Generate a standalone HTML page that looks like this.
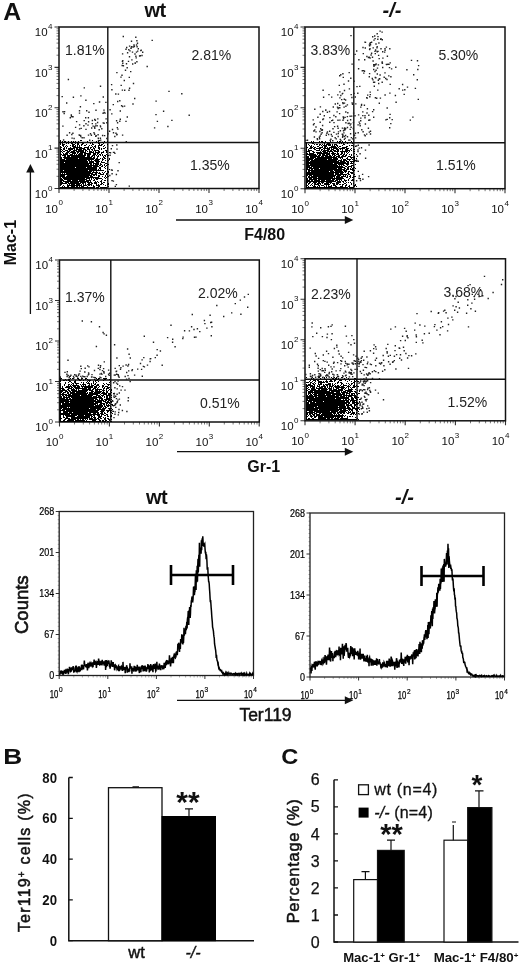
<!DOCTYPE html>
<html><head><meta charset="utf-8"><title>Figure</title>
<style>
html,body{margin:0;padding:0;background:#fff;}
body{width:520px;height:966px;overflow:hidden;font-family:"Liberation Sans", sans-serif;}
svg{display:block;font-family:"Liberation Sans", sans-serif;filter:grayscale(1);}
</style></head><body>
<svg width="520" height="966" viewBox="0 0 520 966">
<rect width="520" height="966" fill="#fff"/>
<path d="M59 188.5v4.5M59 188.5h-4.5M109 188.5v4.5M59 148.1h-4.5M159 188.5v4.5M59 107.8h-4.5M209 188.5v4.5M59 67.4h-4.5M259 188.5v4.5M59 27h-4.5" stroke="#333" stroke-width="1.1" fill="none"/>
<path d="M74.1 188.5v2.5M59 176.3h-2.5M82.9 188.5v2.5M59 169.2h-2.5M89.1 188.5v2.5M59 164.2h-2.5M93.9 188.5v2.5M59 160.3h-2.5M97.9 188.5v2.5M59 157.1h-2.5M101.3 188.5v2.5M59 154.4h-2.5M104.2 188.5v2.5M59 152h-2.5M106.7 188.5v2.5M59 150h-2.5M124.1 188.5v2.5M59 136h-2.5M132.9 188.5v2.5M59 128.9h-2.5M139.1 188.5v2.5M59 123.8h-2.5M143.9 188.5v2.5M59 119.9h-2.5M147.9 188.5v2.5M59 116.7h-2.5M151.3 188.5v2.5M59 114h-2.5M154.2 188.5v2.5M59 111.7h-2.5M156.7 188.5v2.5M59 109.6h-2.5M174.1 188.5v2.5M59 95.6h-2.5M182.9 188.5v2.5M59 88.5h-2.5M189.1 188.5v2.5M59 83.4h-2.5M193.9 188.5v2.5M59 79.5h-2.5M197.9 188.5v2.5M59 76.3h-2.5M201.3 188.5v2.5M59 73.6h-2.5M204.2 188.5v2.5M59 71.3h-2.5M206.7 188.5v2.5M59 69.2h-2.5M224.1 188.5v2.5M59 55.2h-2.5M232.9 188.5v2.5M59 48.1h-2.5M239.1 188.5v2.5M59 43.1h-2.5M243.9 188.5v2.5M59 39.2h-2.5M247.9 188.5v2.5M59 36h-2.5M251.3 188.5v2.5M59 33.3h-2.5M254.2 188.5v2.5M59 30.9h-2.5M256.7 188.5v2.5M59 28.8h-2.5" stroke="#666" stroke-width="0.9" fill="none"/>
<rect x="59" y="27" width="200" height="161.5" fill="none" stroke="#111" stroke-width="1.5"/>
<path d="M107.8 27V188.5M59 142.5H259" stroke="#111" stroke-width="1.4" fill="none"/>
<text x="45.2" y="212.7" font-size="11.5" fill="#111">10<tspan font-size="8" dy="-7.3" dx="0.4">0</tspan></text>
<text x="34.8" y="197.9" font-size="11.5" fill="#111">10<tspan font-size="8" dy="-7.3" dx="0.4">0</tspan></text>
<text x="95.2" y="212.7" font-size="11.5" fill="#111">10<tspan font-size="8" dy="-7.3" dx="0.4">1</tspan></text>
<text x="34.8" y="157.5" font-size="11.5" fill="#111">10<tspan font-size="8" dy="-7.3" dx="0.4">1</tspan></text>
<text x="145.2" y="212.7" font-size="11.5" fill="#111">10<tspan font-size="8" dy="-7.3" dx="0.4">2</tspan></text>
<text x="34.8" y="117.2" font-size="11.5" fill="#111">10<tspan font-size="8" dy="-7.3" dx="0.4">2</tspan></text>
<text x="195.2" y="212.7" font-size="11.5" fill="#111">10<tspan font-size="8" dy="-7.3" dx="0.4">3</tspan></text>
<text x="34.8" y="76.8" font-size="11.5" fill="#111">10<tspan font-size="8" dy="-7.3" dx="0.4">3</tspan></text>
<text x="245.2" y="212.7" font-size="11.5" fill="#111">10<tspan font-size="8" dy="-7.3" dx="0.4">4</tspan></text>
<text x="34.8" y="36.4" font-size="11.5" fill="#111">10<tspan font-size="8" dy="-7.3" dx="0.4">4</tspan></text>
<path d="M100 145.5h1M100 154.5h1M100 155.5h1M100 158.5h1M100 163.5h1M100 164.5h1M100 165.5h1M100 167.5h1M100 168.5h1M100 169.5h1M100 170.5h1M100 173.5h1M100 174.5h1M100 178.5h1M100 181.5h1M100 184.5h1M100 187.5h1M101 144.5h1M101 145.5h1M101 148.5h1M101 149.5h1M101 152.5h1M101 153.5h1M101 161.5h1M101 162.5h1M101 164.5h1M101 166.5h1M101 170.5h1M101 174.5h1M101 178.5h1M101 180.5h1M101 181.5h1M101 182.5h1M101 183.5h1M101 184.5h1M101 187.5h1M102 142.5h1M102 144.5h1M102 152.5h1M102 154.5h1M102 155.5h1M102 158.5h1M102 159.5h1M102 160.5h1M102 162.5h1M102 165.5h1M102 166.5h1M102 170.5h1M102 172.5h1M102 174.5h1M102 176.5h1M102 179.5h1M102 183.5h1M102 187.5h1M103 143.5h1M103 146.5h1M103 148.5h1M103 151.5h1M103 152.5h1M103 156.5h1M103 157.5h1M103 159.5h1M103 162.5h1M103 170.5h1M103 173.5h1M103 174.5h1M103 182.5h1M103 184.5h1M103 187.5h1M104 141.5h1M104 145.5h1M104 148.5h1M104 155.5h1M104 157.5h1M104 158.5h1M104 162.5h1M104 164.5h1M104 165.5h1M104 167.5h1M104 172.5h1M104 177.5h1M104 180.5h1M104 182.5h1M104 187.5h1M105 147.5h1M105 150.5h1M105 155.5h1M105 156.5h1M105 158.5h1M105 160.5h1M105 163.5h1M105 166.5h1M105 168.5h1M105 171.5h1M105 175.5h1M105 176.5h1M105 178.5h1M105 180.5h1M105 185.5h1M105 187.5h1M106 150.5h1M106 151.5h1M106 152.5h1M106 154.5h1M106 163.5h1M106 165.5h1M106 173.5h1M106 174.5h1M106 177.5h1M106 187.5h1M107 141.5h1M107 144.5h1M107 148.5h1M107 155.5h1M107 156.5h1M107 161.5h1M107 164.5h1M107 167.5h1M107 168.5h1M107 169.5h1M107 171.5h1M107 173.5h1M107 175.5h1M107 176.5h1M107 180.5h1M107 184.5h1M108 155.5h1M108 160.5h1M108 164.5h1M108 171.5h1M108 172.5h1M108 176.5h1M108 183.5h1M108 184.5h1M108 186.5h1M109 152.5h1M109 158.5h1M109 159.5h1M109 169.5h1M60 140.5h1M60 141.5h1M60 142.5h1M60 143.5h1M60 144.5h1M60 146.5h1M60 147.5h1M60 148.5h1M60 149.5h1M60 150.5h1M60 151.5h1M60 152.5h1M60 153.5h1M60 154.5h1M60 155.5h1M60 156.5h1M60 157.5h1M60 158.5h1M60 159.5h1M60 160.5h1M60 161.5h1M60 162.5h1M60 163.5h1M60 164.5h1M60 165.5h1M60 166.5h1M60 167.5h1M60 168.5h1M60 169.5h1M60 170.5h1M60 171.5h1M60 172.5h1M60 173.5h1M60 174.5h1M60 175.5h1M60 176.5h1M60 177.5h1M60 178.5h1M60 179.5h1M60 180.5h1M60 181.5h1M60 182.5h1M60 183.5h1M60 184.5h1M60 185.5h1M60 187.5h1M61 147.5h1M61 149.5h1M61 151.5h1M61 154.5h1M61 157.5h1M61 158.5h1M61 159.5h1M61 160.5h1M61 161.5h1M61 162.5h1M61 163.5h1M61 164.5h1M61 165.5h1M61 166.5h1M61 167.5h1M61 168.5h1M61 169.5h1M61 170.5h1M61 171.5h1M61 172.5h1M61 174.5h1M61 175.5h1M61 176.5h1M61 178.5h1M61 179.5h1M61 180.5h1M61 181.5h1M61 182.5h1M61 183.5h1M61 184.5h1M61 187.5h1M62 141.5h1M62 143.5h1M62 144.5h1M62 145.5h1M62 150.5h1M62 152.5h1M62 155.5h1M62 159.5h1M62 160.5h1M62 161.5h1M62 162.5h1M62 163.5h1M62 164.5h1M62 165.5h1M62 166.5h1M62 167.5h1M62 168.5h1M62 169.5h1M62 170.5h1M62 171.5h1M62 172.5h1M62 173.5h1M62 174.5h1M62 175.5h1M62 176.5h1M62 177.5h1M62 179.5h1M62 180.5h1M62 182.5h1M62 183.5h1M62 186.5h1M62 187.5h1M63 144.5h1M63 145.5h1M63 146.5h1M63 148.5h1M63 149.5h1M63 151.5h1M63 153.5h1M63 154.5h1M63 155.5h1M63 157.5h1M63 159.5h1M63 160.5h1M63 161.5h1M63 162.5h1M63 163.5h1M63 164.5h1M63 165.5h1M63 166.5h1M63 167.5h1M63 168.5h1M63 169.5h1M63 171.5h1M63 172.5h1M63 174.5h1M63 175.5h1M63 176.5h1M63 177.5h1M63 178.5h1M63 180.5h1M63 181.5h1M63 183.5h1M63 185.5h1M63 187.5h1M64 141.5h1M64 142.5h1M64 144.5h1M64 147.5h1M64 148.5h1M64 149.5h1M64 151.5h1M64 154.5h1M64 155.5h1M64 156.5h1M64 157.5h1M64 158.5h1M64 159.5h1M64 160.5h1M64 161.5h1M64 163.5h1M64 164.5h1M64 165.5h1M64 166.5h1M64 167.5h1M64 168.5h1M64 169.5h1M64 170.5h1M64 171.5h1M64 172.5h1M64 173.5h1M64 174.5h1M64 175.5h1M64 176.5h1M64 177.5h1M64 178.5h1M64 179.5h1M64 181.5h1M64 183.5h1M64 186.5h1M64 187.5h1M65 141.5h1M65 146.5h1M65 150.5h1M65 153.5h1M65 154.5h1M65 155.5h1M65 156.5h1M65 157.5h1M65 158.5h1M65 160.5h1M65 161.5h1M65 162.5h1M65 163.5h1M65 164.5h1M65 165.5h1M65 166.5h1M65 167.5h1M65 168.5h1M65 169.5h1M65 170.5h1M65 171.5h1M65 172.5h1M65 174.5h1M65 177.5h1M65 178.5h1M65 179.5h1M65 181.5h1M65 182.5h1M65 183.5h1M65 187.5h1M66 143.5h1M66 145.5h1M66 147.5h1M66 148.5h1M66 150.5h1M66 152.5h1M66 153.5h1M66 154.5h1M66 157.5h1M66 158.5h1M66 159.5h1M66 160.5h1M66 161.5h1M66 162.5h1M66 163.5h1M66 164.5h1M66 165.5h1M66 166.5h1M66 167.5h1M66 168.5h1M66 169.5h1M66 170.5h1M66 171.5h1M66 172.5h1M66 173.5h1M66 174.5h1M66 176.5h1M66 177.5h1M66 178.5h1M66 179.5h1M66 181.5h1M66 182.5h1M66 183.5h1M66 187.5h1M67 142.5h1M67 146.5h1M67 150.5h1M67 151.5h1M67 152.5h1M67 153.5h1M67 154.5h1M67 155.5h1M67 156.5h1M67 157.5h1M67 158.5h1M67 159.5h1M67 160.5h1M67 161.5h1M67 162.5h1M67 163.5h1M67 164.5h1M67 165.5h1M67 166.5h1M67 167.5h1M67 168.5h1M67 169.5h1M67 170.5h1M67 171.5h1M67 172.5h1M67 173.5h1M67 174.5h1M67 175.5h1M67 176.5h1M67 177.5h1M67 178.5h1M67 179.5h1M67 180.5h1M67 181.5h1M67 182.5h1M67 184.5h1M67 185.5h1M67 186.5h1M67 187.5h1M68 141.5h1M68 143.5h1M68 148.5h1M68 149.5h1M68 151.5h1M68 152.5h1M68 155.5h1M68 156.5h1M68 157.5h1M68 158.5h1M68 159.5h1M68 160.5h1M68 161.5h1M68 162.5h1M68 163.5h1M68 164.5h1M68 165.5h1M68 166.5h1M68 167.5h1M68 168.5h1M68 169.5h1M68 170.5h1M68 171.5h1M68 172.5h1M68 173.5h1M68 174.5h1M68 175.5h1M68 176.5h1M68 177.5h1M68 178.5h1M68 179.5h1M68 180.5h1M68 181.5h1M68 182.5h1M68 183.5h1M68 185.5h1M68 186.5h1M68 187.5h1M69 148.5h1M69 149.5h1M69 150.5h1M69 151.5h1M69 153.5h1M69 155.5h1M69 156.5h1M69 157.5h1M69 158.5h1M69 159.5h1M69 160.5h1M69 161.5h1M69 162.5h1M69 163.5h1M69 164.5h1M69 165.5h1M69 166.5h1M69 167.5h1M69 168.5h1M69 169.5h1M69 170.5h1M69 171.5h1M69 172.5h1M69 173.5h1M69 174.5h1M69 175.5h1M69 176.5h1M69 177.5h1M69 178.5h1M69 179.5h1M69 180.5h1M69 181.5h1M69 183.5h1M69 184.5h1M69 185.5h1M69 187.5h1M70 142.5h1M70 145.5h1M70 147.5h1M70 148.5h1M70 149.5h1M70 150.5h1M70 152.5h1M70 154.5h1M70 155.5h1M70 157.5h1M70 158.5h1M70 159.5h1M70 160.5h1M70 161.5h1M70 162.5h1M70 163.5h1M70 164.5h1M70 165.5h1M70 166.5h1M70 167.5h1M70 168.5h1M70 169.5h1M70 170.5h1M70 171.5h1M70 172.5h1M70 173.5h1M70 174.5h1M70 175.5h1M70 176.5h1M70 177.5h1M70 178.5h1M70 179.5h1M70 180.5h1M70 181.5h1M70 182.5h1M70 183.5h1M70 185.5h1M70 187.5h1M71 141.5h1M71 143.5h1M71 148.5h1M71 149.5h1M71 151.5h1M71 152.5h1M71 154.5h1M71 155.5h1M71 156.5h1M71 157.5h1M71 158.5h1M71 159.5h1M71 160.5h1M71 161.5h1M71 162.5h1M71 163.5h1M71 164.5h1M71 165.5h1M71 166.5h1M71 167.5h1M71 168.5h1M71 169.5h1M71 170.5h1M71 171.5h1M71 172.5h1M71 173.5h1M71 174.5h1M71 175.5h1M71 176.5h1M71 177.5h1M71 178.5h1M71 179.5h1M71 181.5h1M71 182.5h1M71 183.5h1M71 184.5h1M71 185.5h1M71 186.5h1M71 187.5h1M72 142.5h1M72 143.5h1M72 144.5h1M72 145.5h1M72 146.5h1M72 148.5h1M72 149.5h1M72 151.5h1M72 152.5h1M72 153.5h1M72 154.5h1M72 155.5h1M72 156.5h1M72 157.5h1M72 158.5h1M72 159.5h1M72 160.5h1M72 161.5h1M72 162.5h1M72 163.5h1M72 164.5h1M72 165.5h1M72 166.5h1M72 167.5h1M72 168.5h1M72 169.5h1M72 170.5h1M72 171.5h1M72 172.5h1M72 173.5h1M72 174.5h1M72 175.5h1M72 176.5h1M72 177.5h1M72 178.5h1M72 179.5h1M72 180.5h1M72 181.5h1M72 182.5h1M72 183.5h1M72 184.5h1M72 185.5h1M72 186.5h1M72 187.5h1M73 141.5h1M73 142.5h1M73 144.5h1M73 145.5h1M73 146.5h1M73 147.5h1M73 148.5h1M73 150.5h1M73 151.5h1M73 152.5h1M73 153.5h1M73 155.5h1M73 156.5h1M73 157.5h1M73 158.5h1M73 159.5h1M73 160.5h1M73 161.5h1M73 162.5h1M73 163.5h1M73 164.5h1M73 165.5h1M73 166.5h1M73 167.5h1M73 168.5h1M73 169.5h1M73 170.5h1M73 171.5h1M73 172.5h1M73 173.5h1M73 174.5h1M73 175.5h1M73 176.5h1M73 177.5h1M73 178.5h1M73 179.5h1M73 180.5h1M73 181.5h1M73 182.5h1M73 183.5h1M73 184.5h1M73 185.5h1M73 186.5h1M73 187.5h1M74 142.5h1M74 144.5h1M74 146.5h1M74 147.5h1M74 148.5h1M74 149.5h1M74 150.5h1M74 151.5h1M74 152.5h1M74 153.5h1M74 154.5h1M74 155.5h1M74 156.5h1M74 157.5h1M74 158.5h1M74 159.5h1M74 160.5h1M74 161.5h1M74 162.5h1M74 163.5h1M74 164.5h1M74 165.5h1M74 166.5h1M74 167.5h1M74 168.5h1M74 169.5h1M74 170.5h1M74 171.5h1M74 172.5h1M74 173.5h1M74 174.5h1M74 175.5h1M74 176.5h1M74 177.5h1M74 178.5h1M74 179.5h1M74 180.5h1M74 181.5h1M74 182.5h1M74 183.5h1M74 184.5h1M74 185.5h1M74 186.5h1M74 187.5h1M75 141.5h1M75 143.5h1M75 145.5h1M75 146.5h1M75 147.5h1M75 150.5h1M75 152.5h1M75 153.5h1M75 155.5h1M75 156.5h1M75 157.5h1M75 158.5h1M75 159.5h1M75 160.5h1M75 161.5h1M75 162.5h1M75 163.5h1M75 164.5h1M75 165.5h1M75 166.5h1M75 168.5h1M75 169.5h1M75 170.5h1M75 171.5h1M75 172.5h1M75 173.5h1M75 174.5h1M75 175.5h1M75 176.5h1M75 177.5h1M75 178.5h1M75 179.5h1M75 180.5h1M75 181.5h1M75 182.5h1M75 183.5h1M75 185.5h1M75 187.5h1M76 147.5h1M76 148.5h1M76 149.5h1M76 150.5h1M76 151.5h1M76 154.5h1M76 155.5h1M76 156.5h1M76 157.5h1M76 158.5h1M76 159.5h1M76 160.5h1M76 161.5h1M76 162.5h1M76 163.5h1M76 164.5h1M76 165.5h1M76 166.5h1M76 167.5h1M76 168.5h1M76 169.5h1M76 170.5h1M76 171.5h1M76 172.5h1M76 173.5h1M76 174.5h1M76 175.5h1M76 176.5h1M76 177.5h1M76 178.5h1M76 179.5h1M76 180.5h1M76 181.5h1M76 182.5h1M76 183.5h1M76 184.5h1M76 185.5h1M76 186.5h1M76 187.5h1M77 142.5h1M77 143.5h1M77 144.5h1M77 145.5h1M77 146.5h1M77 147.5h1M77 148.5h1M77 149.5h1M77 151.5h1M77 152.5h1M77 153.5h1M77 155.5h1M77 156.5h1M77 157.5h1M77 158.5h1M77 159.5h1M77 160.5h1M77 161.5h1M77 162.5h1M77 163.5h1M77 164.5h1M77 165.5h1M77 166.5h1M77 167.5h1M77 168.5h1M77 169.5h1M77 170.5h1M77 171.5h1M77 172.5h1M77 173.5h1M77 174.5h1M77 175.5h1M77 176.5h1M77 177.5h1M77 178.5h1M77 179.5h1M77 180.5h1M77 181.5h1M77 182.5h1M77 183.5h1M77 184.5h1M77 185.5h1M77 186.5h1M77 187.5h1M78 141.5h1M78 143.5h1M78 144.5h1M78 147.5h1M78 149.5h1M78 150.5h1M78 151.5h1M78 152.5h1M78 154.5h1M78 155.5h1M78 156.5h1M78 157.5h1M78 159.5h1M78 160.5h1M78 161.5h1M78 162.5h1M78 163.5h1M78 164.5h1M78 165.5h1M78 166.5h1M78 167.5h1M78 168.5h1M78 169.5h1M78 170.5h1M78 171.5h1M78 172.5h1M78 173.5h1M78 174.5h1M78 175.5h1M78 176.5h1M78 177.5h1M78 178.5h1M78 179.5h1M78 181.5h1M78 182.5h1M78 183.5h1M78 184.5h1M78 185.5h1M78 187.5h1M79 145.5h1M79 146.5h1M79 147.5h1M79 148.5h1M79 149.5h1M79 150.5h1M79 151.5h1M79 153.5h1M79 154.5h1M79 155.5h1M79 156.5h1M79 157.5h1M79 158.5h1M79 159.5h1M79 160.5h1M79 161.5h1M79 162.5h1M79 163.5h1M79 164.5h1M79 165.5h1M79 166.5h1M79 167.5h1M79 168.5h1M79 169.5h1M79 170.5h1M79 171.5h1M79 172.5h1M79 173.5h1M79 174.5h1M79 175.5h1M79 176.5h1M79 177.5h1M79 178.5h1M79 179.5h1M79 180.5h1M79 181.5h1M79 183.5h1M79 184.5h1M79 185.5h1M79 186.5h1M79 187.5h1M80 140.5h1M80 147.5h1M80 148.5h1M80 149.5h1M80 150.5h1M80 151.5h1M80 152.5h1M80 153.5h1M80 154.5h1M80 155.5h1M80 156.5h1M80 157.5h1M80 158.5h1M80 159.5h1M80 160.5h1M80 161.5h1M80 162.5h1M80 163.5h1M80 164.5h1M80 165.5h1M80 166.5h1M80 167.5h1M80 168.5h1M80 169.5h1M80 170.5h1M80 171.5h1M80 172.5h1M80 173.5h1M80 174.5h1M80 175.5h1M80 176.5h1M80 177.5h1M80 178.5h1M80 179.5h1M80 180.5h1M80 181.5h1M80 182.5h1M80 183.5h1M80 185.5h1M80 187.5h1M81 140.5h1M81 142.5h1M81 144.5h1M81 145.5h1M81 147.5h1M81 148.5h1M81 149.5h1M81 150.5h1M81 151.5h1M81 152.5h1M81 153.5h1M81 154.5h1M81 155.5h1M81 156.5h1M81 157.5h1M81 158.5h1M81 159.5h1M81 160.5h1M81 161.5h1M81 162.5h1M81 163.5h1M81 164.5h1M81 165.5h1M81 166.5h1M81 167.5h1M81 168.5h1M81 169.5h1M81 170.5h1M81 171.5h1M81 172.5h1M81 173.5h1M81 174.5h1M81 175.5h1M81 176.5h1M81 177.5h1M81 178.5h1M81 179.5h1M81 180.5h1M81 181.5h1M81 182.5h1M81 184.5h1M81 185.5h1M81 186.5h1M81 187.5h1M82 142.5h1M82 143.5h1M82 144.5h1M82 148.5h1M82 150.5h1M82 151.5h1M82 152.5h1M82 153.5h1M82 154.5h1M82 155.5h1M82 156.5h1M82 157.5h1M82 158.5h1M82 159.5h1M82 160.5h1M82 161.5h1M82 162.5h1M82 163.5h1M82 164.5h1M82 165.5h1M82 166.5h1M82 167.5h1M82 168.5h1M82 169.5h1M82 170.5h1M82 171.5h1M82 172.5h1M82 173.5h1M82 174.5h1M82 175.5h1M82 176.5h1M82 177.5h1M82 178.5h1M82 179.5h1M82 180.5h1M82 181.5h1M82 182.5h1M82 183.5h1M82 186.5h1M82 187.5h1M83 143.5h1M83 148.5h1M83 149.5h1M83 150.5h1M83 151.5h1M83 152.5h1M83 155.5h1M83 156.5h1M83 157.5h1M83 158.5h1M83 159.5h1M83 160.5h1M83 161.5h1M83 162.5h1M83 163.5h1M83 164.5h1M83 165.5h1M83 166.5h1M83 167.5h1M83 168.5h1M83 169.5h1M83 170.5h1M83 171.5h1M83 172.5h1M83 173.5h1M83 174.5h1M83 175.5h1M83 176.5h1M83 177.5h1M83 178.5h1M83 179.5h1M83 180.5h1M83 181.5h1M83 182.5h1M83 183.5h1M83 184.5h1M83 185.5h1M83 186.5h1M83 187.5h1M84 145.5h1M84 147.5h1M84 148.5h1M84 149.5h1M84 152.5h1M84 153.5h1M84 154.5h1M84 155.5h1M84 156.5h1M84 157.5h1M84 158.5h1M84 159.5h1M84 160.5h1M84 161.5h1M84 162.5h1M84 163.5h1M84 164.5h1M84 165.5h1M84 166.5h1M84 167.5h1M84 168.5h1M84 169.5h1M84 170.5h1M84 171.5h1M84 172.5h1M84 173.5h1M84 174.5h1M84 175.5h1M84 176.5h1M84 177.5h1M84 178.5h1M84 179.5h1M84 180.5h1M84 181.5h1M84 182.5h1M84 185.5h1M84 187.5h1M85 145.5h1M85 147.5h1M85 149.5h1M85 150.5h1M85 151.5h1M85 152.5h1M85 153.5h1M85 154.5h1M85 155.5h1M85 157.5h1M85 158.5h1M85 159.5h1M85 160.5h1M85 161.5h1M85 162.5h1M85 163.5h1M85 164.5h1M85 165.5h1M85 166.5h1M85 167.5h1M85 168.5h1M85 169.5h1M85 170.5h1M85 171.5h1M85 172.5h1M85 173.5h1M85 174.5h1M85 175.5h1M85 176.5h1M85 177.5h1M85 179.5h1M85 181.5h1M85 182.5h1M85 183.5h1M85 184.5h1M85 185.5h1M85 187.5h1M86 144.5h1M86 147.5h1M86 150.5h1M86 153.5h1M86 157.5h1M86 158.5h1M86 159.5h1M86 160.5h1M86 161.5h1M86 162.5h1M86 163.5h1M86 164.5h1M86 165.5h1M86 166.5h1M86 168.5h1M86 169.5h1M86 170.5h1M86 171.5h1M86 172.5h1M86 173.5h1M86 174.5h1M86 175.5h1M86 176.5h1M86 177.5h1M86 178.5h1M86 179.5h1M86 180.5h1M86 181.5h1M86 185.5h1M86 187.5h1M87 141.5h1M87 142.5h1M87 147.5h1M87 148.5h1M87 149.5h1M87 151.5h1M87 153.5h1M87 154.5h1M87 155.5h1M87 156.5h1M87 157.5h1M87 158.5h1M87 159.5h1M87 161.5h1M87 162.5h1M87 163.5h1M87 164.5h1M87 165.5h1M87 166.5h1M87 167.5h1M87 168.5h1M87 169.5h1M87 170.5h1M87 171.5h1M87 172.5h1M87 173.5h1M87 174.5h1M87 175.5h1M87 176.5h1M87 177.5h1M87 178.5h1M87 180.5h1M87 181.5h1M87 182.5h1M87 184.5h1M87 186.5h1M87 187.5h1M88 146.5h1M88 147.5h1M88 148.5h1M88 149.5h1M88 153.5h1M88 154.5h1M88 155.5h1M88 156.5h1M88 157.5h1M88 158.5h1M88 159.5h1M88 160.5h1M88 163.5h1M88 164.5h1M88 165.5h1M88 166.5h1M88 167.5h1M88 168.5h1M88 169.5h1M88 171.5h1M88 172.5h1M88 173.5h1M88 174.5h1M88 175.5h1M88 176.5h1M88 177.5h1M88 178.5h1M88 180.5h1M88 181.5h1M88 182.5h1M88 183.5h1M88 184.5h1M88 185.5h1M88 187.5h1M89 145.5h1M89 149.5h1M89 150.5h1M89 151.5h1M89 152.5h1M89 153.5h1M89 154.5h1M89 155.5h1M89 156.5h1M89 157.5h1M89 158.5h1M89 159.5h1M89 160.5h1M89 161.5h1M89 162.5h1M89 163.5h1M89 165.5h1M89 166.5h1M89 167.5h1M89 168.5h1M89 169.5h1M89 170.5h1M89 171.5h1M89 172.5h1M89 173.5h1M89 174.5h1M89 175.5h1M89 177.5h1M89 178.5h1M89 179.5h1M89 180.5h1M89 182.5h1M89 183.5h1M89 184.5h1M89 185.5h1M89 187.5h1M90 143.5h1M90 147.5h1M90 148.5h1M90 151.5h1M90 152.5h1M90 153.5h1M90 154.5h1M90 157.5h1M90 158.5h1M90 159.5h1M90 161.5h1M90 162.5h1M90 163.5h1M90 164.5h1M90 165.5h1M90 166.5h1M90 167.5h1M90 168.5h1M90 169.5h1M90 170.5h1M90 171.5h1M90 172.5h1M90 173.5h1M90 175.5h1M90 176.5h1M90 177.5h1M90 180.5h1M90 181.5h1M90 182.5h1M90 184.5h1M90 187.5h1M91 145.5h1M91 147.5h1M91 149.5h1M91 151.5h1M91 152.5h1M91 156.5h1M91 157.5h1M91 158.5h1M91 159.5h1M91 160.5h1M91 161.5h1M91 162.5h1M91 163.5h1M91 164.5h1M91 165.5h1M91 166.5h1M91 167.5h1M91 168.5h1M91 169.5h1M91 170.5h1M91 171.5h1M91 173.5h1M91 174.5h1M91 175.5h1M91 176.5h1M91 177.5h1M91 178.5h1M91 179.5h1M91 182.5h1M91 183.5h1M91 184.5h1M91 185.5h1M91 187.5h1M92 140.5h1M92 143.5h1M92 144.5h1M92 146.5h1M92 149.5h1M92 150.5h1M92 152.5h1M92 155.5h1M92 156.5h1M92 158.5h1M92 159.5h1M92 161.5h1M92 162.5h1M92 165.5h1M92 167.5h1M92 168.5h1M92 169.5h1M92 170.5h1M92 172.5h1M92 173.5h1M92 174.5h1M92 176.5h1M92 177.5h1M92 183.5h1M92 187.5h1M93 144.5h1M93 147.5h1M93 148.5h1M93 151.5h1M93 152.5h1M93 153.5h1M93 154.5h1M93 155.5h1M93 157.5h1M93 158.5h1M93 159.5h1M93 161.5h1M93 162.5h1M93 163.5h1M93 164.5h1M93 165.5h1M93 166.5h1M93 167.5h1M93 168.5h1M93 169.5h1M93 170.5h1M93 171.5h1M93 172.5h1M93 174.5h1M93 175.5h1M93 177.5h1M93 178.5h1M93 180.5h1M93 185.5h1M93 186.5h1M93 187.5h1M94 146.5h1M94 148.5h1M94 149.5h1M94 150.5h1M94 153.5h1M94 154.5h1M94 155.5h1M94 156.5h1M94 157.5h1M94 158.5h1M94 160.5h1M94 163.5h1M94 165.5h1M94 166.5h1M94 167.5h1M94 168.5h1M94 169.5h1M94 170.5h1M94 172.5h1M94 174.5h1M94 175.5h1M94 177.5h1M94 179.5h1M94 180.5h1M94 182.5h1M94 183.5h1M94 186.5h1M94 187.5h1M95 142.5h1M95 145.5h1M95 146.5h1M95 147.5h1M95 150.5h1M95 151.5h1M95 152.5h1M95 153.5h1M95 154.5h1M95 159.5h1M95 160.5h1M95 161.5h1M95 163.5h1M95 164.5h1M95 165.5h1M95 166.5h1M95 167.5h1M95 168.5h1M95 169.5h1M95 170.5h1M95 172.5h1M95 173.5h1M95 174.5h1M95 177.5h1M95 178.5h1M95 181.5h1M95 182.5h1M95 183.5h1M96 141.5h1M96 150.5h1M96 152.5h1M96 155.5h1M96 158.5h1M96 159.5h1M96 160.5h1M96 161.5h1M96 162.5h1M96 163.5h1M96 164.5h1M96 165.5h1M96 166.5h1M96 167.5h1M96 168.5h1M96 169.5h1M96 170.5h1M96 171.5h1M96 172.5h1M96 173.5h1M96 174.5h1M96 175.5h1M96 177.5h1M96 178.5h1M96 179.5h1M96 182.5h1M96 183.5h1M96 184.5h1M96 185.5h1M96 187.5h1M97 150.5h1M97 152.5h1M97 153.5h1M97 154.5h1M97 156.5h1M97 157.5h1M97 158.5h1M97 159.5h1M97 160.5h1M97 161.5h1M97 162.5h1M97 163.5h1M97 164.5h1M97 165.5h1M97 166.5h1M97 170.5h1M97 172.5h1M97 177.5h1M97 178.5h1M97 179.5h1M97 181.5h1M97 185.5h1M97 187.5h1M98 141.5h1M98 143.5h1M98 145.5h1M98 146.5h1M98 147.5h1M98 148.5h1M98 150.5h1M98 151.5h1M98 152.5h1M98 153.5h1M98 155.5h1M98 156.5h1M98 159.5h1M98 160.5h1M98 161.5h1M98 162.5h1M98 163.5h1M98 164.5h1M98 166.5h1M98 169.5h1M98 170.5h1M98 173.5h1M98 175.5h1M98 176.5h1M98 177.5h1M98 178.5h1M98 182.5h1M98 184.5h1M98 185.5h1M98 186.5h1M98 187.5h1M99 140.5h1M99 143.5h1M99 144.5h1M99 145.5h1M99 147.5h1M99 148.5h1M99 149.5h1M99 151.5h1M99 152.5h1M99 154.5h1M99 159.5h1M99 161.5h1M99 165.5h1M99 167.5h1M99 168.5h1M99 170.5h1M99 172.5h1M99 173.5h1M99 175.5h1M99 176.5h1M99 178.5h1M99 185.5h1M99 186.5h1" stroke="#000" stroke-width="1" fill="none" shape-rendering="crispEdges"/>
<path d="M97.8 140.4h1.4M93.9 134.3h1.4M111.8 129.5h1.4M93.9 127h1.4M100 140.1h1.4M68.9 132.7h1.4M83.2 125.7h1.4M105.2 102.4h1.4M85.2 100.3h1.4M72.2 133.2h1.4M95.3 110.3h1.4M102.5 122.9h1.4M74.9 127.4h1.4M87.3 125.1h1.4M95.5 135.7h1.4M85.3 123.8h1.4M96.4 125.8h1.4M97.4 134.8h1.4M82.4 50.1h1.4M80.2 95.9h1.4M103.4 123.3h1.4M66 103h1.4M96.9 122.5h1.4M88.3 112.3h1.4M66.4 135.3h1.4M63.5 113.5h1.4M94.8 125.9h1.4M67.7 79.5h1.4M91.6 123.6h1.4M94 119.5h1.4M73.4 138.5h1.4M61.5 96.6h1.4M95 136.3h1.4M62.2 126.1h1.4M90.7 135.3h1.4M99.7 125.9h1.4M85 117.8h1.4M98.9 101.9h1.4M79.9 135.4h1.4M62.3 111.8h1.4M83.6 87.9h1.4M94.1 128.2h1.4M87.9 121.8h1.4M95.1 123.9h1.4M78.8 113.1h1.4M104.4 113.1h1.4M98.8 102h1.4M106.1 122.7h1.4M97.1 118.9h1.4M69.6 117.8h1.4M92.4 126.1h1.4M93.3 132.7h1.4M105.4 118.9h1.4M63.9 111.6h1.4M103.9 135.6h1.4M83.3 137.7h1.4M87.8 135.1h1.4M72.7 97.3h1.4M79.7 106.8h1.4M70.6 115h1.4M103.5 112.5h1.4M78.9 128.9h1.4M72.3 116.7h1.4M75.9 121.6h1.4M99.9 126.9h1.4M94.7 120.3h1.4M87.7 117.7h1.4M99.7 138.2h1.4M97.6 138.2h1.4M89.8 133.8h1.4M80.5 128.4h1.4M70.7 116.2h1.4M93.1 103.6h1.4M106.1 138.6h1.4M71.4 138.1h1.4M83.5 120.6h1.4M85.3 129.4h1.4M91.7 120.5h1.4M89 140.3h1.4M80.1 136.5h1.4M78.8 135.4h1.4M101.9 135.5h1.4M78.8 110.7h1.4M106.1 138.5h1.4M86 110.7h1.4M71.4 116.7h1.4M101.1 128.8h1.4M62.9 140h1.4M81.5 137.8h1.4M98.5 129.7h1.4M78.9 124.9h1.4M78.5 134.9h1.4M91 128h1.4M71.1 134.5h1.4M108.9 131.3h1.4M110.9 84.6h1.4M128.3 90.2h1.4M131.8 52.1h1.4M114.1 136.5h1.4M135.9 45h1.4M99.8 86.2h1.4M134 98.5h1.4M103.3 110.1h1.4M132 64h1.4M126.6 117h1.4M119.1 121.3h1.4M117.2 129.1h1.4M125.6 141.6h1.4M109.4 109.7h1.4M111.2 89.7h1.4M136.2 61.8h1.4M120.5 85.4h1.4M111.1 113.9h1.4M107.3 133.9h1.4M116.9 122.8h1.4M128.9 88.2h1.4M115.3 133.2h1.4M127.8 61.4h1.4M123.6 80.5h1.4M134.5 62.9h1.4M122.1 60.7h1.4M125.3 121.4h1.4M102.4 113.3h1.4M119.6 119.3h1.4M137.6 48.8h1.4M122.1 63.2h1.4M116.6 127.6h1.4M122.6 36.5h1.4M135.5 57.9h1.4M128.6 77.4h1.4M121.3 75.2h1.4M117.7 94.1h1.4M126.5 67.8h1.4M115.9 120.8h1.4M120.9 105.8h1.4M132.3 104h1.4M116.2 72.6h1.4M126 47.5h1.4M115.1 94h1.4M112.6 104.6h1.4M124.8 70.2h1.4M117 101.5h1.4M138.9 56h1.4M141.3 55.5h1.4M116.1 134.7h1.4M124 90.2h1.4M121.7 90.1h1.4M151.5 40.4h1.4M121.9 135.1h1.4M116.4 134.4h1.4M121.7 61.4h1.4M102.6 97h1.4M123.9 106.1h1.4M132.8 83.5h1.4M112.8 132.8h1.4M128.8 56.8h1.4M120.3 77.1h1.4M130.9 46.8h1.4M119.6 111h1.4M122.7 65.8h1.4M119.1 100.7h1.4M122 106.5h1.4M142 52.3h1.4M130 71.6h1.4M134.3 54h1.4M131.2 59.9h1.4M146.5 66.5h1.4M135.2 56.3h1.4M136.2 40.7h1.4M135.1 37.2h1.4M133.7 46.5h1.4M125.8 63.7h1.4M136.4 46.8h1.4M139.6 55.8h1.4M126.9 52.7h1.4M121.5 65.5h1.4M130.4 48.4h1.4M132.5 47h1.4M136.8 43.3h1.4M129.3 50.9h1.4M135.8 52.1h1.4M128.1 49.8h1.4M121.9 53.9h1.4M140.1 50.6h1.4M133.3 45h1.4M130.2 48.1h1.4M128.9 46.1h1.4M137 51.1h1.4M125.3 49.3h1.4M134.5 63.2h1.4M140.5 50.3h1.4M130.8 41.2h1.4M188.5 115.3h1.4M168.3 91.4h1.4M156.7 121.4h1.4M171.2 120.4h1.4M181.1 93.8h1.4M167.2 126.5h1.4M153.9 127.9h1.4M155.3 114.6h1.4M162.9 111.2h1.4M155.4 101.1h1.4M109.4 155.3h1.4M128.6 186.1h1.4M111.8 145.6h1.4M113.5 152.4h1.4M118.5 162.6h1.4M117.3 170.7h1.4M110.7 169.9h1.4M111.3 180.6h1.4M109.1 175.5h1.4M115.7 174.5h1.4M110.6 148.7h1.4M116.3 149.1h1.4M109.8 152.8h1.4M116.1 145h1.4M112.8 152.4h1.4M112.7 181.1h1.4M114.6 186.4h1.4M111.4 173.8h1.4M115.7 184.6h1.4M111.5 170.2h1.4M114.2 153.4h1.4" stroke="#222" stroke-width="1.4" fill="none"/>
<text x="65" y="54.5" font-size="14" fill="#222">1.81%</text>
<text x="191.5" y="59.5" font-size="14" fill="#222">2.81%</text>
<text x="190" y="169.5" font-size="14" fill="#222">1.35%</text>
<path d="M305 188.7v4.5M305 188.7h-4.5M355 188.7v4.5M305 148.3h-4.5M405 188.7v4.5M305 107.8h-4.5M455 188.7v4.5M305 67.4h-4.5M505 188.7v4.5M305 27h-4.5" stroke="#333" stroke-width="1.1" fill="none"/>
<path d="M320.1 188.7v2.5M305 176.5h-2.5M328.9 188.7v2.5M305 169.4h-2.5M335.1 188.7v2.5M305 164.4h-2.5M339.9 188.7v2.5M305 160.4h-2.5M343.9 188.7v2.5M305 157.2h-2.5M347.3 188.7v2.5M305 154.5h-2.5M350.2 188.7v2.5M305 152.2h-2.5M352.7 188.7v2.5M305 150.1h-2.5M370.1 188.7v2.5M305 136.1h-2.5M378.9 188.7v2.5M305 129h-2.5M385.1 188.7v2.5M305 123.9h-2.5M389.9 188.7v2.5M305 120h-2.5M393.9 188.7v2.5M305 116.8h-2.5M397.3 188.7v2.5M305 114.1h-2.5M400.2 188.7v2.5M305 111.8h-2.5M402.7 188.7v2.5M305 109.7h-2.5M420.1 188.7v2.5M305 95.7h-2.5M428.9 188.7v2.5M305 88.6h-2.5M435.1 188.7v2.5M305 83.5h-2.5M439.9 188.7v2.5M305 79.6h-2.5M443.9 188.7v2.5M305 76.4h-2.5M447.3 188.7v2.5M305 73.7h-2.5M450.2 188.7v2.5M305 71.3h-2.5M452.7 188.7v2.5M305 69.3h-2.5M470.1 188.7v2.5M305 55.3h-2.5M478.9 188.7v2.5M305 48.1h-2.5M485.1 188.7v2.5M305 43.1h-2.5M489.9 188.7v2.5M305 39.2h-2.5M493.9 188.7v2.5M305 36h-2.5M497.3 188.7v2.5M305 33.3h-2.5M500.2 188.7v2.5M305 30.9h-2.5M502.7 188.7v2.5M305 28.8h-2.5" stroke="#666" stroke-width="0.9" fill="none"/>
<rect x="305" y="27" width="200" height="161.7" fill="none" stroke="#111" stroke-width="1.5"/>
<path d="M353.8 27V188.7M305 142.8H505" stroke="#111" stroke-width="1.4" fill="none"/>
<text x="291.2" y="212.9" font-size="11.5" fill="#111">10<tspan font-size="8" dy="-7.3" dx="0.4">0</tspan></text>
<text x="280.8" y="198.1" font-size="11.5" fill="#111">10<tspan font-size="8" dy="-7.3" dx="0.4">0</tspan></text>
<text x="341.2" y="212.9" font-size="11.5" fill="#111">10<tspan font-size="8" dy="-7.3" dx="0.4">1</tspan></text>
<text x="280.8" y="157.7" font-size="11.5" fill="#111">10<tspan font-size="8" dy="-7.3" dx="0.4">1</tspan></text>
<text x="391.2" y="212.9" font-size="11.5" fill="#111">10<tspan font-size="8" dy="-7.3" dx="0.4">2</tspan></text>
<text x="280.8" y="117.2" font-size="11.5" fill="#111">10<tspan font-size="8" dy="-7.3" dx="0.4">2</tspan></text>
<text x="441.2" y="212.9" font-size="11.5" fill="#111">10<tspan font-size="8" dy="-7.3" dx="0.4">3</tspan></text>
<text x="280.8" y="76.8" font-size="11.5" fill="#111">10<tspan font-size="8" dy="-7.3" dx="0.4">3</tspan></text>
<text x="491.2" y="212.9" font-size="11.5" fill="#111">10<tspan font-size="8" dy="-7.3" dx="0.4">4</tspan></text>
<text x="280.8" y="36.4" font-size="11.5" fill="#111">10<tspan font-size="8" dy="-7.3" dx="0.4">4</tspan></text>
<path d="M306 143.5h1M306 144.5h1M306 145.5h1M306 146.5h1M306 147.5h1M306 148.5h1M306 149.5h1M306 150.5h1M306 151.5h1M306 152.5h1M306 153.5h1M306 154.5h1M306 155.5h1M306 156.5h1M306 157.5h1M306 158.5h1M306 159.5h1M306 160.5h1M306 161.5h1M306 162.5h1M306 163.5h1M306 164.5h1M306 165.5h1M306 166.5h1M306 167.5h1M306 168.5h1M306 169.5h1M306 170.5h1M306 171.5h1M306 172.5h1M306 173.5h1M306 174.5h1M306 175.5h1M306 176.5h1M306 177.5h1M306 178.5h1M306 179.5h1M306 180.5h1M306 181.5h1M306 182.5h1M306 183.5h1M306 184.5h1M306 185.5h1M306 186.5h1M306 187.5h1M307 147.5h1M307 151.5h1M307 153.5h1M307 154.5h1M307 156.5h1M307 157.5h1M307 158.5h1M307 159.5h1M307 160.5h1M307 161.5h1M307 162.5h1M307 163.5h1M307 164.5h1M307 165.5h1M307 166.5h1M307 167.5h1M307 168.5h1M307 169.5h1M307 172.5h1M307 173.5h1M307 174.5h1M307 175.5h1M307 178.5h1M307 179.5h1M307 180.5h1M307 181.5h1M307 182.5h1M307 185.5h1M307 187.5h1M308 144.5h1M308 149.5h1M308 150.5h1M308 151.5h1M308 154.5h1M308 156.5h1M308 157.5h1M308 158.5h1M308 159.5h1M308 160.5h1M308 161.5h1M308 162.5h1M308 163.5h1M308 164.5h1M308 165.5h1M308 166.5h1M308 167.5h1M308 169.5h1M308 170.5h1M308 171.5h1M308 172.5h1M308 173.5h1M308 174.5h1M308 176.5h1M308 177.5h1M308 180.5h1M308 181.5h1M308 183.5h1M308 184.5h1M308 186.5h1M308 187.5h1M309 145.5h1M309 148.5h1M309 150.5h1M309 151.5h1M309 152.5h1M309 153.5h1M309 154.5h1M309 155.5h1M309 158.5h1M309 159.5h1M309 160.5h1M309 162.5h1M309 163.5h1M309 165.5h1M309 166.5h1M309 167.5h1M309 168.5h1M309 169.5h1M309 170.5h1M309 171.5h1M309 172.5h1M309 173.5h1M309 174.5h1M309 175.5h1M309 176.5h1M309 177.5h1M309 178.5h1M309 179.5h1M309 180.5h1M309 181.5h1M309 182.5h1M309 183.5h1M309 187.5h1M310 146.5h1M310 147.5h1M310 148.5h1M310 150.5h1M310 153.5h1M310 154.5h1M310 155.5h1M310 156.5h1M310 157.5h1M310 158.5h1M310 159.5h1M310 161.5h1M310 162.5h1M310 163.5h1M310 164.5h1M310 165.5h1M310 167.5h1M310 168.5h1M310 170.5h1M310 172.5h1M310 173.5h1M310 174.5h1M310 175.5h1M310 177.5h1M310 178.5h1M310 179.5h1M310 181.5h1M310 182.5h1M310 185.5h1M310 187.5h1M311 141.5h1M311 142.5h1M311 145.5h1M311 146.5h1M311 147.5h1M311 148.5h1M311 150.5h1M311 153.5h1M311 154.5h1M311 155.5h1M311 156.5h1M311 157.5h1M311 158.5h1M311 159.5h1M311 160.5h1M311 161.5h1M311 162.5h1M311 163.5h1M311 164.5h1M311 165.5h1M311 166.5h1M311 167.5h1M311 168.5h1M311 169.5h1M311 170.5h1M311 171.5h1M311 172.5h1M311 173.5h1M311 174.5h1M311 175.5h1M311 176.5h1M311 177.5h1M311 178.5h1M311 179.5h1M311 180.5h1M311 181.5h1M311 184.5h1M311 187.5h1M312 143.5h1M312 147.5h1M312 151.5h1M312 153.5h1M312 154.5h1M312 155.5h1M312 156.5h1M312 157.5h1M312 158.5h1M312 159.5h1M312 160.5h1M312 161.5h1M312 162.5h1M312 163.5h1M312 164.5h1M312 165.5h1M312 166.5h1M312 168.5h1M312 169.5h1M312 170.5h1M312 171.5h1M312 172.5h1M312 173.5h1M312 174.5h1M312 176.5h1M312 177.5h1M312 179.5h1M312 180.5h1M312 181.5h1M312 183.5h1M312 185.5h1M312 187.5h1M313 141.5h1M313 143.5h1M313 146.5h1M313 148.5h1M313 151.5h1M313 152.5h1M313 153.5h1M313 154.5h1M313 155.5h1M313 156.5h1M313 157.5h1M313 158.5h1M313 160.5h1M313 161.5h1M313 162.5h1M313 163.5h1M313 164.5h1M313 165.5h1M313 166.5h1M313 167.5h1M313 168.5h1M313 170.5h1M313 171.5h1M313 172.5h1M313 173.5h1M313 174.5h1M313 175.5h1M313 176.5h1M313 177.5h1M313 178.5h1M313 179.5h1M313 181.5h1M313 182.5h1M313 186.5h1M313 187.5h1M314 144.5h1M314 147.5h1M314 148.5h1M314 149.5h1M314 152.5h1M314 154.5h1M314 155.5h1M314 156.5h1M314 157.5h1M314 159.5h1M314 160.5h1M314 161.5h1M314 162.5h1M314 163.5h1M314 164.5h1M314 165.5h1M314 166.5h1M314 167.5h1M314 168.5h1M314 169.5h1M314 170.5h1M314 171.5h1M314 172.5h1M314 173.5h1M314 174.5h1M314 175.5h1M314 176.5h1M314 177.5h1M314 178.5h1M314 179.5h1M314 180.5h1M314 181.5h1M314 182.5h1M314 183.5h1M314 184.5h1M314 185.5h1M314 186.5h1M314 187.5h1M315 147.5h1M315 149.5h1M315 154.5h1M315 155.5h1M315 156.5h1M315 157.5h1M315 158.5h1M315 159.5h1M315 160.5h1M315 161.5h1M315 162.5h1M315 163.5h1M315 164.5h1M315 165.5h1M315 166.5h1M315 167.5h1M315 168.5h1M315 169.5h1M315 170.5h1M315 171.5h1M315 172.5h1M315 173.5h1M315 174.5h1M315 175.5h1M315 176.5h1M315 177.5h1M315 178.5h1M315 179.5h1M315 180.5h1M315 181.5h1M315 182.5h1M315 183.5h1M315 184.5h1M315 186.5h1M315 187.5h1M316 144.5h1M316 148.5h1M316 150.5h1M316 152.5h1M316 155.5h1M316 156.5h1M316 158.5h1M316 159.5h1M316 160.5h1M316 161.5h1M316 162.5h1M316 163.5h1M316 164.5h1M316 165.5h1M316 166.5h1M316 167.5h1M316 168.5h1M316 169.5h1M316 170.5h1M316 171.5h1M316 172.5h1M316 173.5h1M316 174.5h1M316 175.5h1M316 176.5h1M316 177.5h1M316 178.5h1M316 179.5h1M316 180.5h1M316 181.5h1M316 182.5h1M316 184.5h1M316 187.5h1M317 144.5h1M317 146.5h1M317 148.5h1M317 150.5h1M317 152.5h1M317 153.5h1M317 154.5h1M317 156.5h1M317 157.5h1M317 158.5h1M317 159.5h1M317 160.5h1M317 161.5h1M317 162.5h1M317 163.5h1M317 164.5h1M317 165.5h1M317 166.5h1M317 167.5h1M317 168.5h1M317 169.5h1M317 170.5h1M317 171.5h1M317 172.5h1M317 173.5h1M317 174.5h1M317 175.5h1M317 176.5h1M317 178.5h1M317 180.5h1M317 181.5h1M317 183.5h1M317 184.5h1M317 186.5h1M317 187.5h1M318 146.5h1M318 148.5h1M318 150.5h1M318 152.5h1M318 153.5h1M318 155.5h1M318 156.5h1M318 157.5h1M318 158.5h1M318 159.5h1M318 160.5h1M318 161.5h1M318 162.5h1M318 163.5h1M318 164.5h1M318 165.5h1M318 166.5h1M318 167.5h1M318 168.5h1M318 169.5h1M318 170.5h1M318 171.5h1M318 172.5h1M318 173.5h1M318 174.5h1M318 175.5h1M318 176.5h1M318 177.5h1M318 178.5h1M318 179.5h1M318 180.5h1M318 181.5h1M318 182.5h1M318 183.5h1M318 184.5h1M318 185.5h1M318 187.5h1M319 141.5h1M319 142.5h1M319 144.5h1M319 145.5h1M319 147.5h1M319 148.5h1M319 149.5h1M319 150.5h1M319 152.5h1M319 153.5h1M319 154.5h1M319 155.5h1M319 156.5h1M319 157.5h1M319 158.5h1M319 159.5h1M319 160.5h1M319 161.5h1M319 162.5h1M319 163.5h1M319 164.5h1M319 165.5h1M319 166.5h1M319 167.5h1M319 169.5h1M319 170.5h1M319 171.5h1M319 172.5h1M319 173.5h1M319 174.5h1M319 175.5h1M319 176.5h1M319 177.5h1M319 178.5h1M319 179.5h1M319 180.5h1M319 181.5h1M319 182.5h1M319 183.5h1M319 185.5h1M319 186.5h1M319 187.5h1M320 144.5h1M320 147.5h1M320 148.5h1M320 151.5h1M320 152.5h1M320 153.5h1M320 154.5h1M320 155.5h1M320 157.5h1M320 158.5h1M320 159.5h1M320 160.5h1M320 161.5h1M320 162.5h1M320 163.5h1M320 164.5h1M320 165.5h1M320 166.5h1M320 167.5h1M320 168.5h1M320 169.5h1M320 170.5h1M320 171.5h1M320 172.5h1M320 173.5h1M320 174.5h1M320 175.5h1M320 176.5h1M320 177.5h1M320 178.5h1M320 179.5h1M320 181.5h1M320 183.5h1M320 184.5h1M320 187.5h1M321 141.5h1M321 145.5h1M321 147.5h1M321 149.5h1M321 150.5h1M321 152.5h1M321 153.5h1M321 156.5h1M321 157.5h1M321 158.5h1M321 159.5h1M321 160.5h1M321 161.5h1M321 162.5h1M321 163.5h1M321 164.5h1M321 165.5h1M321 166.5h1M321 167.5h1M321 168.5h1M321 169.5h1M321 170.5h1M321 171.5h1M321 172.5h1M321 173.5h1M321 174.5h1M321 175.5h1M321 176.5h1M321 177.5h1M321 178.5h1M321 179.5h1M321 180.5h1M321 181.5h1M321 182.5h1M321 185.5h1M321 187.5h1M322 141.5h1M322 142.5h1M322 144.5h1M322 146.5h1M322 147.5h1M322 149.5h1M322 151.5h1M322 153.5h1M322 154.5h1M322 155.5h1M322 156.5h1M322 157.5h1M322 158.5h1M322 159.5h1M322 160.5h1M322 161.5h1M322 162.5h1M322 163.5h1M322 164.5h1M322 165.5h1M322 166.5h1M322 167.5h1M322 168.5h1M322 169.5h1M322 170.5h1M322 171.5h1M322 172.5h1M322 173.5h1M322 174.5h1M322 175.5h1M322 176.5h1M322 177.5h1M322 178.5h1M322 179.5h1M322 180.5h1M322 181.5h1M322 182.5h1M322 183.5h1M322 185.5h1M322 187.5h1M323 142.5h1M323 145.5h1M323 148.5h1M323 150.5h1M323 151.5h1M323 152.5h1M323 153.5h1M323 154.5h1M323 155.5h1M323 156.5h1M323 157.5h1M323 158.5h1M323 159.5h1M323 160.5h1M323 161.5h1M323 162.5h1M323 163.5h1M323 164.5h1M323 165.5h1M323 166.5h1M323 167.5h1M323 168.5h1M323 169.5h1M323 170.5h1M323 171.5h1M323 172.5h1M323 173.5h1M323 174.5h1M323 175.5h1M323 176.5h1M323 177.5h1M323 178.5h1M323 179.5h1M323 180.5h1M323 181.5h1M323 182.5h1M323 185.5h1M323 187.5h1M324 143.5h1M324 144.5h1M324 145.5h1M324 146.5h1M324 147.5h1M324 148.5h1M324 149.5h1M324 150.5h1M324 151.5h1M324 152.5h1M324 153.5h1M324 154.5h1M324 155.5h1M324 157.5h1M324 158.5h1M324 159.5h1M324 160.5h1M324 161.5h1M324 162.5h1M324 163.5h1M324 164.5h1M324 165.5h1M324 166.5h1M324 167.5h1M324 168.5h1M324 169.5h1M324 170.5h1M324 171.5h1M324 172.5h1M324 173.5h1M324 174.5h1M324 175.5h1M324 176.5h1M324 177.5h1M324 178.5h1M324 179.5h1M324 180.5h1M324 181.5h1M324 183.5h1M324 184.5h1M324 186.5h1M324 187.5h1M325 141.5h1M325 145.5h1M325 146.5h1M325 147.5h1M325 148.5h1M325 150.5h1M325 151.5h1M325 152.5h1M325 153.5h1M325 155.5h1M325 156.5h1M325 157.5h1M325 158.5h1M325 159.5h1M325 160.5h1M325 161.5h1M325 162.5h1M325 163.5h1M325 164.5h1M325 165.5h1M325 166.5h1M325 167.5h1M325 168.5h1M325 169.5h1M325 170.5h1M325 171.5h1M325 172.5h1M325 173.5h1M325 174.5h1M325 175.5h1M325 176.5h1M325 177.5h1M325 178.5h1M325 179.5h1M325 181.5h1M325 183.5h1M325 184.5h1M325 187.5h1M326 144.5h1M326 145.5h1M326 146.5h1M326 148.5h1M326 150.5h1M326 152.5h1M326 153.5h1M326 154.5h1M326 155.5h1M326 156.5h1M326 157.5h1M326 158.5h1M326 159.5h1M326 160.5h1M326 161.5h1M326 162.5h1M326 163.5h1M326 164.5h1M326 165.5h1M326 166.5h1M326 167.5h1M326 168.5h1M326 169.5h1M326 170.5h1M326 171.5h1M326 172.5h1M326 173.5h1M326 174.5h1M326 175.5h1M326 176.5h1M326 177.5h1M326 178.5h1M326 179.5h1M326 180.5h1M326 181.5h1M326 182.5h1M326 183.5h1M326 184.5h1M326 185.5h1M326 186.5h1M326 187.5h1M327 143.5h1M327 144.5h1M327 147.5h1M327 148.5h1M327 149.5h1M327 150.5h1M327 151.5h1M327 152.5h1M327 153.5h1M327 154.5h1M327 155.5h1M327 156.5h1M327 157.5h1M327 158.5h1M327 160.5h1M327 161.5h1M327 162.5h1M327 163.5h1M327 164.5h1M327 165.5h1M327 166.5h1M327 167.5h1M327 168.5h1M327 169.5h1M327 170.5h1M327 171.5h1M327 172.5h1M327 173.5h1M327 174.5h1M327 175.5h1M327 176.5h1M327 177.5h1M327 178.5h1M327 179.5h1M327 180.5h1M327 181.5h1M327 182.5h1M327 183.5h1M327 184.5h1M327 187.5h1M328 143.5h1M328 144.5h1M328 145.5h1M328 148.5h1M328 149.5h1M328 150.5h1M328 151.5h1M328 153.5h1M328 154.5h1M328 156.5h1M328 157.5h1M328 158.5h1M328 159.5h1M328 160.5h1M328 161.5h1M328 162.5h1M328 163.5h1M328 164.5h1M328 165.5h1M328 166.5h1M328 167.5h1M328 168.5h1M328 169.5h1M328 170.5h1M328 171.5h1M328 172.5h1M328 173.5h1M328 174.5h1M328 175.5h1M328 176.5h1M328 177.5h1M328 178.5h1M328 179.5h1M328 180.5h1M328 181.5h1M328 182.5h1M328 183.5h1M328 184.5h1M328 185.5h1M328 186.5h1M328 187.5h1M329 143.5h1M329 144.5h1M329 145.5h1M329 147.5h1M329 148.5h1M329 149.5h1M329 151.5h1M329 152.5h1M329 153.5h1M329 154.5h1M329 155.5h1M329 156.5h1M329 157.5h1M329 158.5h1M329 159.5h1M329 160.5h1M329 161.5h1M329 162.5h1M329 163.5h1M329 164.5h1M329 165.5h1M329 166.5h1M329 167.5h1M329 168.5h1M329 169.5h1M329 170.5h1M329 172.5h1M329 173.5h1M329 174.5h1M329 175.5h1M329 176.5h1M329 177.5h1M329 178.5h1M329 179.5h1M329 180.5h1M329 181.5h1M329 182.5h1M329 184.5h1M329 186.5h1M329 187.5h1M330 141.5h1M330 144.5h1M330 145.5h1M330 147.5h1M330 150.5h1M330 151.5h1M330 155.5h1M330 156.5h1M330 157.5h1M330 158.5h1M330 159.5h1M330 160.5h1M330 161.5h1M330 162.5h1M330 163.5h1M330 164.5h1M330 165.5h1M330 166.5h1M330 167.5h1M330 168.5h1M330 169.5h1M330 170.5h1M330 171.5h1M330 172.5h1M330 173.5h1M330 174.5h1M330 175.5h1M330 176.5h1M330 177.5h1M330 178.5h1M330 179.5h1M330 180.5h1M330 181.5h1M330 182.5h1M330 183.5h1M330 186.5h1M330 187.5h1M331 146.5h1M331 147.5h1M331 148.5h1M331 149.5h1M331 150.5h1M331 151.5h1M331 153.5h1M331 156.5h1M331 157.5h1M331 158.5h1M331 159.5h1M331 160.5h1M331 161.5h1M331 162.5h1M331 163.5h1M331 164.5h1M331 165.5h1M331 166.5h1M331 167.5h1M331 168.5h1M331 169.5h1M331 170.5h1M331 171.5h1M331 172.5h1M331 173.5h1M331 174.5h1M331 175.5h1M331 176.5h1M331 177.5h1M331 178.5h1M331 180.5h1M331 181.5h1M331 182.5h1M331 185.5h1M331 186.5h1M331 187.5h1M332 140.5h1M332 144.5h1M332 145.5h1M332 146.5h1M332 147.5h1M332 149.5h1M332 151.5h1M332 152.5h1M332 153.5h1M332 154.5h1M332 155.5h1M332 157.5h1M332 159.5h1M332 160.5h1M332 161.5h1M332 162.5h1M332 163.5h1M332 164.5h1M332 165.5h1M332 166.5h1M332 167.5h1M332 168.5h1M332 169.5h1M332 170.5h1M332 171.5h1M332 172.5h1M332 173.5h1M332 174.5h1M332 175.5h1M332 176.5h1M332 177.5h1M332 178.5h1M332 179.5h1M332 180.5h1M332 181.5h1M332 183.5h1M332 187.5h1M333 146.5h1M333 147.5h1M333 148.5h1M333 149.5h1M333 150.5h1M333 152.5h1M333 153.5h1M333 154.5h1M333 156.5h1M333 157.5h1M333 158.5h1M333 159.5h1M333 160.5h1M333 161.5h1M333 162.5h1M333 164.5h1M333 165.5h1M333 166.5h1M333 167.5h1M333 168.5h1M333 169.5h1M333 171.5h1M333 172.5h1M333 173.5h1M333 174.5h1M333 175.5h1M333 176.5h1M333 178.5h1M333 179.5h1M333 180.5h1M333 181.5h1M333 183.5h1M333 184.5h1M333 185.5h1M333 187.5h1M334 144.5h1M334 145.5h1M334 146.5h1M334 147.5h1M334 148.5h1M334 150.5h1M334 151.5h1M334 153.5h1M334 154.5h1M334 155.5h1M334 156.5h1M334 157.5h1M334 158.5h1M334 159.5h1M334 160.5h1M334 161.5h1M334 162.5h1M334 163.5h1M334 164.5h1M334 165.5h1M334 166.5h1M334 167.5h1M334 168.5h1M334 169.5h1M334 170.5h1M334 172.5h1M334 175.5h1M334 176.5h1M334 177.5h1M334 178.5h1M334 179.5h1M334 181.5h1M334 183.5h1M334 184.5h1M334 185.5h1M334 187.5h1M335 144.5h1M335 146.5h1M335 147.5h1M335 148.5h1M335 150.5h1M335 151.5h1M335 153.5h1M335 155.5h1M335 157.5h1M335 158.5h1M335 159.5h1M335 160.5h1M335 161.5h1M335 162.5h1M335 163.5h1M335 164.5h1M335 165.5h1M335 166.5h1M335 167.5h1M335 168.5h1M335 169.5h1M335 170.5h1M335 171.5h1M335 172.5h1M335 173.5h1M335 174.5h1M335 175.5h1M335 178.5h1M335 180.5h1M335 181.5h1M335 185.5h1M335 186.5h1M335 187.5h1M336 142.5h1M336 144.5h1M336 145.5h1M336 147.5h1M336 148.5h1M336 149.5h1M336 151.5h1M336 154.5h1M336 156.5h1M336 157.5h1M336 158.5h1M336 159.5h1M336 160.5h1M336 161.5h1M336 162.5h1M336 163.5h1M336 164.5h1M336 165.5h1M336 166.5h1M336 167.5h1M336 168.5h1M336 169.5h1M336 170.5h1M336 171.5h1M336 172.5h1M336 173.5h1M336 174.5h1M336 176.5h1M336 177.5h1M336 178.5h1M336 179.5h1M336 180.5h1M336 182.5h1M336 183.5h1M336 184.5h1M336 186.5h1M336 187.5h1M337 141.5h1M337 145.5h1M337 146.5h1M337 148.5h1M337 149.5h1M337 150.5h1M337 151.5h1M337 152.5h1M337 153.5h1M337 154.5h1M337 156.5h1M337 158.5h1M337 159.5h1M337 161.5h1M337 162.5h1M337 163.5h1M337 165.5h1M337 166.5h1M337 167.5h1M337 169.5h1M337 170.5h1M337 171.5h1M337 172.5h1M337 173.5h1M337 174.5h1M337 175.5h1M337 176.5h1M337 177.5h1M337 178.5h1M337 179.5h1M337 180.5h1M337 181.5h1M337 182.5h1M337 183.5h1M337 184.5h1M337 187.5h1M338 142.5h1M338 147.5h1M338 149.5h1M338 150.5h1M338 151.5h1M338 153.5h1M338 154.5h1M338 155.5h1M338 156.5h1M338 157.5h1M338 160.5h1M338 161.5h1M338 162.5h1M338 163.5h1M338 164.5h1M338 166.5h1M338 167.5h1M338 168.5h1M338 169.5h1M338 170.5h1M338 171.5h1M338 172.5h1M338 173.5h1M338 174.5h1M338 175.5h1M338 176.5h1M338 177.5h1M338 178.5h1M338 179.5h1M338 181.5h1M338 182.5h1M338 183.5h1M338 187.5h1M339 141.5h1M339 143.5h1M339 146.5h1M339 148.5h1M339 155.5h1M339 156.5h1M339 157.5h1M339 160.5h1M339 162.5h1M339 163.5h1M339 164.5h1M339 165.5h1M339 166.5h1M339 167.5h1M339 168.5h1M339 169.5h1M339 170.5h1M339 171.5h1M339 172.5h1M339 174.5h1M339 175.5h1M339 176.5h1M339 177.5h1M339 178.5h1M339 179.5h1M339 180.5h1M339 181.5h1M339 182.5h1M339 184.5h1M339 187.5h1M340 141.5h1M340 146.5h1M340 148.5h1M340 149.5h1M340 151.5h1M340 154.5h1M340 157.5h1M340 158.5h1M340 160.5h1M340 161.5h1M340 162.5h1M340 163.5h1M340 164.5h1M340 166.5h1M340 167.5h1M340 168.5h1M340 169.5h1M340 170.5h1M340 171.5h1M340 172.5h1M340 173.5h1M340 174.5h1M340 175.5h1M340 177.5h1M340 178.5h1M340 179.5h1M340 181.5h1M340 182.5h1M340 184.5h1M340 186.5h1M340 187.5h1M341 143.5h1M341 148.5h1M341 151.5h1M341 152.5h1M341 153.5h1M341 154.5h1M341 156.5h1M341 157.5h1M341 159.5h1M341 160.5h1M341 161.5h1M341 162.5h1M341 163.5h1M341 164.5h1M341 165.5h1M341 166.5h1M341 167.5h1M341 168.5h1M341 169.5h1M341 170.5h1M341 171.5h1M341 172.5h1M341 173.5h1M341 174.5h1M341 176.5h1M341 177.5h1M341 178.5h1M341 179.5h1M341 180.5h1M341 186.5h1M341 187.5h1M342 141.5h1M342 142.5h1M342 145.5h1M342 147.5h1M342 148.5h1M342 149.5h1M342 150.5h1M342 151.5h1M342 152.5h1M342 153.5h1M342 155.5h1M342 156.5h1M342 157.5h1M342 158.5h1M342 161.5h1M342 162.5h1M342 163.5h1M342 164.5h1M342 166.5h1M342 167.5h1M342 169.5h1M342 171.5h1M342 172.5h1M342 173.5h1M342 174.5h1M342 176.5h1M342 177.5h1M342 178.5h1M342 181.5h1M342 184.5h1M342 185.5h1M342 186.5h1M342 187.5h1M343 143.5h1M343 144.5h1M343 147.5h1M343 148.5h1M343 151.5h1M343 154.5h1M343 155.5h1M343 156.5h1M343 159.5h1M343 160.5h1M343 161.5h1M343 162.5h1M343 163.5h1M343 164.5h1M343 165.5h1M343 167.5h1M343 169.5h1M343 170.5h1M343 172.5h1M343 174.5h1M343 175.5h1M343 176.5h1M343 178.5h1M343 181.5h1M343 182.5h1M343 184.5h1M343 187.5h1M344 142.5h1M344 144.5h1M344 147.5h1M344 148.5h1M344 151.5h1M344 152.5h1M344 153.5h1M344 154.5h1M344 156.5h1M344 159.5h1M344 160.5h1M344 161.5h1M344 162.5h1M344 163.5h1M344 165.5h1M344 167.5h1M344 168.5h1M344 169.5h1M344 170.5h1M344 171.5h1M344 174.5h1M344 176.5h1M344 179.5h1M344 180.5h1M344 183.5h1M344 187.5h1M345 141.5h1M345 147.5h1M345 149.5h1M345 150.5h1M345 151.5h1M345 155.5h1M345 156.5h1M345 159.5h1M345 160.5h1M345 162.5h1M345 163.5h1M345 166.5h1M345 168.5h1M345 170.5h1M345 171.5h1M345 172.5h1M345 174.5h1M345 175.5h1M345 176.5h1M345 180.5h1M345 181.5h1M345 183.5h1M345 185.5h1M345 186.5h1M345 187.5h1M346 146.5h1M346 147.5h1M346 148.5h1M346 149.5h1M346 150.5h1M346 151.5h1M346 152.5h1M346 154.5h1M346 155.5h1M346 158.5h1M346 160.5h1M346 161.5h1M346 163.5h1M346 164.5h1M346 166.5h1M346 169.5h1M346 170.5h1M346 171.5h1M346 174.5h1M346 177.5h1M346 180.5h1M346 182.5h1M346 184.5h1M346 185.5h1M346 187.5h1M347 143.5h1M347 146.5h1M347 148.5h1M347 149.5h1M347 150.5h1M347 151.5h1M347 153.5h1M347 157.5h1M347 158.5h1M347 159.5h1M347 161.5h1M347 162.5h1M347 163.5h1M347 164.5h1M347 165.5h1M347 167.5h1M347 168.5h1M347 169.5h1M347 173.5h1M347 175.5h1M347 176.5h1M347 177.5h1M347 187.5h1M348 148.5h1M348 150.5h1M348 152.5h1M348 156.5h1M348 159.5h1M348 161.5h1M348 162.5h1M348 163.5h1M348 164.5h1M348 166.5h1M348 167.5h1M348 168.5h1M348 169.5h1M348 171.5h1M348 172.5h1M348 173.5h1M348 174.5h1M348 179.5h1M348 180.5h1M348 182.5h1M348 186.5h1M349 145.5h1M349 150.5h1M349 151.5h1M349 154.5h1M349 156.5h1M349 159.5h1M349 160.5h1M349 166.5h1M349 171.5h1M349 174.5h1M349 176.5h1M349 178.5h1M349 185.5h1M349 186.5h1M349 187.5h1M350 142.5h1M350 149.5h1M350 156.5h1M350 157.5h1M350 159.5h1M350 161.5h1M350 163.5h1M350 166.5h1M350 168.5h1M350 169.5h1M350 172.5h1M350 175.5h1M350 176.5h1M350 177.5h1M350 182.5h1M350 187.5h1M351 141.5h1M351 145.5h1M351 148.5h1M351 150.5h1M351 154.5h1M351 155.5h1M351 157.5h1M351 158.5h1M351 161.5h1M351 162.5h1M351 163.5h1M351 165.5h1M351 166.5h1M351 167.5h1M351 169.5h1M351 172.5h1M351 173.5h1M351 180.5h1M351 183.5h1M351 184.5h1M351 187.5h1M352 143.5h1M352 145.5h1M352 157.5h1M352 159.5h1M352 161.5h1M352 163.5h1M352 165.5h1M352 168.5h1M352 169.5h1M352 170.5h1M352 172.5h1M352 173.5h1M352 177.5h1M352 179.5h1M352 180.5h1M352 187.5h1M353 146.5h1M353 149.5h1M353 151.5h1M353 157.5h1M353 161.5h1M353 162.5h1M353 165.5h1M353 167.5h1M353 168.5h1M353 169.5h1M353 170.5h1M353 171.5h1M353 176.5h1M353 177.5h1M353 179.5h1M353 180.5h1M353 183.5h1M353 187.5h1M354 149.5h1M354 151.5h1M354 153.5h1M354 156.5h1M354 157.5h1M354 158.5h1M354 159.5h1M354 160.5h1M354 161.5h1M354 167.5h1M354 170.5h1M354 174.5h1M354 176.5h1M354 185.5h1M354 186.5h1M355 146.5h1M355 160.5h1M355 164.5h1M355 168.5h1M355 176.5h1M355 184.5h1M355 185.5h1M356 154.5h1M356 158.5h1M356 186.5h1" stroke="#000" stroke-width="1" fill="none" shape-rendering="crispEdges"/>
<path d="M334.5 137.7h1.4M332.1 140.8h1.4M305.1 140.4h1.4M349.2 140.1h1.4M364.9 158.3h1.4M367.9 176.6h1.4M353.9 135.2h1.4M337.5 136.5h1.4M361.9 174.4h1.4M306.8 140.2h1.4M340.3 140.5h1.4M355.4 145.9h1.4M352.7 122.6h1.4M320 128.7h1.4M329.1 122.3h1.4M322.9 97.2h1.4M333.2 132.4h1.4M337.4 128.3h1.4M349.4 116.3h1.4M345 128.5h1.4M313.5 130.7h1.4M335.6 138.9h1.4M346.9 120.5h1.4M344.4 138.3h1.4M319.5 136h1.4M323.6 115.7h1.4M337.6 133.6h1.4M316.6 138.8h1.4M328.3 94.6h1.4M333.3 122.6h1.4M325.6 135.2h1.4M321.7 129.8h1.4M344.9 135.5h1.4M351.2 97.5h1.4M320.4 134.2h1.4M331 97.1h1.4M322.1 111.5h1.4M327.9 134.5h1.4M321.4 130.4h1.4M322.1 119.5h1.4M329.2 117.6h1.4M314.1 109.2h1.4M326.2 133.3h1.4M319.5 122.2h1.4M314.1 129.9h1.4M346.8 127.5h1.4M321.4 132.8h1.4M319.5 114.3h1.4M336.8 107.1h1.4M319.2 131.5h1.4M329.5 140.4h1.4M330.2 139.2h1.4M346.7 104.9h1.4M334.6 104h1.4M331.5 136.2h1.4M322.8 118.9h1.4M317.2 117.3h1.4M343.3 84.3h1.4M326.8 131.9h1.4M339.6 139.4h1.4M343.2 132.9h1.4M342.3 120.3h1.4M319.7 106.9h1.4M335.8 134.1h1.4M348.5 123.2h1.4M351 116.1h1.4M322.4 90.2h1.4M347.5 123.5h1.4M313.7 137h1.4M312.8 124.7h1.4M331 120.6h1.4M321.9 125.5h1.4M326.7 112.3h1.4M336.9 126.3h1.4M346.8 136.8h1.4M350.7 137.6h1.4M315.3 127h1.4M330.6 134.5h1.4M325.1 109.9h1.4M318.7 137.3h1.4M336.4 111.9h1.4M313.1 131.1h1.4M333.9 126.6h1.4M325.1 110.2h1.4M332 120.2h1.4M329 131.2h1.4M349.9 133.8h1.4M316.8 139.5h1.4M341.6 134.3h1.4M320.8 130.1h1.4M341 99.6h1.4M318.9 138.8h1.4M315.3 131.9h1.4M339.2 97.9h1.4M350.5 94.6h1.4M350.4 127.2h1.4M313.5 123.6h1.4M328.8 111.5h1.4M350.2 123.9h1.4M312.5 119.9h1.4M343.7 139.4h1.4M332.6 107h1.4M346.7 116.6h1.4M332.3 128.7h1.4M345.1 112h1.4M347.1 112.7h1.4M341.9 137.2h1.4M343.8 103.1h1.4M337.4 108.5h1.4M342.8 130.8h1.4M342.8 117.3h1.4M345.2 106.3h1.4M348.7 88.9h1.4M344.4 117.4h1.4M341.7 128.1h1.4M335.1 116.8h1.4M342.6 77.4h1.4M344.9 100h1.4M333.2 115.5h1.4M342.2 73.7h1.4M342 93.4h1.4M342.9 118.6h1.4M339.2 120.1h1.4M343.9 128h1.4M343.7 136.4h1.4M344.1 130.1h1.4M350.1 78.2h1.4M348 140.1h1.4M343.8 90.5h1.4M343.7 129.1h1.4M339 105.4h1.4M337.3 120.3h1.4M337.1 94.9h1.4M342 136.2h1.4M339.1 107.8h1.4M338 107.9h1.4M338.6 85.4h1.4M343.4 107.1h1.4M349.4 125.1h1.4M339 75.7h1.4M342.4 103.5h1.4M337 103.5h1.4M337.8 131.9h1.4M339.2 91.9h1.4M340.1 95.5h1.4M339.7 130.7h1.4M342.1 102.8h1.4M338.9 113.6h1.4M341.6 93.9h1.4M342.5 116.9h1.4M340.1 74.7h1.4M374.9 50h1.4M357.5 132.8h1.4M373 117.3h1.4M382.2 58.1h1.4M362.4 131.8h1.4M350.3 35.6h1.4M343.6 99.2h1.4M376.6 51.7h1.4M377.6 80.3h1.4M375.4 70.3h1.4M385 78.5h1.4M357.4 124.9h1.4M357.9 114.9h1.4M388.8 67.6h1.4M378.5 79h1.4M369.5 92.1h1.4M364.3 115.8h1.4M368.5 57.2h1.4M389.1 48.7h1.4M375.1 77.8h1.4M356.3 86.6h1.4M347.8 81h1.4M363.8 134.9h1.4M376.6 74h1.4M354.9 137.9h1.4M363 70.6h1.4M364.5 135.8h1.4M381.5 82.2h1.4M351.4 64.1h1.4M349.9 119.8h1.4M349.5 129.4h1.4M376.8 68.1h1.4M360 120.8h1.4M369.8 131.2h1.4M373 64.8h1.4M360.8 147.7h1.4M342.3 135h1.4M377.7 64.9h1.4M364.3 117.8h1.4M366.3 113h1.4M369.8 134h1.4M354.6 97h1.4M360.8 105.2h1.4M344.4 129.4h1.4M389.5 84.4h1.4M374.3 71.5h1.4M363.8 71.3h1.4M369.1 120h1.4M345.2 122.8h1.4M361.1 129.7h1.4M360.1 118.1h1.4M366.7 108.8h1.4M373.9 82.3h1.4M368.1 120.3h1.4M373 69.5h1.4M355.9 146h1.4M368.6 132.1h1.4M383.5 77.3h1.4M368.6 76.8h1.4M385.7 64.4h1.4M368.4 145h1.4M352.6 128.5h1.4M357.9 68.7h1.4M366.6 98.1h1.4M368.9 73.6h1.4M376.5 33.8h1.4M362.1 115.6h1.4M372.3 79.9h1.4M381.4 62.8h1.4M371.9 111.6h1.4M376 98.2h1.4M377.1 90.1h1.4M368.1 115.3h1.4M353.4 93.4h1.4M369.6 94.6h1.4M381.4 32.1h1.4M364.7 124h1.4M357.1 93.2h1.4M388.3 64.4h1.4M380.3 38.6h1.4M374.7 97.8h1.4M354.8 133.3h1.4M379 78.7h1.4M373 109.7h1.4M355.1 103.9h1.4M372.4 61h1.4M354.3 115.8h1.4M363.7 105.2h1.4M374.6 77.5h1.4M351.8 104.2h1.4M343.6 128.7h1.4M378.6 103.2h1.4M368.9 49.5h1.4M362.1 111.9h1.4M360.9 104.5h1.4M359.1 123.8h1.4M373.3 40.1h1.4M366 97.8h1.4M361.6 70.8h1.4M359.5 125.7h1.4M367 95.1h1.4M352.9 113.1h1.4M375.2 64.6h1.4M373.6 86.3h1.4M386.7 56.2h1.4M379.7 98.1h1.4M360.1 107.1h1.4M353.3 81.2h1.4M351.4 102.9h1.4M369.1 96.8h1.4M378 83.5h1.4M359.1 86.4h1.4M381.6 39.8h1.4M385.7 47.1h1.4M379.4 75h1.4M372.9 82.3h1.4M389.5 62.9h1.4M371.6 78.5h1.4M358.5 122.1h1.4M366 134.1h1.4M367.7 128.2h1.4M351.9 138.9h1.4M366.2 56.5h1.4M372.5 47.9h1.4M376.4 51.5h1.4M370.9 42.2h1.4M368.9 45.7h1.4M362.6 53.6h1.4M384 52.1h1.4M369.4 58h1.4M377.3 36.6h1.4M364.8 42.4h1.4M369.3 48.7h1.4M381.7 63.2h1.4M369.2 43.4h1.4M369.8 42.8h1.4M377.1 39.2h1.4M377.3 51.4h1.4M379.4 31.1h1.4M364.6 48h1.4M381.5 61.9h1.4M376.5 46.6h1.4M372 36.8h1.4M370.9 53.3h1.4M378.2 43h1.4M380 39.4h1.4M364 59.8h1.4M370.4 55h1.4M380.3 48.8h1.4M354.4 54.4h1.4M362.3 47.5h1.4M377.9 55.4h1.4M374.2 65h1.4M363.1 73.1h1.4M382 51.7h1.4M378.5 58.6h1.4M371.8 57.3h1.4M348.5 72.6h1.4M364.3 42.1h1.4M374.4 38.6h1.4M373.3 66.2h1.4M374.6 53.6h1.4M375.4 63.9h1.4M384.4 50.4h1.4M382 67.5h1.4M358.2 59.7h1.4M367.8 57.5h1.4M369.8 44.8h1.4M375.3 44h1.4M384.3 72.9h1.4M384.3 48.7h1.4M368.7 44.9h1.4M373.9 64.8h1.4M376.3 47.8h1.4M374 36h1.4M374.3 51.4h1.4M356 51h1.4M385.9 64.6h1.4M390.9 68.9h1.4M389.2 93.1h1.4M404.1 89.7h1.4M406.8 87.1h1.4M406.2 69.7h1.4M386.5 108h1.4M417.6 99.4h1.4M384.4 95h1.4M417.1 69.5h1.4M387.3 64.2h1.4M403.5 94.4h1.4M410.8 60.4h1.4M386.5 119.4h1.4M409.6 120.1h1.4M389 127.7h1.4M385.2 119.9h1.4M390.2 76.7h1.4M416.8 60.8h1.4M386.3 79.5h1.4M395.1 67.3h1.4M412.2 117.1h1.4M398.5 88.8h1.4M389.4 114.4h1.4M417.9 65.6h1.4M414.7 88.4h1.4M391.5 119.6h1.4M413 74.7h1.4M389 117.8h1.4M390.1 123.6h1.4M394.7 95.5h1.4M402 90.1h1.4M395.4 102.3h1.4M401.9 84.5h1.4M388.1 75.9h1.4M416.6 79.7h1.4M357.6 145.3h1.4M358.5 148.1h1.4M357.3 151.5h1.4M359.8 180.6h1.4M358.6 176h1.4M359.4 153.8h1.4M356.3 161.1h1.4M364.8 150.1h1.4M356.7 156.3h1.4M358.3 178.3h1.4M357.6 161.2h1.4M359.6 178.8h1.4M362.2 179.3h1.4M355.6 161.2h1.4M357.3 149.9h1.4M357.6 171.4h1.4M355.9 180.8h1.4M355.9 160.1h1.4" stroke="#222" stroke-width="1.4" fill="none"/>
<text x="310.5" y="54.5" font-size="14" fill="#222">3.83%</text>
<text x="438.5" y="59.5" font-size="14" fill="#222">5.30%</text>
<text x="436" y="170" font-size="14" fill="#222">1.51%</text>
<path d="M59.5 422v4.5M59.5 422h-4.5M109.4 422v4.5M59.5 381.5h-4.5M159.4 422v4.5M59.5 341h-4.5M209.3 422v4.5M59.5 300.5h-4.5M259.2 422v4.5M59.5 260h-4.5" stroke="#333" stroke-width="1.1" fill="none"/>
<path d="M74.5 422v2.5M59.5 409.8h-2.5M83.3 422v2.5M59.5 402.7h-2.5M89.6 422v2.5M59.5 397.6h-2.5M94.4 422v2.5M59.5 393.7h-2.5M98.4 422v2.5M59.5 390.5h-2.5M101.7 422v2.5M59.5 387.8h-2.5M104.6 422v2.5M59.5 385.4h-2.5M107.2 422v2.5M59.5 383.4h-2.5M124.5 422v2.5M59.5 369.3h-2.5M133.3 422v2.5M59.5 362.2h-2.5M139.5 422v2.5M59.5 357.1h-2.5M144.3 422v2.5M59.5 353.2h-2.5M148.3 422v2.5M59.5 350h-2.5M151.6 422v2.5M59.5 347.3h-2.5M154.5 422v2.5M59.5 344.9h-2.5M157.1 422v2.5M59.5 342.9h-2.5M174.4 422v2.5M59.5 328.8h-2.5M183.2 422v2.5M59.5 321.7h-2.5M189.4 422v2.5M59.5 316.6h-2.5M194.3 422v2.5M59.5 312.7h-2.5M198.2 422v2.5M59.5 309.5h-2.5M201.6 422v2.5M59.5 306.8h-2.5M204.5 422v2.5M59.5 304.4h-2.5M207 422v2.5M59.5 302.4h-2.5M224.3 422v2.5M59.5 288.3h-2.5M233.1 422v2.5M59.5 281.2h-2.5M239.4 422v2.5M59.5 276.1h-2.5M244.2 422v2.5M59.5 272.2h-2.5M248.2 422v2.5M59.5 269h-2.5M251.5 422v2.5M59.5 266.3h-2.5M254.4 422v2.5M59.5 263.9h-2.5M257 422v2.5M59.5 261.9h-2.5" stroke="#666" stroke-width="0.9" fill="none"/>
<rect x="59.5" y="260" width="199.8" height="162" fill="none" stroke="#111" stroke-width="1.5"/>
<path d="M110.8 260V422M59.5 380H259.2" stroke="#111" stroke-width="1.4" fill="none"/>
<text x="45.7" y="446.2" font-size="11.5" fill="#111">10<tspan font-size="8" dy="-7.3" dx="0.4">0</tspan></text>
<text x="35.3" y="431.4" font-size="11.5" fill="#111">10<tspan font-size="8" dy="-7.3" dx="0.4">0</tspan></text>
<text x="95.6" y="446.2" font-size="11.5" fill="#111">10<tspan font-size="8" dy="-7.3" dx="0.4">1</tspan></text>
<text x="35.3" y="390.9" font-size="11.5" fill="#111">10<tspan font-size="8" dy="-7.3" dx="0.4">1</tspan></text>
<text x="145.6" y="446.2" font-size="11.5" fill="#111">10<tspan font-size="8" dy="-7.3" dx="0.4">2</tspan></text>
<text x="35.3" y="350.4" font-size="11.5" fill="#111">10<tspan font-size="8" dy="-7.3" dx="0.4">2</tspan></text>
<text x="195.5" y="446.2" font-size="11.5" fill="#111">10<tspan font-size="8" dy="-7.3" dx="0.4">3</tspan></text>
<text x="35.3" y="309.9" font-size="11.5" fill="#111">10<tspan font-size="8" dy="-7.3" dx="0.4">3</tspan></text>
<text x="245.4" y="446.2" font-size="11.5" fill="#111">10<tspan font-size="8" dy="-7.3" dx="0.4">4</tspan></text>
<text x="35.3" y="269.4" font-size="11.5" fill="#111">10<tspan font-size="8" dy="-7.3" dx="0.4">4</tspan></text>
<path d="M100 389.5h1M100 391.5h1M100 392.5h1M100 394.5h1M100 396.5h1M100 397.5h1M100 398.5h1M100 400.5h1M100 401.5h1M100 402.5h1M100 403.5h1M100 404.5h1M100 405.5h1M100 406.5h1M100 407.5h1M100 408.5h1M100 409.5h1M100 411.5h1M100 413.5h1M100 416.5h1M100 417.5h1M100 418.5h1M100 420.5h1M100 421.5h1M101 389.5h1M101 391.5h1M101 393.5h1M101 395.5h1M101 397.5h1M101 398.5h1M101 399.5h1M101 400.5h1M101 401.5h1M101 402.5h1M101 403.5h1M101 404.5h1M101 405.5h1M101 406.5h1M101 407.5h1M101 409.5h1M101 410.5h1M101 411.5h1M101 412.5h1M101 413.5h1M101 414.5h1M101 415.5h1M101 416.5h1M101 418.5h1M102 385.5h1M102 386.5h1M102 387.5h1M102 390.5h1M102 392.5h1M102 393.5h1M102 395.5h1M102 396.5h1M102 398.5h1M102 399.5h1M102 400.5h1M102 403.5h1M102 405.5h1M102 406.5h1M102 408.5h1M102 409.5h1M102 410.5h1M102 411.5h1M102 412.5h1M102 413.5h1M102 414.5h1M102 420.5h1M102 421.5h1M103 378.5h1M103 380.5h1M103 383.5h1M103 385.5h1M103 386.5h1M103 388.5h1M103 389.5h1M103 390.5h1M103 391.5h1M103 392.5h1M103 393.5h1M103 394.5h1M103 395.5h1M103 400.5h1M103 401.5h1M103 403.5h1M103 404.5h1M103 407.5h1M103 408.5h1M103 409.5h1M103 410.5h1M103 411.5h1M103 414.5h1M103 417.5h1M103 420.5h1M103 421.5h1M104 378.5h1M104 379.5h1M104 384.5h1M104 387.5h1M104 388.5h1M104 390.5h1M104 392.5h1M104 393.5h1M104 394.5h1M104 396.5h1M104 397.5h1M104 399.5h1M104 401.5h1M104 403.5h1M104 404.5h1M104 405.5h1M104 406.5h1M104 408.5h1M104 409.5h1M104 410.5h1M104 412.5h1M104 413.5h1M104 415.5h1M104 418.5h1M104 419.5h1M104 421.5h1M105 378.5h1M105 379.5h1M105 386.5h1M105 393.5h1M105 394.5h1M105 399.5h1M105 400.5h1M105 401.5h1M105 402.5h1M105 406.5h1M105 407.5h1M105 408.5h1M105 413.5h1M105 415.5h1M105 417.5h1M105 418.5h1M105 419.5h1M105 420.5h1M105 421.5h1M106 378.5h1M106 383.5h1M106 386.5h1M106 388.5h1M106 389.5h1M106 390.5h1M106 391.5h1M106 392.5h1M106 393.5h1M106 394.5h1M106 395.5h1M106 396.5h1M106 397.5h1M106 398.5h1M106 399.5h1M106 400.5h1M106 402.5h1M106 403.5h1M106 404.5h1M106 405.5h1M106 407.5h1M106 410.5h1M106 414.5h1M106 420.5h1M107 384.5h1M107 386.5h1M107 387.5h1M107 388.5h1M107 391.5h1M107 392.5h1M107 395.5h1M107 396.5h1M107 397.5h1M107 398.5h1M107 399.5h1M107 401.5h1M107 402.5h1M107 403.5h1M107 405.5h1M107 406.5h1M107 410.5h1M107 411.5h1M107 412.5h1M107 414.5h1M107 415.5h1M107 416.5h1M107 418.5h1M107 421.5h1M108 384.5h1M108 385.5h1M108 387.5h1M108 388.5h1M108 390.5h1M108 393.5h1M108 394.5h1M108 395.5h1M108 398.5h1M108 399.5h1M108 400.5h1M108 401.5h1M108 402.5h1M108 404.5h1M108 405.5h1M108 406.5h1M108 408.5h1M108 410.5h1M108 411.5h1M108 416.5h1M108 418.5h1M108 419.5h1M108 421.5h1M109 379.5h1M109 382.5h1M109 384.5h1M109 387.5h1M109 389.5h1M109 393.5h1M109 394.5h1M109 395.5h1M109 396.5h1M109 397.5h1M109 398.5h1M109 399.5h1M109 400.5h1M109 402.5h1M109 403.5h1M109 405.5h1M109 408.5h1M109 409.5h1M109 410.5h1M109 419.5h1M109 420.5h1M110 381.5h1M110 385.5h1M110 391.5h1M110 393.5h1M110 394.5h1M110 401.5h1M110 406.5h1M110 408.5h1M110 410.5h1M110 411.5h1M110 412.5h1M110 416.5h1M110 421.5h1M111 389.5h1M111 390.5h1M111 392.5h1M111 395.5h1M111 397.5h1M111 399.5h1M111 401.5h1M111 402.5h1M111 404.5h1M111 408.5h1M111 410.5h1M111 412.5h1M111 415.5h1M111 416.5h1M111 419.5h1M111 421.5h1M112 400.5h1M112 404.5h1M112 405.5h1M112 409.5h1M112 413.5h1M113 393.5h1M113 411.5h1M60 378.5h1M60 379.5h1M60 380.5h1M60 381.5h1M60 383.5h1M60 384.5h1M60 385.5h1M60 386.5h1M60 387.5h1M60 388.5h1M60 389.5h1M60 390.5h1M60 391.5h1M60 392.5h1M60 393.5h1M60 394.5h1M60 395.5h1M60 396.5h1M60 397.5h1M60 398.5h1M60 399.5h1M60 400.5h1M60 401.5h1M60 402.5h1M60 403.5h1M60 404.5h1M60 405.5h1M60 406.5h1M60 407.5h1M60 408.5h1M60 409.5h1M60 410.5h1M60 411.5h1M60 412.5h1M60 413.5h1M60 414.5h1M60 415.5h1M60 416.5h1M60 417.5h1M60 418.5h1M60 419.5h1M60 420.5h1M60 421.5h1M61 378.5h1M61 388.5h1M61 390.5h1M61 391.5h1M61 392.5h1M61 394.5h1M61 396.5h1M61 397.5h1M61 398.5h1M61 399.5h1M61 400.5h1M61 401.5h1M61 402.5h1M61 405.5h1M61 406.5h1M61 407.5h1M61 408.5h1M61 410.5h1M61 413.5h1M61 414.5h1M61 418.5h1M61 421.5h1M62 386.5h1M62 387.5h1M62 388.5h1M62 389.5h1M62 390.5h1M62 391.5h1M62 393.5h1M62 394.5h1M62 395.5h1M62 398.5h1M62 399.5h1M62 400.5h1M62 401.5h1M62 402.5h1M62 403.5h1M62 404.5h1M62 405.5h1M62 406.5h1M62 407.5h1M62 409.5h1M62 410.5h1M62 413.5h1M62 414.5h1M62 421.5h1M63 380.5h1M63 388.5h1M63 389.5h1M63 390.5h1M63 392.5h1M63 393.5h1M63 394.5h1M63 395.5h1M63 396.5h1M63 397.5h1M63 398.5h1M63 399.5h1M63 400.5h1M63 401.5h1M63 402.5h1M63 403.5h1M63 404.5h1M63 405.5h1M63 406.5h1M63 407.5h1M63 408.5h1M63 409.5h1M63 410.5h1M63 411.5h1M63 412.5h1M63 413.5h1M63 414.5h1M63 415.5h1M63 416.5h1M63 417.5h1M63 420.5h1M63 421.5h1M64 380.5h1M64 384.5h1M64 385.5h1M64 389.5h1M64 390.5h1M64 392.5h1M64 394.5h1M64 396.5h1M64 397.5h1M64 398.5h1M64 399.5h1M64 400.5h1M64 401.5h1M64 403.5h1M64 404.5h1M64 405.5h1M64 406.5h1M64 407.5h1M64 408.5h1M64 409.5h1M64 410.5h1M64 411.5h1M64 412.5h1M64 413.5h1M64 414.5h1M64 417.5h1M64 419.5h1M64 420.5h1M64 421.5h1M65 379.5h1M65 382.5h1M65 383.5h1M65 387.5h1M65 390.5h1M65 391.5h1M65 392.5h1M65 394.5h1M65 395.5h1M65 397.5h1M65 399.5h1M65 400.5h1M65 401.5h1M65 402.5h1M65 403.5h1M65 404.5h1M65 405.5h1M65 406.5h1M65 407.5h1M65 408.5h1M65 409.5h1M65 411.5h1M65 412.5h1M65 413.5h1M65 414.5h1M65 415.5h1M65 418.5h1M65 419.5h1M65 421.5h1M66 380.5h1M66 386.5h1M66 387.5h1M66 390.5h1M66 391.5h1M66 394.5h1M66 395.5h1M66 396.5h1M66 397.5h1M66 398.5h1M66 399.5h1M66 400.5h1M66 401.5h1M66 402.5h1M66 403.5h1M66 404.5h1M66 405.5h1M66 406.5h1M66 407.5h1M66 408.5h1M66 409.5h1M66 410.5h1M66 411.5h1M66 412.5h1M66 413.5h1M66 414.5h1M66 415.5h1M66 416.5h1M66 417.5h1M66 418.5h1M66 421.5h1M67 386.5h1M67 387.5h1M67 389.5h1M67 391.5h1M67 392.5h1M67 393.5h1M67 395.5h1M67 397.5h1M67 398.5h1M67 399.5h1M67 400.5h1M67 401.5h1M67 402.5h1M67 403.5h1M67 404.5h1M67 405.5h1M67 406.5h1M67 408.5h1M67 409.5h1M67 410.5h1M67 411.5h1M67 412.5h1M67 413.5h1M67 414.5h1M67 415.5h1M67 416.5h1M67 417.5h1M67 418.5h1M67 420.5h1M67 421.5h1M68 379.5h1M68 380.5h1M68 382.5h1M68 384.5h1M68 385.5h1M68 386.5h1M68 387.5h1M68 388.5h1M68 389.5h1M68 390.5h1M68 392.5h1M68 393.5h1M68 394.5h1M68 395.5h1M68 396.5h1M68 397.5h1M68 399.5h1M68 400.5h1M68 401.5h1M68 402.5h1M68 403.5h1M68 404.5h1M68 405.5h1M68 406.5h1M68 407.5h1M68 408.5h1M68 409.5h1M68 410.5h1M68 411.5h1M68 413.5h1M68 414.5h1M68 415.5h1M68 416.5h1M68 418.5h1M68 419.5h1M68 420.5h1M68 421.5h1M69 379.5h1M69 380.5h1M69 381.5h1M69 384.5h1M69 386.5h1M69 387.5h1M69 388.5h1M69 390.5h1M69 391.5h1M69 394.5h1M69 395.5h1M69 396.5h1M69 397.5h1M69 398.5h1M69 399.5h1M69 401.5h1M69 403.5h1M69 404.5h1M69 405.5h1M69 406.5h1M69 408.5h1M69 409.5h1M69 410.5h1M69 411.5h1M69 412.5h1M69 413.5h1M69 414.5h1M69 415.5h1M69 416.5h1M69 418.5h1M69 419.5h1M69 420.5h1M69 421.5h1M70 378.5h1M70 381.5h1M70 385.5h1M70 386.5h1M70 388.5h1M70 391.5h1M70 392.5h1M70 393.5h1M70 394.5h1M70 395.5h1M70 396.5h1M70 398.5h1M70 399.5h1M70 400.5h1M70 401.5h1M70 402.5h1M70 403.5h1M70 404.5h1M70 405.5h1M70 406.5h1M70 407.5h1M70 408.5h1M70 409.5h1M70 410.5h1M70 411.5h1M70 412.5h1M70 413.5h1M70 415.5h1M70 416.5h1M70 419.5h1M70 420.5h1M70 421.5h1M71 382.5h1M71 384.5h1M71 386.5h1M71 387.5h1M71 388.5h1M71 389.5h1M71 390.5h1M71 392.5h1M71 393.5h1M71 395.5h1M71 396.5h1M71 397.5h1M71 399.5h1M71 400.5h1M71 401.5h1M71 402.5h1M71 403.5h1M71 404.5h1M71 405.5h1M71 406.5h1M71 407.5h1M71 408.5h1M71 409.5h1M71 410.5h1M71 411.5h1M71 412.5h1M71 413.5h1M71 414.5h1M71 415.5h1M71 416.5h1M71 417.5h1M71 418.5h1M71 419.5h1M71 420.5h1M71 421.5h1M72 378.5h1M72 383.5h1M72 385.5h1M72 387.5h1M72 389.5h1M72 390.5h1M72 391.5h1M72 392.5h1M72 393.5h1M72 394.5h1M72 395.5h1M72 396.5h1M72 397.5h1M72 398.5h1M72 399.5h1M72 400.5h1M72 401.5h1M72 402.5h1M72 403.5h1M72 404.5h1M72 405.5h1M72 406.5h1M72 407.5h1M72 408.5h1M72 409.5h1M72 410.5h1M72 411.5h1M72 413.5h1M72 414.5h1M72 415.5h1M72 416.5h1M72 417.5h1M72 418.5h1M72 419.5h1M72 420.5h1M72 421.5h1M73 378.5h1M73 383.5h1M73 384.5h1M73 385.5h1M73 386.5h1M73 388.5h1M73 389.5h1M73 390.5h1M73 391.5h1M73 392.5h1M73 393.5h1M73 394.5h1M73 395.5h1M73 396.5h1M73 397.5h1M73 398.5h1M73 399.5h1M73 400.5h1M73 401.5h1M73 402.5h1M73 403.5h1M73 404.5h1M73 405.5h1M73 406.5h1M73 407.5h1M73 408.5h1M73 409.5h1M73 410.5h1M73 411.5h1M73 412.5h1M73 413.5h1M73 414.5h1M73 415.5h1M73 416.5h1M73 417.5h1M73 418.5h1M73 419.5h1M73 420.5h1M73 421.5h1M74 381.5h1M74 382.5h1M74 385.5h1M74 386.5h1M74 387.5h1M74 389.5h1M74 390.5h1M74 391.5h1M74 392.5h1M74 393.5h1M74 394.5h1M74 395.5h1M74 396.5h1M74 397.5h1M74 398.5h1M74 399.5h1M74 400.5h1M74 401.5h1M74 402.5h1M74 403.5h1M74 404.5h1M74 405.5h1M74 406.5h1M74 407.5h1M74 408.5h1M74 409.5h1M74 410.5h1M74 411.5h1M74 412.5h1M74 413.5h1M74 414.5h1M74 415.5h1M74 416.5h1M74 417.5h1M74 418.5h1M74 419.5h1M74 421.5h1M75 380.5h1M75 381.5h1M75 382.5h1M75 383.5h1M75 385.5h1M75 386.5h1M75 387.5h1M75 388.5h1M75 390.5h1M75 391.5h1M75 393.5h1M75 394.5h1M75 395.5h1M75 396.5h1M75 397.5h1M75 398.5h1M75 399.5h1M75 400.5h1M75 401.5h1M75 402.5h1M75 403.5h1M75 404.5h1M75 405.5h1M75 406.5h1M75 407.5h1M75 408.5h1M75 409.5h1M75 410.5h1M75 411.5h1M75 412.5h1M75 413.5h1M75 414.5h1M75 415.5h1M75 417.5h1M75 418.5h1M75 419.5h1M75 420.5h1M75 421.5h1M76 383.5h1M76 384.5h1M76 385.5h1M76 387.5h1M76 388.5h1M76 389.5h1M76 390.5h1M76 391.5h1M76 392.5h1M76 393.5h1M76 394.5h1M76 395.5h1M76 396.5h1M76 397.5h1M76 398.5h1M76 399.5h1M76 400.5h1M76 401.5h1M76 402.5h1M76 403.5h1M76 404.5h1M76 405.5h1M76 406.5h1M76 407.5h1M76 408.5h1M76 409.5h1M76 410.5h1M76 411.5h1M76 412.5h1M76 413.5h1M76 414.5h1M76 415.5h1M76 417.5h1M76 418.5h1M76 420.5h1M76 421.5h1M77 378.5h1M77 383.5h1M77 385.5h1M77 386.5h1M77 387.5h1M77 388.5h1M77 391.5h1M77 392.5h1M77 393.5h1M77 394.5h1M77 395.5h1M77 396.5h1M77 397.5h1M77 398.5h1M77 399.5h1M77 400.5h1M77 401.5h1M77 402.5h1M77 403.5h1M77 404.5h1M77 405.5h1M77 406.5h1M77 407.5h1M77 408.5h1M77 409.5h1M77 410.5h1M77 411.5h1M77 412.5h1M77 413.5h1M77 414.5h1M77 416.5h1M77 417.5h1M77 418.5h1M77 419.5h1M77 420.5h1M77 421.5h1M78 378.5h1M78 379.5h1M78 383.5h1M78 385.5h1M78 386.5h1M78 387.5h1M78 388.5h1M78 389.5h1M78 390.5h1M78 391.5h1M78 392.5h1M78 393.5h1M78 394.5h1M78 395.5h1M78 396.5h1M78 397.5h1M78 398.5h1M78 399.5h1M78 400.5h1M78 401.5h1M78 402.5h1M78 403.5h1M78 404.5h1M78 405.5h1M78 406.5h1M78 407.5h1M78 408.5h1M78 409.5h1M78 410.5h1M78 411.5h1M78 412.5h1M78 413.5h1M78 414.5h1M78 415.5h1M78 416.5h1M78 417.5h1M78 418.5h1M78 419.5h1M78 420.5h1M78 421.5h1M79 379.5h1M79 380.5h1M79 386.5h1M79 387.5h1M79 388.5h1M79 390.5h1M79 391.5h1M79 392.5h1M79 393.5h1M79 394.5h1M79 395.5h1M79 396.5h1M79 397.5h1M79 398.5h1M79 399.5h1M79 400.5h1M79 401.5h1M79 402.5h1M79 403.5h1M79 404.5h1M79 405.5h1M79 406.5h1M79 407.5h1M79 408.5h1M79 409.5h1M79 410.5h1M79 411.5h1M79 412.5h1M79 413.5h1M79 414.5h1M79 415.5h1M79 416.5h1M79 417.5h1M79 418.5h1M79 420.5h1M79 421.5h1M80 380.5h1M80 384.5h1M80 388.5h1M80 390.5h1M80 391.5h1M80 392.5h1M80 393.5h1M80 394.5h1M80 396.5h1M80 397.5h1M80 398.5h1M80 399.5h1M80 400.5h1M80 401.5h1M80 402.5h1M80 403.5h1M80 404.5h1M80 405.5h1M80 406.5h1M80 407.5h1M80 408.5h1M80 409.5h1M80 410.5h1M80 411.5h1M80 412.5h1M80 413.5h1M80 414.5h1M80 415.5h1M80 416.5h1M80 417.5h1M80 418.5h1M80 419.5h1M80 420.5h1M80 421.5h1M81 378.5h1M81 379.5h1M81 382.5h1M81 385.5h1M81 386.5h1M81 388.5h1M81 390.5h1M81 391.5h1M81 392.5h1M81 393.5h1M81 394.5h1M81 395.5h1M81 396.5h1M81 397.5h1M81 398.5h1M81 399.5h1M81 400.5h1M81 401.5h1M81 402.5h1M81 403.5h1M81 404.5h1M81 405.5h1M81 406.5h1M81 407.5h1M81 408.5h1M81 409.5h1M81 410.5h1M81 411.5h1M81 412.5h1M81 413.5h1M81 414.5h1M81 415.5h1M81 416.5h1M81 417.5h1M81 418.5h1M81 420.5h1M81 421.5h1M82 378.5h1M82 384.5h1M82 386.5h1M82 387.5h1M82 388.5h1M82 389.5h1M82 390.5h1M82 391.5h1M82 392.5h1M82 393.5h1M82 394.5h1M82 395.5h1M82 396.5h1M82 397.5h1M82 398.5h1M82 399.5h1M82 400.5h1M82 401.5h1M82 402.5h1M82 403.5h1M82 404.5h1M82 405.5h1M82 406.5h1M82 407.5h1M82 408.5h1M82 409.5h1M82 410.5h1M82 411.5h1M82 412.5h1M82 413.5h1M82 414.5h1M82 415.5h1M82 416.5h1M82 417.5h1M82 418.5h1M82 419.5h1M82 420.5h1M82 421.5h1M83 380.5h1M83 382.5h1M83 383.5h1M83 384.5h1M83 385.5h1M83 386.5h1M83 388.5h1M83 389.5h1M83 390.5h1M83 391.5h1M83 392.5h1M83 393.5h1M83 394.5h1M83 395.5h1M83 396.5h1M83 397.5h1M83 398.5h1M83 399.5h1M83 400.5h1M83 401.5h1M83 402.5h1M83 403.5h1M83 404.5h1M83 405.5h1M83 406.5h1M83 407.5h1M83 408.5h1M83 409.5h1M83 410.5h1M83 411.5h1M83 412.5h1M83 413.5h1M83 414.5h1M83 415.5h1M83 416.5h1M83 417.5h1M83 418.5h1M83 419.5h1M83 420.5h1M83 421.5h1M84 384.5h1M84 386.5h1M84 387.5h1M84 388.5h1M84 389.5h1M84 390.5h1M84 391.5h1M84 392.5h1M84 393.5h1M84 394.5h1M84 395.5h1M84 396.5h1M84 397.5h1M84 398.5h1M84 399.5h1M84 400.5h1M84 401.5h1M84 402.5h1M84 403.5h1M84 404.5h1M84 405.5h1M84 406.5h1M84 407.5h1M84 408.5h1M84 409.5h1M84 410.5h1M84 411.5h1M84 412.5h1M84 413.5h1M84 414.5h1M84 416.5h1M84 417.5h1M84 418.5h1M84 420.5h1M84 421.5h1M85 378.5h1M85 379.5h1M85 384.5h1M85 385.5h1M85 386.5h1M85 387.5h1M85 388.5h1M85 389.5h1M85 390.5h1M85 391.5h1M85 392.5h1M85 393.5h1M85 394.5h1M85 395.5h1M85 396.5h1M85 397.5h1M85 398.5h1M85 399.5h1M85 400.5h1M85 401.5h1M85 402.5h1M85 403.5h1M85 404.5h1M85 405.5h1M85 406.5h1M85 407.5h1M85 408.5h1M85 409.5h1M85 410.5h1M85 411.5h1M85 412.5h1M85 413.5h1M85 414.5h1M85 415.5h1M85 416.5h1M85 417.5h1M85 418.5h1M85 419.5h1M85 421.5h1M86 378.5h1M86 382.5h1M86 386.5h1M86 387.5h1M86 388.5h1M86 389.5h1M86 390.5h1M86 391.5h1M86 393.5h1M86 394.5h1M86 395.5h1M86 396.5h1M86 397.5h1M86 398.5h1M86 399.5h1M86 400.5h1M86 401.5h1M86 402.5h1M86 403.5h1M86 404.5h1M86 405.5h1M86 406.5h1M86 407.5h1M86 408.5h1M86 409.5h1M86 410.5h1M86 411.5h1M86 412.5h1M86 413.5h1M86 414.5h1M86 415.5h1M86 416.5h1M86 417.5h1M86 418.5h1M86 420.5h1M86 421.5h1M87 379.5h1M87 381.5h1M87 383.5h1M87 386.5h1M87 387.5h1M87 389.5h1M87 390.5h1M87 392.5h1M87 393.5h1M87 395.5h1M87 396.5h1M87 397.5h1M87 398.5h1M87 399.5h1M87 400.5h1M87 401.5h1M87 402.5h1M87 403.5h1M87 404.5h1M87 405.5h1M87 406.5h1M87 407.5h1M87 408.5h1M87 409.5h1M87 410.5h1M87 411.5h1M87 412.5h1M87 413.5h1M87 414.5h1M87 415.5h1M87 416.5h1M87 417.5h1M87 418.5h1M87 419.5h1M87 421.5h1M88 380.5h1M88 382.5h1M88 383.5h1M88 385.5h1M88 386.5h1M88 387.5h1M88 388.5h1M88 389.5h1M88 394.5h1M88 395.5h1M88 396.5h1M88 397.5h1M88 398.5h1M88 399.5h1M88 400.5h1M88 401.5h1M88 402.5h1M88 403.5h1M88 404.5h1M88 405.5h1M88 406.5h1M88 407.5h1M88 408.5h1M88 409.5h1M88 410.5h1M88 411.5h1M88 413.5h1M88 414.5h1M88 415.5h1M88 416.5h1M88 417.5h1M88 421.5h1M89 380.5h1M89 381.5h1M89 383.5h1M89 384.5h1M89 385.5h1M89 386.5h1M89 387.5h1M89 388.5h1M89 389.5h1M89 390.5h1M89 392.5h1M89 393.5h1M89 394.5h1M89 395.5h1M89 396.5h1M89 397.5h1M89 398.5h1M89 399.5h1M89 400.5h1M89 401.5h1M89 402.5h1M89 403.5h1M89 404.5h1M89 405.5h1M89 406.5h1M89 407.5h1M89 409.5h1M89 410.5h1M89 411.5h1M89 412.5h1M89 413.5h1M89 414.5h1M89 415.5h1M89 416.5h1M89 417.5h1M89 418.5h1M89 419.5h1M89 421.5h1M90 380.5h1M90 386.5h1M90 387.5h1M90 388.5h1M90 389.5h1M90 390.5h1M90 392.5h1M90 393.5h1M90 394.5h1M90 395.5h1M90 396.5h1M90 397.5h1M90 398.5h1M90 399.5h1M90 400.5h1M90 401.5h1M90 402.5h1M90 403.5h1M90 404.5h1M90 405.5h1M90 406.5h1M90 407.5h1M90 408.5h1M90 409.5h1M90 410.5h1M90 411.5h1M90 412.5h1M90 413.5h1M90 414.5h1M90 415.5h1M90 418.5h1M90 419.5h1M90 421.5h1M91 383.5h1M91 384.5h1M91 385.5h1M91 386.5h1M91 387.5h1M91 390.5h1M91 391.5h1M91 392.5h1M91 393.5h1M91 394.5h1M91 395.5h1M91 396.5h1M91 397.5h1M91 398.5h1M91 399.5h1M91 400.5h1M91 401.5h1M91 402.5h1M91 403.5h1M91 404.5h1M91 405.5h1M91 406.5h1M91 407.5h1M91 408.5h1M91 409.5h1M91 410.5h1M91 411.5h1M91 412.5h1M91 414.5h1M91 415.5h1M91 416.5h1M91 417.5h1M91 418.5h1M91 419.5h1M91 421.5h1M92 385.5h1M92 386.5h1M92 387.5h1M92 389.5h1M92 390.5h1M92 391.5h1M92 392.5h1M92 393.5h1M92 394.5h1M92 395.5h1M92 397.5h1M92 398.5h1M92 399.5h1M92 400.5h1M92 401.5h1M92 402.5h1M92 403.5h1M92 404.5h1M92 405.5h1M92 406.5h1M92 407.5h1M92 408.5h1M92 409.5h1M92 410.5h1M92 411.5h1M92 412.5h1M92 414.5h1M92 416.5h1M92 418.5h1M92 419.5h1M92 420.5h1M92 421.5h1M93 381.5h1M93 382.5h1M93 383.5h1M93 385.5h1M93 388.5h1M93 389.5h1M93 391.5h1M93 393.5h1M93 394.5h1M93 396.5h1M93 397.5h1M93 398.5h1M93 399.5h1M93 400.5h1M93 401.5h1M93 402.5h1M93 403.5h1M93 404.5h1M93 405.5h1M93 406.5h1M93 407.5h1M93 408.5h1M93 409.5h1M93 410.5h1M93 411.5h1M93 412.5h1M93 413.5h1M93 414.5h1M93 415.5h1M93 417.5h1M93 419.5h1M93 420.5h1M93 421.5h1M94 379.5h1M94 384.5h1M94 386.5h1M94 387.5h1M94 388.5h1M94 392.5h1M94 393.5h1M94 394.5h1M94 396.5h1M94 397.5h1M94 398.5h1M94 400.5h1M94 401.5h1M94 403.5h1M94 404.5h1M94 406.5h1M94 407.5h1M94 408.5h1M94 409.5h1M94 410.5h1M94 411.5h1M94 412.5h1M94 413.5h1M94 414.5h1M94 415.5h1M94 416.5h1M94 417.5h1M94 418.5h1M94 419.5h1M94 420.5h1M94 421.5h1M95 380.5h1M95 381.5h1M95 383.5h1M95 384.5h1M95 386.5h1M95 387.5h1M95 388.5h1M95 389.5h1M95 390.5h1M95 391.5h1M95 392.5h1M95 393.5h1M95 394.5h1M95 396.5h1M95 397.5h1M95 398.5h1M95 399.5h1M95 400.5h1M95 401.5h1M95 402.5h1M95 403.5h1M95 404.5h1M95 405.5h1M95 406.5h1M95 407.5h1M95 408.5h1M95 409.5h1M95 410.5h1M95 411.5h1M95 412.5h1M95 413.5h1M95 414.5h1M95 417.5h1M95 418.5h1M95 419.5h1M95 420.5h1M95 421.5h1M96 378.5h1M96 380.5h1M96 382.5h1M96 385.5h1M96 386.5h1M96 387.5h1M96 389.5h1M96 390.5h1M96 391.5h1M96 392.5h1M96 393.5h1M96 394.5h1M96 395.5h1M96 396.5h1M96 397.5h1M96 398.5h1M96 399.5h1M96 401.5h1M96 402.5h1M96 403.5h1M96 405.5h1M96 406.5h1M96 407.5h1M96 408.5h1M96 410.5h1M96 411.5h1M96 412.5h1M96 414.5h1M96 419.5h1M96 421.5h1M97 379.5h1M97 380.5h1M97 384.5h1M97 385.5h1M97 388.5h1M97 389.5h1M97 390.5h1M97 391.5h1M97 392.5h1M97 393.5h1M97 394.5h1M97 395.5h1M97 397.5h1M97 399.5h1M97 400.5h1M97 401.5h1M97 402.5h1M97 403.5h1M97 404.5h1M97 405.5h1M97 406.5h1M97 407.5h1M97 408.5h1M97 409.5h1M97 410.5h1M97 411.5h1M97 412.5h1M97 413.5h1M97 414.5h1M97 415.5h1M97 418.5h1M97 421.5h1M98 378.5h1M98 379.5h1M98 381.5h1M98 384.5h1M98 385.5h1M98 387.5h1M98 389.5h1M98 391.5h1M98 392.5h1M98 393.5h1M98 395.5h1M98 396.5h1M98 397.5h1M98 400.5h1M98 401.5h1M98 402.5h1M98 405.5h1M98 406.5h1M98 407.5h1M98 408.5h1M98 409.5h1M98 410.5h1M98 412.5h1M98 413.5h1M98 414.5h1M98 415.5h1M98 416.5h1M98 417.5h1M98 418.5h1M98 419.5h1M98 421.5h1M99 378.5h1M99 386.5h1M99 389.5h1M99 390.5h1M99 391.5h1M99 392.5h1M99 393.5h1M99 395.5h1M99 396.5h1M99 397.5h1M99 398.5h1M99 399.5h1M99 400.5h1M99 401.5h1M99 402.5h1M99 404.5h1M99 405.5h1M99 406.5h1M99 407.5h1M99 408.5h1M99 409.5h1M99 414.5h1M99 415.5h1M99 416.5h1M99 417.5h1M99 419.5h1M99 420.5h1M99 421.5h1" stroke="#000" stroke-width="1" fill="none" shape-rendering="crispEdges"/>
<path d="M76.9 377h1.4M93.2 377.4h1.4M112.1 401.2h1.4M127.5 400.8h1.4M116.4 394.3h1.4M113.9 397.2h1.4M80.1 376.4h1.4M86.5 376.5h1.4M90.9 377h1.4M114.2 387.7h1.4M94.2 377.7h1.4M127.7 397.8h1.4M114.5 411.9h1.4M100.2 377.8h1.4M113.3 417.6h1.4M59.6 377h1.4M59.6 377.9h1.4M115 396.2h1.4M68.7 376.5h1.4M70.2 375.2h1.4M84.2 372.1h1.4M66.5 376.6h1.4M78.4 373.9h1.4M79.4 371.1h1.4M101.2 374.4h1.4M82.9 376.6h1.4M107.9 370.1h1.4M91.3 374.6h1.4M74 374.8h1.4M77.8 375.2h1.4M107.9 374.3h1.4M88.2 374.1h1.4M69.6 376.4h1.4M103.4 373.1h1.4M67.5 375.4h1.4M99.2 377.1h1.4M84.2 376.7h1.4M99.2 369.5h1.4M88.3 366.9h1.4M66.2 374.2h1.4M87.9 372.9h1.4M84 371.9h1.4M99.3 374.1h1.4M91.3 376.9h1.4M72.8 376.4h1.4M75.5 375.3h1.4M94.7 377.7h1.4M103.6 361.9h1.4M66.4 376.2h1.4M82 376.1h1.4M73.2 377.7h1.4M101.8 370.6h1.4M103.3 372h1.4M93.8 370.5h1.4M75.5 376.4h1.4M102.9 368.6h1.4M66.6 371.8h1.4M87 365.9h1.4M103 371.7h1.4M99.6 367.4h1.4M87.6 374.9h1.4M68.5 377.8h1.4M81 377.9h1.4M67.3 360.3h1.4M78.8 373.9h1.4M84.5 368.3h1.4M64.3 372.4h1.4M80.6 368.6h1.4M80.1 366.2h1.4M97.6 368.4h1.4M90.7 321.8h1.4M98.8 326.7h1.4M81.6 321h1.4M97.8 365.2h1.4M95.7 346.5h1.4M102.4 332.5h1.4M105.7 335.3h1.4M103.4 333.9h1.4M115.5 371.5h1.4M171.9 342.2h1.4M141.6 376.3h1.4M188.7 330.9h1.4M129.5 381.5h1.4M99.9 365.7h1.4M117.4 381.1h1.4M129.6 358h1.4M210.6 335.7h1.4M131.3 370.5h1.4M156.5 349.6h1.4M193.8 337.3h1.4M199.1 331.6h1.4M210 322.5h1.4M115.9 371.1h1.4M127.9 364.5h1.4M183.9 330.8h1.4M195.3 337.1h1.4M196.7 328.7h1.4M133.9 375.1h1.4M149.4 361.5h1.4M211.2 326.7h1.4M146.8 365.1h1.4M209.4 315.3h1.4M116 374.3h1.4M166.9 337.6h1.4M119 385.9h1.4M122.4 366.1h1.4M125.9 379.1h1.4M105 376.5h1.4M203.7 320.5h1.4M149.5 358.9h1.4M117.5 374.7h1.4M118.4 377.2h1.4M117.8 376h1.4M127.3 375.6h1.4M172 339.2h1.4M126.9 349h1.4M182.4 337.1h1.4M128 370.9h1.4M108.5 375.4h1.4M113.6 375.1h1.4M152.8 342.2h1.4M204.2 323.6h1.4M114.5 368.4h1.4M191.6 314.5h1.4M140.9 369.4h1.4M210.9 322.3h1.4M231 312.9h1.4M141.4 359.9h1.4M143.1 357.6h1.4M156.4 355.2h1.4M128.3 378.4h1.4M118.6 365.6h1.4M161.5 365.2h1.4M143.7 366.9h1.4M126 372.5h1.4M223 316.5h1.4M247 307.3h1.4M190.9 326.7h1.4M143.6 336.2h1.4M128.4 354.2h1.4M113.9 344.8h1.4M127.2 366h1.4M125.4 365h1.4M139.8 363.5h1.4M142.7 366.4h1.4M170.3 325.2h1.4M206.2 328.1h1.4M159.7 351h1.4M239.6 300.1h1.4M120.4 390.1h1.4M119.8 369.2h1.4M154.6 357.6h1.4M109 373.3h1.4M137 369.1h1.4M182.1 338.6h1.4M216.1 305.5h1.4M117.4 374.8h1.4M243.8 297h1.4M150 358.6h1.4M120.2 367.6h1.4M114.5 375h1.4M240.2 314.3h1.4M116.2 358h1.4M234.6 303.6h1.4M193.3 329.5h1.4M124.5 376.5h1.4M174.4 346.7h1.4M100.7 373.4h1.4M247.6 294.4h1.4M131.7 369.6h1.4M118.6 393h1.4M114.1 405.2h1.4M115.9 383.1h1.4M115.1 407.4h1.4M116.7 401.7h1.4M117.2 400.1h1.4M112.9 382.8h1.4M121.8 386.6h1.4M114.7 404.4h1.4M114.3 381.6h1.4M116.5 388.9h1.4M124.3 390.1h1.4M112.2 411.3h1.4M117.6 414.9h1.4M118 412.5h1.4M113.7 393.4h1.4M116.9 384.2h1.4M118.7 399.1h1.4M114.7 403.9h1.4M121.7 410.5h1.4M112.8 405.7h1.4M113.1 396.9h1.4M118.3 409.5h1.4M126.2 411.5h1.4M115.8 398.6h1.4M119.6 405h1.4M114.3 414.3h1.4M115.2 403.6h1.4M116.3 402.5h1.4M113.4 395h1.4" stroke="#222" stroke-width="1.4" fill="none"/>
<text x="65" y="301.5" font-size="14" fill="#222">1.37%</text>
<text x="198" y="298" font-size="14" fill="#222">2.02%</text>
<text x="200" y="407.5" font-size="14" fill="#222">0.51%</text>
<path d="M305 420.8v4.5M305 420.8h-4.5M355.1 420.8v4.5M305 380.2h-4.5M405.2 420.8v4.5M305 339.8h-4.5M455.4 420.8v4.5M305 299.2h-4.5M505.5 420.8v4.5M305 258.8h-4.5" stroke="#333" stroke-width="1.1" fill="none"/>
<path d="M320.1 420.8v2.5M305 408.6h-2.5M328.9 420.8v2.5M305 401.4h-2.5M335.2 420.8v2.5M305 396.4h-2.5M340 420.8v2.5M305 392.4h-2.5M344 420.8v2.5M305 389.2h-2.5M347.4 420.8v2.5M305 386.5h-2.5M350.3 420.8v2.5M305 384.2h-2.5M352.8 420.8v2.5M305 382.1h-2.5M370.2 420.8v2.5M305 368.1h-2.5M379 420.8v2.5M305 360.9h-2.5M385.3 420.8v2.5M305 355.9h-2.5M390.2 420.8v2.5M305 351.9h-2.5M394.1 420.8v2.5M305 348.7h-2.5M397.5 420.8v2.5M305 346h-2.5M400.4 420.8v2.5M305 343.7h-2.5M403 420.8v2.5M305 341.6h-2.5M420.3 420.8v2.5M305 327.6h-2.5M429.2 420.8v2.5M305 320.4h-2.5M435.4 420.8v2.5M305 315.4h-2.5M440.3 420.8v2.5M305 311.4h-2.5M444.3 420.8v2.5M305 308.2h-2.5M447.6 420.8v2.5M305 305.5h-2.5M450.5 420.8v2.5M305 303.2h-2.5M453.1 420.8v2.5M305 301.1h-2.5M470.5 420.8v2.5M305 287.1h-2.5M479.3 420.8v2.5M305 279.9h-2.5M485.6 420.8v2.5M305 274.9h-2.5M490.4 420.8v2.5M305 270.9h-2.5M494.4 420.8v2.5M305 267.7h-2.5M497.7 420.8v2.5M305 265h-2.5M500.6 420.8v2.5M305 262.7h-2.5M503.2 420.8v2.5M305 260.6h-2.5" stroke="#666" stroke-width="0.9" fill="none"/>
<rect x="305" y="258.8" width="200.5" height="162" fill="none" stroke="#111" stroke-width="1.5"/>
<path d="M357 258.8V420.8M305 379.2H505.5" stroke="#111" stroke-width="1.4" fill="none"/>
<text x="291.2" y="444.9" font-size="11.5" fill="#111">10<tspan font-size="8" dy="-7.3" dx="0.4">0</tspan></text>
<text x="280.8" y="430.1" font-size="11.5" fill="#111">10<tspan font-size="8" dy="-7.3" dx="0.4">0</tspan></text>
<text x="341.3" y="444.9" font-size="11.5" fill="#111">10<tspan font-size="8" dy="-7.3" dx="0.4">1</tspan></text>
<text x="280.8" y="389.6" font-size="11.5" fill="#111">10<tspan font-size="8" dy="-7.3" dx="0.4">1</tspan></text>
<text x="391.4" y="444.9" font-size="11.5" fill="#111">10<tspan font-size="8" dy="-7.3" dx="0.4">2</tspan></text>
<text x="280.8" y="349.1" font-size="11.5" fill="#111">10<tspan font-size="8" dy="-7.3" dx="0.4">2</tspan></text>
<text x="441.6" y="444.9" font-size="11.5" fill="#111">10<tspan font-size="8" dy="-7.3" dx="0.4">3</tspan></text>
<text x="280.8" y="308.6" font-size="11.5" fill="#111">10<tspan font-size="8" dy="-7.3" dx="0.4">3</tspan></text>
<text x="491.7" y="444.9" font-size="11.5" fill="#111">10<tspan font-size="8" dy="-7.3" dx="0.4">4</tspan></text>
<text x="280.8" y="268.1" font-size="11.5" fill="#111">10<tspan font-size="8" dy="-7.3" dx="0.4">4</tspan></text>
<path d="M306 377.5h1M306 379.5h1M306 382.5h1M306 384.5h1M306 385.5h1M306 386.5h1M306 387.5h1M306 388.5h1M306 389.5h1M306 390.5h1M306 391.5h1M306 392.5h1M306 393.5h1M306 394.5h1M306 395.5h1M306 396.5h1M306 397.5h1M306 398.5h1M306 399.5h1M306 400.5h1M306 401.5h1M306 402.5h1M306 403.5h1M306 404.5h1M306 405.5h1M306 406.5h1M306 407.5h1M306 408.5h1M306 409.5h1M306 410.5h1M306 411.5h1M306 412.5h1M306 413.5h1M306 414.5h1M306 415.5h1M306 416.5h1M306 417.5h1M306 418.5h1M306 419.5h1M307 382.5h1M307 385.5h1M307 386.5h1M307 388.5h1M307 390.5h1M307 395.5h1M307 396.5h1M307 397.5h1M307 398.5h1M307 399.5h1M307 400.5h1M307 402.5h1M307 403.5h1M307 404.5h1M307 405.5h1M307 406.5h1M307 407.5h1M307 408.5h1M307 409.5h1M307 410.5h1M307 412.5h1M307 413.5h1M307 414.5h1M307 416.5h1M307 419.5h1M308 382.5h1M308 384.5h1M308 385.5h1M308 387.5h1M308 389.5h1M308 391.5h1M308 392.5h1M308 393.5h1M308 394.5h1M308 396.5h1M308 397.5h1M308 398.5h1M308 400.5h1M308 401.5h1M308 402.5h1M308 403.5h1M308 404.5h1M308 405.5h1M308 406.5h1M308 407.5h1M308 408.5h1M308 409.5h1M308 410.5h1M308 412.5h1M308 415.5h1M308 418.5h1M308 419.5h1M309 381.5h1M309 384.5h1M309 385.5h1M309 389.5h1M309 391.5h1M309 392.5h1M309 393.5h1M309 395.5h1M309 396.5h1M309 397.5h1M309 398.5h1M309 399.5h1M309 400.5h1M309 401.5h1M309 404.5h1M309 405.5h1M309 406.5h1M309 407.5h1M309 408.5h1M309 409.5h1M309 410.5h1M309 411.5h1M309 412.5h1M309 413.5h1M309 414.5h1M309 418.5h1M309 419.5h1M310 380.5h1M310 382.5h1M310 383.5h1M310 384.5h1M310 385.5h1M310 386.5h1M310 387.5h1M310 390.5h1M310 391.5h1M310 392.5h1M310 393.5h1M310 394.5h1M310 395.5h1M310 396.5h1M310 397.5h1M310 398.5h1M310 399.5h1M310 400.5h1M310 401.5h1M310 402.5h1M310 403.5h1M310 404.5h1M310 405.5h1M310 406.5h1M310 407.5h1M310 408.5h1M310 409.5h1M310 410.5h1M310 411.5h1M310 412.5h1M310 413.5h1M310 414.5h1M310 415.5h1M310 416.5h1M310 419.5h1M311 378.5h1M311 382.5h1M311 385.5h1M311 386.5h1M311 388.5h1M311 389.5h1M311 390.5h1M311 391.5h1M311 392.5h1M311 394.5h1M311 395.5h1M311 396.5h1M311 397.5h1M311 398.5h1M311 399.5h1M311 400.5h1M311 401.5h1M311 402.5h1M311 403.5h1M311 404.5h1M311 405.5h1M311 406.5h1M311 407.5h1M311 408.5h1M311 409.5h1M311 410.5h1M311 411.5h1M311 412.5h1M311 413.5h1M311 415.5h1M311 416.5h1M311 417.5h1M311 419.5h1M312 377.5h1M312 381.5h1M312 383.5h1M312 385.5h1M312 386.5h1M312 387.5h1M312 388.5h1M312 389.5h1M312 390.5h1M312 391.5h1M312 392.5h1M312 393.5h1M312 395.5h1M312 396.5h1M312 397.5h1M312 398.5h1M312 399.5h1M312 400.5h1M312 402.5h1M312 403.5h1M312 404.5h1M312 405.5h1M312 406.5h1M312 407.5h1M312 408.5h1M312 409.5h1M312 410.5h1M312 411.5h1M312 412.5h1M312 413.5h1M312 414.5h1M312 416.5h1M312 418.5h1M312 419.5h1M313 378.5h1M313 380.5h1M313 383.5h1M313 384.5h1M313 386.5h1M313 387.5h1M313 388.5h1M313 389.5h1M313 390.5h1M313 392.5h1M313 394.5h1M313 396.5h1M313 397.5h1M313 398.5h1M313 399.5h1M313 400.5h1M313 401.5h1M313 402.5h1M313 403.5h1M313 404.5h1M313 405.5h1M313 406.5h1M313 407.5h1M313 408.5h1M313 409.5h1M313 410.5h1M313 412.5h1M313 414.5h1M313 415.5h1M313 418.5h1M313 419.5h1M314 380.5h1M314 382.5h1M314 384.5h1M314 385.5h1M314 386.5h1M314 387.5h1M314 388.5h1M314 389.5h1M314 390.5h1M314 391.5h1M314 392.5h1M314 393.5h1M314 394.5h1M314 395.5h1M314 396.5h1M314 398.5h1M314 399.5h1M314 400.5h1M314 401.5h1M314 402.5h1M314 403.5h1M314 404.5h1M314 405.5h1M314 406.5h1M314 408.5h1M314 409.5h1M314 410.5h1M314 411.5h1M314 412.5h1M314 413.5h1M314 414.5h1M314 415.5h1M314 416.5h1M314 417.5h1M314 419.5h1M315 380.5h1M315 381.5h1M315 383.5h1M315 389.5h1M315 390.5h1M315 391.5h1M315 392.5h1M315 393.5h1M315 394.5h1M315 395.5h1M315 396.5h1M315 397.5h1M315 398.5h1M315 399.5h1M315 400.5h1M315 401.5h1M315 403.5h1M315 404.5h1M315 405.5h1M315 406.5h1M315 407.5h1M315 408.5h1M315 409.5h1M315 410.5h1M315 411.5h1M315 413.5h1M315 416.5h1M315 417.5h1M315 419.5h1M316 379.5h1M316 387.5h1M316 388.5h1M316 390.5h1M316 391.5h1M316 392.5h1M316 393.5h1M316 394.5h1M316 395.5h1M316 396.5h1M316 397.5h1M316 398.5h1M316 399.5h1M316 400.5h1M316 401.5h1M316 402.5h1M316 403.5h1M316 404.5h1M316 405.5h1M316 406.5h1M316 407.5h1M316 408.5h1M316 409.5h1M316 410.5h1M316 411.5h1M316 412.5h1M316 413.5h1M316 414.5h1M316 415.5h1M316 416.5h1M316 419.5h1M317 380.5h1M317 385.5h1M317 386.5h1M317 388.5h1M317 390.5h1M317 391.5h1M317 392.5h1M317 393.5h1M317 395.5h1M317 397.5h1M317 398.5h1M317 399.5h1M317 400.5h1M317 401.5h1M317 402.5h1M317 403.5h1M317 404.5h1M317 405.5h1M317 407.5h1M317 408.5h1M317 409.5h1M317 410.5h1M317 411.5h1M317 412.5h1M317 414.5h1M317 415.5h1M317 419.5h1M318 377.5h1M318 380.5h1M318 381.5h1M318 382.5h1M318 383.5h1M318 384.5h1M318 386.5h1M318 388.5h1M318 389.5h1M318 390.5h1M318 391.5h1M318 392.5h1M318 393.5h1M318 394.5h1M318 395.5h1M318 396.5h1M318 397.5h1M318 398.5h1M318 399.5h1M318 400.5h1M318 401.5h1M318 402.5h1M318 403.5h1M318 404.5h1M318 405.5h1M318 406.5h1M318 407.5h1M318 408.5h1M318 410.5h1M318 411.5h1M318 412.5h1M318 414.5h1M318 415.5h1M318 416.5h1M318 417.5h1M318 418.5h1M318 419.5h1M319 377.5h1M319 381.5h1M319 382.5h1M319 384.5h1M319 385.5h1M319 386.5h1M319 387.5h1M319 388.5h1M319 389.5h1M319 390.5h1M319 391.5h1M319 392.5h1M319 393.5h1M319 394.5h1M319 395.5h1M319 396.5h1M319 397.5h1M319 398.5h1M319 399.5h1M319 400.5h1M319 401.5h1M319 402.5h1M319 403.5h1M319 404.5h1M319 405.5h1M319 406.5h1M319 407.5h1M319 408.5h1M319 409.5h1M319 410.5h1M319 411.5h1M319 412.5h1M319 413.5h1M319 414.5h1M319 415.5h1M319 416.5h1M319 417.5h1M319 418.5h1M319 419.5h1M320 378.5h1M320 381.5h1M320 382.5h1M320 383.5h1M320 384.5h1M320 387.5h1M320 388.5h1M320 390.5h1M320 391.5h1M320 392.5h1M320 393.5h1M320 394.5h1M320 395.5h1M320 396.5h1M320 397.5h1M320 398.5h1M320 399.5h1M320 400.5h1M320 401.5h1M320 402.5h1M320 403.5h1M320 404.5h1M320 405.5h1M320 406.5h1M320 407.5h1M320 408.5h1M320 409.5h1M320 410.5h1M320 411.5h1M320 412.5h1M320 413.5h1M320 415.5h1M320 416.5h1M320 417.5h1M320 418.5h1M320 419.5h1M321 381.5h1M321 382.5h1M321 383.5h1M321 384.5h1M321 386.5h1M321 387.5h1M321 388.5h1M321 389.5h1M321 390.5h1M321 391.5h1M321 392.5h1M321 393.5h1M321 394.5h1M321 395.5h1M321 396.5h1M321 397.5h1M321 398.5h1M321 399.5h1M321 400.5h1M321 401.5h1M321 402.5h1M321 403.5h1M321 404.5h1M321 405.5h1M321 406.5h1M321 407.5h1M321 408.5h1M321 409.5h1M321 410.5h1M321 411.5h1M321 412.5h1M321 414.5h1M321 415.5h1M321 416.5h1M321 417.5h1M321 418.5h1M321 419.5h1M322 377.5h1M322 382.5h1M322 386.5h1M322 387.5h1M322 388.5h1M322 389.5h1M322 390.5h1M322 391.5h1M322 392.5h1M322 393.5h1M322 394.5h1M322 395.5h1M322 396.5h1M322 397.5h1M322 398.5h1M322 399.5h1M322 400.5h1M322 401.5h1M322 402.5h1M322 403.5h1M322 404.5h1M322 405.5h1M322 406.5h1M322 407.5h1M322 408.5h1M322 409.5h1M322 410.5h1M322 411.5h1M322 412.5h1M322 413.5h1M322 414.5h1M322 415.5h1M322 416.5h1M322 417.5h1M322 418.5h1M322 419.5h1M323 381.5h1M323 382.5h1M323 384.5h1M323 385.5h1M323 386.5h1M323 388.5h1M323 389.5h1M323 390.5h1M323 391.5h1M323 392.5h1M323 393.5h1M323 394.5h1M323 395.5h1M323 396.5h1M323 397.5h1M323 398.5h1M323 399.5h1M323 400.5h1M323 402.5h1M323 403.5h1M323 404.5h1M323 405.5h1M323 406.5h1M323 407.5h1M323 408.5h1M323 409.5h1M323 410.5h1M323 411.5h1M323 412.5h1M323 413.5h1M323 414.5h1M323 415.5h1M323 417.5h1M323 418.5h1M323 419.5h1M324 377.5h1M324 378.5h1M324 382.5h1M324 385.5h1M324 386.5h1M324 387.5h1M324 388.5h1M324 389.5h1M324 390.5h1M324 391.5h1M324 392.5h1M324 393.5h1M324 394.5h1M324 395.5h1M324 396.5h1M324 397.5h1M324 398.5h1M324 399.5h1M324 400.5h1M324 401.5h1M324 402.5h1M324 403.5h1M324 404.5h1M324 405.5h1M324 406.5h1M324 407.5h1M324 408.5h1M324 409.5h1M324 410.5h1M324 411.5h1M324 412.5h1M324 413.5h1M324 414.5h1M324 415.5h1M324 416.5h1M324 417.5h1M324 418.5h1M324 419.5h1M325 379.5h1M325 381.5h1M325 384.5h1M325 386.5h1M325 387.5h1M325 388.5h1M325 389.5h1M325 390.5h1M325 391.5h1M325 392.5h1M325 393.5h1M325 395.5h1M325 396.5h1M325 397.5h1M325 398.5h1M325 399.5h1M325 400.5h1M325 401.5h1M325 402.5h1M325 403.5h1M325 404.5h1M325 405.5h1M325 406.5h1M325 407.5h1M325 408.5h1M325 409.5h1M325 410.5h1M325 411.5h1M325 412.5h1M325 413.5h1M325 414.5h1M325 415.5h1M325 416.5h1M325 417.5h1M325 418.5h1M325 419.5h1M326 377.5h1M326 379.5h1M326 380.5h1M326 381.5h1M326 382.5h1M326 384.5h1M326 385.5h1M326 388.5h1M326 389.5h1M326 390.5h1M326 391.5h1M326 392.5h1M326 393.5h1M326 394.5h1M326 395.5h1M326 397.5h1M326 398.5h1M326 399.5h1M326 400.5h1M326 401.5h1M326 402.5h1M326 403.5h1M326 404.5h1M326 405.5h1M326 406.5h1M326 407.5h1M326 408.5h1M326 409.5h1M326 410.5h1M326 411.5h1M326 412.5h1M326 413.5h1M326 414.5h1M326 415.5h1M326 416.5h1M326 417.5h1M326 419.5h1M327 381.5h1M327 382.5h1M327 384.5h1M327 385.5h1M327 386.5h1M327 387.5h1M327 389.5h1M327 391.5h1M327 392.5h1M327 393.5h1M327 394.5h1M327 395.5h1M327 396.5h1M327 397.5h1M327 398.5h1M327 399.5h1M327 400.5h1M327 401.5h1M327 402.5h1M327 403.5h1M327 404.5h1M327 405.5h1M327 406.5h1M327 407.5h1M327 408.5h1M327 409.5h1M327 410.5h1M327 411.5h1M327 412.5h1M327 413.5h1M327 414.5h1M327 415.5h1M327 416.5h1M327 417.5h1M327 418.5h1M327 419.5h1M328 383.5h1M328 384.5h1M328 388.5h1M328 391.5h1M328 392.5h1M328 393.5h1M328 394.5h1M328 395.5h1M328 396.5h1M328 397.5h1M328 398.5h1M328 399.5h1M328 400.5h1M328 401.5h1M328 402.5h1M328 403.5h1M328 404.5h1M328 405.5h1M328 406.5h1M328 407.5h1M328 408.5h1M328 409.5h1M328 410.5h1M328 411.5h1M328 412.5h1M328 413.5h1M328 414.5h1M328 415.5h1M328 416.5h1M328 417.5h1M328 418.5h1M328 419.5h1M329 379.5h1M329 381.5h1M329 383.5h1M329 384.5h1M329 385.5h1M329 386.5h1M329 387.5h1M329 388.5h1M329 389.5h1M329 390.5h1M329 391.5h1M329 392.5h1M329 393.5h1M329 394.5h1M329 395.5h1M329 396.5h1M329 397.5h1M329 398.5h1M329 399.5h1M329 400.5h1M329 401.5h1M329 402.5h1M329 403.5h1M329 404.5h1M329 405.5h1M329 406.5h1M329 407.5h1M329 408.5h1M329 409.5h1M329 410.5h1M329 411.5h1M329 412.5h1M329 413.5h1M329 414.5h1M329 415.5h1M329 416.5h1M329 417.5h1M329 418.5h1M329 419.5h1M330 379.5h1M330 380.5h1M330 381.5h1M330 383.5h1M330 384.5h1M330 385.5h1M330 386.5h1M330 388.5h1M330 389.5h1M330 390.5h1M330 392.5h1M330 393.5h1M330 394.5h1M330 395.5h1M330 396.5h1M330 397.5h1M330 398.5h1M330 399.5h1M330 400.5h1M330 401.5h1M330 402.5h1M330 403.5h1M330 404.5h1M330 405.5h1M330 406.5h1M330 407.5h1M330 408.5h1M330 409.5h1M330 410.5h1M330 412.5h1M330 413.5h1M330 414.5h1M330 415.5h1M330 416.5h1M330 417.5h1M330 419.5h1M331 377.5h1M331 380.5h1M331 381.5h1M331 386.5h1M331 387.5h1M331 388.5h1M331 389.5h1M331 390.5h1M331 391.5h1M331 392.5h1M331 393.5h1M331 395.5h1M331 396.5h1M331 397.5h1M331 398.5h1M331 399.5h1M331 400.5h1M331 401.5h1M331 402.5h1M331 403.5h1M331 404.5h1M331 405.5h1M331 406.5h1M331 407.5h1M331 408.5h1M331 409.5h1M331 410.5h1M331 411.5h1M331 412.5h1M331 413.5h1M331 414.5h1M331 415.5h1M331 416.5h1M331 417.5h1M331 418.5h1M331 419.5h1M332 378.5h1M332 381.5h1M332 383.5h1M332 384.5h1M332 385.5h1M332 386.5h1M332 390.5h1M332 391.5h1M332 392.5h1M332 393.5h1M332 394.5h1M332 395.5h1M332 396.5h1M332 397.5h1M332 398.5h1M332 399.5h1M332 400.5h1M332 401.5h1M332 402.5h1M332 403.5h1M332 404.5h1M332 405.5h1M332 406.5h1M332 407.5h1M332 408.5h1M332 409.5h1M332 410.5h1M332 411.5h1M332 412.5h1M332 414.5h1M332 415.5h1M332 416.5h1M332 417.5h1M332 418.5h1M332 419.5h1M333 378.5h1M333 379.5h1M333 385.5h1M333 387.5h1M333 388.5h1M333 389.5h1M333 390.5h1M333 391.5h1M333 392.5h1M333 393.5h1M333 394.5h1M333 395.5h1M333 396.5h1M333 397.5h1M333 398.5h1M333 399.5h1M333 400.5h1M333 401.5h1M333 402.5h1M333 403.5h1M333 404.5h1M333 405.5h1M333 406.5h1M333 407.5h1M333 408.5h1M333 409.5h1M333 410.5h1M333 411.5h1M333 412.5h1M333 413.5h1M333 415.5h1M333 416.5h1M333 417.5h1M333 419.5h1M334 377.5h1M334 379.5h1M334 380.5h1M334 381.5h1M334 384.5h1M334 386.5h1M334 389.5h1M334 390.5h1M334 391.5h1M334 393.5h1M334 394.5h1M334 395.5h1M334 396.5h1M334 397.5h1M334 398.5h1M334 399.5h1M334 400.5h1M334 401.5h1M334 402.5h1M334 403.5h1M334 404.5h1M334 405.5h1M334 406.5h1M334 407.5h1M334 408.5h1M334 409.5h1M334 410.5h1M334 411.5h1M334 412.5h1M334 413.5h1M334 414.5h1M334 415.5h1M334 416.5h1M334 418.5h1M334 419.5h1M335 378.5h1M335 379.5h1M335 380.5h1M335 383.5h1M335 385.5h1M335 386.5h1M335 387.5h1M335 389.5h1M335 390.5h1M335 391.5h1M335 393.5h1M335 394.5h1M335 396.5h1M335 397.5h1M335 399.5h1M335 400.5h1M335 401.5h1M335 402.5h1M335 403.5h1M335 404.5h1M335 405.5h1M335 406.5h1M335 407.5h1M335 408.5h1M335 409.5h1M335 410.5h1M335 411.5h1M335 412.5h1M335 413.5h1M335 415.5h1M335 416.5h1M335 417.5h1M335 418.5h1M335 419.5h1M336 377.5h1M336 378.5h1M336 379.5h1M336 386.5h1M336 387.5h1M336 388.5h1M336 389.5h1M336 390.5h1M336 391.5h1M336 392.5h1M336 393.5h1M336 394.5h1M336 395.5h1M336 396.5h1M336 397.5h1M336 398.5h1M336 399.5h1M336 400.5h1M336 401.5h1M336 402.5h1M336 403.5h1M336 404.5h1M336 405.5h1M336 406.5h1M336 407.5h1M336 408.5h1M336 409.5h1M336 410.5h1M336 411.5h1M336 414.5h1M336 415.5h1M336 416.5h1M336 418.5h1M336 419.5h1M337 382.5h1M337 383.5h1M337 385.5h1M337 386.5h1M337 387.5h1M337 388.5h1M337 390.5h1M337 391.5h1M337 392.5h1M337 393.5h1M337 394.5h1M337 395.5h1M337 396.5h1M337 397.5h1M337 398.5h1M337 399.5h1M337 400.5h1M337 401.5h1M337 402.5h1M337 403.5h1M337 404.5h1M337 405.5h1M337 406.5h1M337 407.5h1M337 408.5h1M337 409.5h1M337 410.5h1M337 411.5h1M337 412.5h1M337 413.5h1M337 415.5h1M337 416.5h1M337 417.5h1M337 418.5h1M337 419.5h1M338 378.5h1M338 381.5h1M338 382.5h1M338 385.5h1M338 386.5h1M338 387.5h1M338 388.5h1M338 389.5h1M338 390.5h1M338 391.5h1M338 392.5h1M338 393.5h1M338 394.5h1M338 395.5h1M338 396.5h1M338 397.5h1M338 398.5h1M338 399.5h1M338 400.5h1M338 401.5h1M338 402.5h1M338 403.5h1M338 404.5h1M338 405.5h1M338 407.5h1M338 409.5h1M338 410.5h1M338 412.5h1M338 413.5h1M338 414.5h1M338 415.5h1M338 416.5h1M338 417.5h1M338 418.5h1M338 419.5h1M339 380.5h1M339 386.5h1M339 387.5h1M339 389.5h1M339 390.5h1M339 391.5h1M339 392.5h1M339 393.5h1M339 394.5h1M339 395.5h1M339 397.5h1M339 398.5h1M339 399.5h1M339 400.5h1M339 401.5h1M339 402.5h1M339 403.5h1M339 404.5h1M339 405.5h1M339 406.5h1M339 407.5h1M339 408.5h1M339 409.5h1M339 411.5h1M339 412.5h1M339 414.5h1M339 415.5h1M339 416.5h1M339 417.5h1M339 419.5h1M340 379.5h1M340 380.5h1M340 382.5h1M340 385.5h1M340 387.5h1M340 389.5h1M340 390.5h1M340 393.5h1M340 394.5h1M340 395.5h1M340 396.5h1M340 397.5h1M340 398.5h1M340 399.5h1M340 400.5h1M340 401.5h1M340 402.5h1M340 403.5h1M340 404.5h1M340 405.5h1M340 406.5h1M340 407.5h1M340 408.5h1M340 409.5h1M340 410.5h1M340 411.5h1M340 412.5h1M340 413.5h1M340 415.5h1M340 416.5h1M340 418.5h1M340 419.5h1M341 377.5h1M341 380.5h1M341 382.5h1M341 383.5h1M341 384.5h1M341 386.5h1M341 387.5h1M341 388.5h1M341 389.5h1M341 390.5h1M341 391.5h1M341 392.5h1M341 394.5h1M341 395.5h1M341 396.5h1M341 397.5h1M341 398.5h1M341 400.5h1M341 401.5h1M341 402.5h1M341 403.5h1M341 404.5h1M341 405.5h1M341 406.5h1M341 407.5h1M341 408.5h1M341 409.5h1M341 410.5h1M341 411.5h1M341 412.5h1M341 413.5h1M341 415.5h1M341 416.5h1M341 417.5h1M341 418.5h1M341 419.5h1M342 377.5h1M342 383.5h1M342 386.5h1M342 387.5h1M342 388.5h1M342 389.5h1M342 390.5h1M342 392.5h1M342 393.5h1M342 394.5h1M342 396.5h1M342 397.5h1M342 398.5h1M342 400.5h1M342 401.5h1M342 402.5h1M342 403.5h1M342 404.5h1M342 405.5h1M342 406.5h1M342 407.5h1M342 408.5h1M342 410.5h1M342 411.5h1M342 412.5h1M342 414.5h1M342 415.5h1M342 416.5h1M342 417.5h1M342 418.5h1M342 419.5h1M343 384.5h1M343 385.5h1M343 386.5h1M343 387.5h1M343 388.5h1M343 391.5h1M343 392.5h1M343 393.5h1M343 394.5h1M343 395.5h1M343 396.5h1M343 397.5h1M343 398.5h1M343 399.5h1M343 400.5h1M343 401.5h1M343 402.5h1M343 403.5h1M343 404.5h1M343 405.5h1M343 406.5h1M343 407.5h1M343 408.5h1M343 409.5h1M343 410.5h1M343 411.5h1M343 412.5h1M343 413.5h1M343 415.5h1M343 418.5h1M343 419.5h1M344 378.5h1M344 385.5h1M344 387.5h1M344 389.5h1M344 391.5h1M344 392.5h1M344 393.5h1M344 394.5h1M344 395.5h1M344 396.5h1M344 397.5h1M344 398.5h1M344 400.5h1M344 401.5h1M344 402.5h1M344 403.5h1M344 404.5h1M344 405.5h1M344 406.5h1M344 407.5h1M344 408.5h1M344 409.5h1M344 410.5h1M344 411.5h1M344 412.5h1M344 413.5h1M344 416.5h1M344 418.5h1M344 419.5h1M345 380.5h1M345 385.5h1M345 388.5h1M345 390.5h1M345 391.5h1M345 392.5h1M345 395.5h1M345 397.5h1M345 398.5h1M345 399.5h1M345 400.5h1M345 402.5h1M345 403.5h1M345 406.5h1M345 407.5h1M345 408.5h1M345 409.5h1M345 410.5h1M345 411.5h1M345 415.5h1M345 418.5h1M345 419.5h1M346 377.5h1M346 379.5h1M346 383.5h1M346 385.5h1M346 387.5h1M346 390.5h1M346 392.5h1M346 393.5h1M346 394.5h1M346 395.5h1M346 396.5h1M346 397.5h1M346 398.5h1M346 399.5h1M346 400.5h1M346 401.5h1M346 402.5h1M346 403.5h1M346 404.5h1M346 405.5h1M346 408.5h1M346 410.5h1M346 412.5h1M346 418.5h1M346 419.5h1M347 381.5h1M347 386.5h1M347 390.5h1M347 391.5h1M347 392.5h1M347 393.5h1M347 395.5h1M347 397.5h1M347 398.5h1M347 400.5h1M347 401.5h1M347 402.5h1M347 404.5h1M347 405.5h1M347 406.5h1M347 407.5h1M347 408.5h1M347 410.5h1M347 413.5h1M347 416.5h1M347 417.5h1M347 418.5h1M347 419.5h1M348 378.5h1M348 383.5h1M348 385.5h1M348 386.5h1M348 387.5h1M348 388.5h1M348 389.5h1M348 390.5h1M348 391.5h1M348 393.5h1M348 395.5h1M348 396.5h1M348 397.5h1M348 398.5h1M348 399.5h1M348 400.5h1M348 401.5h1M348 402.5h1M348 403.5h1M348 404.5h1M348 405.5h1M348 406.5h1M348 407.5h1M348 408.5h1M348 409.5h1M348 411.5h1M348 412.5h1M348 413.5h1M348 419.5h1M349 380.5h1M349 384.5h1M349 386.5h1M349 389.5h1M349 390.5h1M349 391.5h1M349 392.5h1M349 393.5h1M349 394.5h1M349 395.5h1M349 396.5h1M349 399.5h1M349 402.5h1M349 403.5h1M349 405.5h1M349 407.5h1M349 408.5h1M349 409.5h1M349 410.5h1M349 412.5h1M349 416.5h1M349 419.5h1M350 379.5h1M350 385.5h1M350 387.5h1M350 389.5h1M350 390.5h1M350 391.5h1M350 392.5h1M350 395.5h1M350 396.5h1M350 400.5h1M350 401.5h1M350 404.5h1M350 405.5h1M350 408.5h1M350 409.5h1M350 411.5h1M350 412.5h1M350 414.5h1M350 416.5h1M350 419.5h1M351 381.5h1M351 383.5h1M351 384.5h1M351 388.5h1M351 389.5h1M351 390.5h1M351 391.5h1M351 393.5h1M351 394.5h1M351 395.5h1M351 396.5h1M351 397.5h1M351 398.5h1M351 399.5h1M351 400.5h1M351 404.5h1M351 405.5h1M351 406.5h1M351 409.5h1M351 410.5h1M351 413.5h1M351 414.5h1M351 419.5h1M352 383.5h1M352 387.5h1M352 389.5h1M352 391.5h1M352 393.5h1M352 394.5h1M352 395.5h1M352 397.5h1M352 398.5h1M352 399.5h1M352 400.5h1M352 401.5h1M352 402.5h1M352 403.5h1M352 406.5h1M352 407.5h1M352 408.5h1M352 409.5h1M352 410.5h1M352 411.5h1M352 412.5h1M352 413.5h1M352 416.5h1M352 419.5h1M353 382.5h1M353 385.5h1M353 386.5h1M353 387.5h1M353 393.5h1M353 395.5h1M353 398.5h1M353 399.5h1M353 400.5h1M353 401.5h1M353 402.5h1M353 403.5h1M353 407.5h1M353 408.5h1M353 412.5h1M353 413.5h1M353 414.5h1M353 419.5h1M354 378.5h1M354 380.5h1M354 381.5h1M354 382.5h1M354 383.5h1M354 384.5h1M354 385.5h1M354 386.5h1M354 387.5h1M354 391.5h1M354 393.5h1M354 394.5h1M354 395.5h1M354 396.5h1M354 397.5h1M354 400.5h1M354 401.5h1M354 402.5h1M354 403.5h1M354 404.5h1M354 405.5h1M354 406.5h1M354 407.5h1M354 408.5h1M354 412.5h1M354 413.5h1M354 419.5h1M355 378.5h1M355 381.5h1M355 386.5h1M355 389.5h1M355 391.5h1M355 392.5h1M355 395.5h1M355 396.5h1M355 397.5h1M355 398.5h1M355 400.5h1M355 402.5h1M355 404.5h1M355 405.5h1M355 408.5h1M355 409.5h1M355 414.5h1M355 417.5h1M355 419.5h1M356 379.5h1M356 380.5h1M356 385.5h1M356 392.5h1M356 393.5h1M356 396.5h1M356 397.5h1M356 398.5h1M356 399.5h1M356 400.5h1M356 401.5h1M356 402.5h1M356 403.5h1M356 404.5h1M356 406.5h1M356 408.5h1M356 409.5h1M356 410.5h1M356 412.5h1M356 413.5h1M356 419.5h1M357 381.5h1M357 386.5h1M357 390.5h1M357 394.5h1M357 397.5h1M357 399.5h1M357 402.5h1M357 403.5h1M357 404.5h1M357 407.5h1M357 408.5h1M357 409.5h1M357 410.5h1M357 418.5h1M358 381.5h1M358 386.5h1M358 393.5h1M358 397.5h1M358 403.5h1M358 407.5h1M358 408.5h1M358 411.5h1M358 413.5h1M358 419.5h1M359 391.5h1M359 393.5h1M359 399.5h1M359 401.5h1M359 402.5h1M359 409.5h1" stroke="#000" stroke-width="1" fill="none" shape-rendering="crispEdges"/>
<path d="M332.9 377h1.4M319.3 376.4h1.4M325.3 375.8h1.4M309.8 376.3h1.4M327.2 375.7h1.4M309.7 373.7h1.4M361.3 402.3h1.4M308.6 365.3h1.4M348.7 376.9h1.4M317.5 376.6h1.4M377.6 393.1h1.4M382.8 399.8h1.4M319.8 374.2h1.4M360.2 389.7h1.4M363 412.1h1.4M314.9 377.2h1.4M345.4 375.2h1.4M361 414.1h1.4M333.3 375h1.4M322.4 377.1h1.4M365.6 378h1.4M311.3 377.1h1.4M328.4 377h1.4M369.7 391.7h1.4M305.1 374.5h1.4M320.1 375.4h1.4M325.2 376h1.4M336.9 362.6h1.4M308.6 367.2h1.4M352.5 364.3h1.4M328.7 372.4h1.4M342.4 376.6h1.4M336.9 376.8h1.4M352 376.6h1.4M311.9 375.5h1.4M350.2 369.5h1.4M318.3 373.6h1.4M343.3 373.1h1.4M332.1 374.3h1.4M344.7 371.3h1.4M333.3 366.9h1.4M350.6 372.6h1.4M336.6 374.6h1.4M341 361.2h1.4M350.3 374h1.4M310.1 376.5h1.4M339.4 370.6h1.4M321.5 368.5h1.4M324.2 361.4h1.4M344.8 375.8h1.4M331.5 369h1.4M348.8 373h1.4M342 357.9h1.4M319.6 369.6h1.4M324.3 368.7h1.4M317.9 376.7h1.4M322.7 370.7h1.4M314.1 374.8h1.4M340.1 368.6h1.4M318.4 373.7h1.4M345.2 372.1h1.4M349.9 372.7h1.4M341.9 375.6h1.4M355.4 356.2h1.4M330.3 366.9h1.4M317.6 365.7h1.4M328.3 373.9h1.4M319.9 375.7h1.4M317.6 371.1h1.4M324 372.4h1.4M336.8 374.8h1.4M326.6 375.4h1.4M348.7 372.2h1.4M333.4 362.3h1.4M351.4 363h1.4M337.6 376.5h1.4M354.8 361.2h1.4M335.4 370.9h1.4M317.4 368.3h1.4M324.6 370.4h1.4M328.6 372.9h1.4M318.2 375.9h1.4M351.3 374.3h1.4M337.8 376.6h1.4M326.2 374.8h1.4M321.4 370.7h1.4M331 371.8h1.4M322.6 360.6h1.4M316.8 364.2h1.4M328.7 377.1h1.4M326.5 362.1h1.4M336.1 345.3h1.4M314.6 353.5h1.4M330.3 326.4h1.4M337.8 351h1.4M344.6 361.5h1.4M314 361.5h1.4M347.8 342.9h1.4M340.4 356.2h1.4M330.7 339.6h1.4M346.7 364h1.4M344.7 326.2h1.4M345.7 336.1h1.4M325.9 351.2h1.4M311.2 326.9h1.4M317.9 358.4h1.4M320 327.7h1.4M315.4 356h1.4M332.2 357.2h1.4M347.5 367.1h1.4M331.5 324.9h1.4M331.4 333.7h1.4M311.5 323h1.4M348.2 364.2h1.4M326.3 337.5h1.4M333.7 348.5h1.4M322.6 355h1.4M321.7 336.6h1.4M351.2 335.6h1.4M328 365.2h1.4M338.5 354h1.4M326.7 334.1h1.4M327.8 353.6h1.4M353.1 339.6h1.4M309.5 348.1h1.4M312.1 336.6h1.4M316 333.3h1.4M345.1 363.4h1.4M353.5 360.8h1.4M352.9 354.9h1.4M327.7 326.7h1.4M336.2 347.1h1.4M332.9 363.2h1.4M347.9 352.4h1.4M340 360.6h1.4M383.2 365.8h1.4M350.1 373.3h1.4M381.9 371.2h1.4M421.5 340.2h1.4M394.6 345.7h1.4M360.2 362.3h1.4M362.3 364.6h1.4M471.6 294.4h1.4M358.7 363.3h1.4M366.2 357h1.4M364.4 367.4h1.4M452.3 295.5h1.4M406.4 336.5h1.4M387.7 356.3h1.4M439.9 327.8h1.4M365.8 367.6h1.4M447.2 318.1h1.4M369.1 390.5h1.4M458.7 308h1.4M434.2 324.6h1.4M422.2 342.9h1.4M352.3 363.3h1.4M374.8 390.1h1.4M394.3 350.6h1.4M438 312.7h1.4M395.2 369h1.4M380.5 363.1h1.4M365.9 374h1.4M360.7 360.6h1.4M378.8 378.6h1.4M362.7 370.3h1.4M467.8 326.9h1.4M500.8 284.5h1.4M423.7 333.8h1.4M351 370.5h1.4M357.5 361.4h1.4M401.9 336.2h1.4M402.8 347.2h1.4M477.3 294.4h1.4M406.5 335.8h1.4M447.8 324.5h1.4M440.7 321.7h1.4M348.3 372.6h1.4M467 305.2h1.4M419.2 325h1.4M356.9 363.2h1.4M378.8 363.2h1.4M340.3 363.9h1.4M470.2 308.8h1.4M360.2 379.4h1.4M373.4 344.9h1.4M399 358.3h1.4M366.7 363.8h1.4M354.4 369.4h1.4M407.8 368.4h1.4M492.4 292.5h1.4M386.5 353h1.4M363.5 374.9h1.4M361.5 356.8h1.4M369.5 373.7h1.4M374.7 360.3h1.4M368.7 387.7h1.4M403.5 350.7h1.4M403.9 328.4h1.4M366.9 380.8h1.4M385.5 348.5h1.4M366.8 375h1.4M430.5 311.5h1.4M478.4 296.5h1.4M371.8 378.5h1.4M473.7 296.6h1.4M452.1 319.9h1.4M359.6 371.5h1.4M407.2 337.7h1.4M456.9 312.3h1.4M483.8 276.4h1.4M424.1 326.1h1.4M384.1 369.8h1.4M410.9 355.8h1.4M406.9 358h1.4M399.8 354.7h1.4M451.2 317.1h1.4M371.7 371.8h1.4M382.5 355.5h1.4M363.1 379h1.4M353.8 343.2h1.4M373 348.6h1.4M348.6 372.9h1.4M416.3 313.6h1.4M442 326.6h1.4M368.4 372.7h1.4M350.3 344.7h1.4M370.7 364.6h1.4M358.3 366.4h1.4M467.4 285.6h1.4M465.9 313.2h1.4M375.1 365.7h1.4M404.6 340.5h1.4M393.7 356.2h1.4M373.7 370.8h1.4M479.8 289.8h1.4M363 360.2h1.4M439.3 334.8h1.4M361.6 384.2h1.4M446.9 330.9h1.4M369.7 364.1h1.4M362.3 384.8h1.4M414 330.1h1.4M386.4 351.6h1.4M405.2 353.5h1.4M374.9 346.7h1.4M344 365.7h1.4M364.3 379.9h1.4M356.6 369.3h1.4M400.8 360h1.4M393.6 360.6h1.4M390.1 329.1h1.4M405.5 331.3h1.4M389.6 355.4h1.4M442.9 311.1h1.4M394.7 326.9h1.4M428.5 333.2h1.4M399.9 340.6h1.4M367.1 362.1h1.4M415.6 342.4h1.4M375.8 358.3h1.4M502 279.8h1.4M387.1 344.4h1.4M358.4 364h1.4M389.4 364.2h1.4M358 359.5h1.4M382.9 360.3h1.4M469.4 284.6h1.4M357.1 358.3h1.4M408.2 355.6h1.4M372.9 353.2h1.4M454 310.3h1.4M444.1 310.3h1.4M364.2 397.4h1.4M452.4 305.9h1.4M367.9 373.9h1.4M381 362.7h1.4M455.3 296.5h1.4M392.4 361.7h1.4M346.5 364.9h1.4M457.5 302.3h1.4M437.6 313.2h1.4M436.2 330.1h1.4M363.5 351.3h1.4M471.2 303.1h1.4M414.5 323.1h1.4M482 295.8h1.4M367.2 375.3h1.4M387.9 361.8h1.4M353.2 372.9h1.4M445.4 312.7h1.4M415.7 336.8h1.4M454.2 298.7h1.4M377.7 372.7h1.4M365 381.9h1.4M360.5 358.2h1.4M395.9 354.6h1.4M375.5 349.1h1.4M473.9 299.3h1.4M360.8 373.4h1.4M487.5 298.5h1.4M365.7 381.6h1.4M391.9 362.3h1.4M415.1 353.9h1.4M415.5 335h1.4M433.7 326.6h1.4M379.9 364.1h1.4M467.1 299.7h1.4M474.7 311.2h1.4M399 348.4h1.4M455.4 306.8h1.4M375.1 371.6h1.4M354.6 363.8h1.4M369.7 350.8h1.4M359.4 361.7h1.4M398.5 348h1.4M358.6 414.1h1.4M361.7 390.7h1.4M361.5 385.1h1.4M365.1 393.2h1.4M364.5 383.4h1.4M362.3 404.3h1.4M366.9 389.6h1.4M368.3 408.2h1.4M364 381.2h1.4M361.4 406.1h1.4M360.7 408.7h1.4M359.5 404.7h1.4M369.9 392.2h1.4M361.1 414.1h1.4M369.9 382.6h1.4M359.9 399.3h1.4M368.7 410.7h1.4M365.5 400.9h1.4M358.5 407.6h1.4M360.7 398.1h1.4M362.7 381.3h1.4M361.9 407.4h1.4M361.3 414h1.4M363.4 385.6h1.4M367.2 388.2h1.4M365.3 392.3h1.4M358.3 383.2h1.4M366.3 393.8h1.4M360 381h1.4M367.9 394.7h1.4M358.9 390.3h1.4M364.1 389.8h1.4M359.6 403.1h1.4M366.1 408.7h1.4M363 404h1.4M363 382.9h1.4M367.5 394.6h1.4M358.7 402.6h1.4M366.2 399.4h1.4M364 393.1h1.4M367 405.9h1.4M362.1 408.2h1.4M361.6 413.6h1.4M362.8 389.6h1.4M363.7 396.4h1.4M366.4 380.4h1.4M359.3 405.5h1.4M359.2 382.4h1.4M364.8 399.7h1.4M366.6 412.3h1.4" stroke="#222" stroke-width="1.4" fill="none"/>
<text x="311" y="298.5" font-size="14" fill="#222">2.23%</text>
<text x="443.5" y="296.7" font-size="14" fill="#222">3.68%</text>
<text x="447.5" y="406.5" font-size="14" fill="#222">1.52%</text>
<text x="49.7" y="697.8" font-size="10" fill="#000" stroke="#000" stroke-width="0.25" textLength="8.6" lengthAdjust="spacingAndGlyphs">10</text><text x="58.9" y="692" font-size="6.5" fill="#000" stroke="#000" stroke-width="0.2">0</text>
<text x="98.3" y="697.8" font-size="10" fill="#000" stroke="#000" stroke-width="0.25" textLength="8.6" lengthAdjust="spacingAndGlyphs">10</text><text x="107.5" y="692" font-size="6.5" fill="#000" stroke="#000" stroke-width="0.2">1</text>
<text x="146.9" y="697.8" font-size="10" fill="#000" stroke="#000" stroke-width="0.25" textLength="8.6" lengthAdjust="spacingAndGlyphs">10</text><text x="156.1" y="692" font-size="6.5" fill="#000" stroke="#000" stroke-width="0.2">2</text>
<text x="195.4" y="697.8" font-size="10" fill="#000" stroke="#000" stroke-width="0.25" textLength="8.6" lengthAdjust="spacingAndGlyphs">10</text><text x="204.6" y="692" font-size="6.5" fill="#000" stroke="#000" stroke-width="0.2">3</text>
<text x="244" y="697.8" font-size="10" fill="#000" stroke="#000" stroke-width="0.25" textLength="8.6" lengthAdjust="spacingAndGlyphs">10</text><text x="253.2" y="692" font-size="6.5" fill="#000" stroke="#000" stroke-width="0.2">4</text>
<text x="49.2" y="679.2" font-size="10" fill="#000" stroke="#000" stroke-width="0.2" textLength="5" lengthAdjust="spacingAndGlyphs">0</text>
<text x="44.2" y="638.2" font-size="10" fill="#000" stroke="#000" stroke-width="0.2" textLength="10" lengthAdjust="spacingAndGlyphs">67</text>
<text x="39.2" y="597.2" font-size="10" fill="#000" stroke="#000" stroke-width="0.2" textLength="15" lengthAdjust="spacingAndGlyphs">134</text>
<text x="39.2" y="556.2" font-size="10" fill="#000" stroke="#000" stroke-width="0.2" textLength="15" lengthAdjust="spacingAndGlyphs">201</text>
<text x="39.2" y="515.2" font-size="10" fill="#000" stroke="#000" stroke-width="0.2" textLength="15" lengthAdjust="spacingAndGlyphs">268</text>
<path d="M59.2 675.5v3.5M107.8 675.5v3.5M156.4 675.5v3.5M204.9 675.5v3.5M253.5 675.5v3.5M59.2 675.5h-3.5M59.2 634.5h-3.5M59.2 593.5h-3.5M59.2 552.5h-3.5M59.2 511.5h-3.5" stroke="#333" stroke-width="1" fill="none"/>
<path d="M73.8 675.5v2M82.4 675.5v2M88.4 675.5v2M93.2 675.5v2M97 675.5v2M100.3 675.5v2M103.1 675.5v2M105.6 675.5v2M122.4 675.5v2M131 675.5v2M137 675.5v2M141.7 675.5v2M145.6 675.5v2M148.8 675.5v2M151.6 675.5v2M154.1 675.5v2M171 675.5v2M179.5 675.5v2M185.6 675.5v2M190.3 675.5v2M194.1 675.5v2M197.4 675.5v2M200.2 675.5v2M202.7 675.5v2M219.5 675.5v2M228.1 675.5v2M234.2 675.5v2M238.9 675.5v2M242.7 675.5v2M246 675.5v2M248.8 675.5v2M251.3 675.5v2M59.2 671.4h-1.5M59.2 667.3h-1.5M59.2 663.2h-1.5M59.2 659.1h-1.5M59.2 655h-1.5M59.2 650.9h-1.5M59.2 646.8h-1.5M59.2 642.7h-1.5M59.2 638.6h-1.5M59.2 630.4h-1.5M59.2 626.3h-1.5M59.2 622.2h-1.5M59.2 618.1h-1.5M59.2 614h-1.5M59.2 609.9h-1.5M59.2 605.8h-1.5M59.2 601.7h-1.5M59.2 597.6h-1.5M59.2 589.4h-1.5M59.2 585.3h-1.5M59.2 581.2h-1.5M59.2 577.1h-1.5M59.2 573h-1.5M59.2 568.9h-1.5M59.2 564.8h-1.5M59.2 560.7h-1.5M59.2 556.6h-1.5M59.2 548.4h-1.5M59.2 544.3h-1.5M59.2 540.2h-1.5M59.2 536.1h-1.5M59.2 532h-1.5M59.2 527.9h-1.5M59.2 523.8h-1.5M59.2 519.7h-1.5M59.2 515.6h-1.5" stroke="#999" stroke-width="0.8" fill="none"/>
<rect x="59.2" y="511.5" width="194.3" height="164" fill="none" stroke="#222" stroke-width="1.3"/>
<path d="M59.70 674.7 59.98 673.8 60.26 673.3 60.54 670.7 60.82 672.7 61.10 672.5 61.38 672.8 61.66 672 61.94 672.7 62.22 672 62.50 670.8 62.78 673.8 63.06 673.7 63.34 674.7 63.62 672.4 63.90 671.7 64.18 671.4 64.46 669.9 64.74 673.5 65.02 670.4 65.30 670.2 65.58 671.5 65.86 674 66.14 672.1 66.42 670.1 66.70 670.5 66.98 672.5 67.26 671.2 67.54 670.2 67.82 670.9 68.10 672.4 68.38 674.3 68.66 669.1 68.94 670 69.22 669.6 69.50 666.9 69.78 669.3 70.06 669 70.34 672.5 70.62 670.4 70.90 667.8 71.18 671.6 71.46 669.8 71.74 667.3 72.02 669.2 72.30 669.2 72.58 668.6 72.86 670.1 73.14 666 73.42 669.4 73.70 671.6 73.98 671.3 74.26 671.7 74.54 671.6 74.82 672.2 75.10 667.4 75.38 670.9 75.66 665.9 75.94 668.1 76.22 665.6 76.50 671 76.78 671.5 77.06 668.5 77.34 672.2 77.62 667.4 77.90 668.9 78.18 668.8 78.46 666.4 78.74 669.2 79.02 672.1 79.30 666.2 79.58 669.9 79.86 667.7 80.14 671.5 80.42 668.8 80.70 669.1 80.98 669 81.26 668.1 81.54 664.7 81.82 670.3 82.10 664.6 82.38 667.8 82.66 668.5 82.94 665.4 83.22 667.3 83.50 669.4 83.78 666.8 84.06 664.9 84.34 660.5 84.62 664.5 84.90 665.3 85.18 665.3 85.46 664.3 85.74 667.1 86.02 664.9 86.30 665.9 86.58 667.5 86.86 664.1 87.14 665.2 87.42 670.5 87.70 667.6 87.98 662.7 88.26 665.3 88.54 666.7 88.82 668.1 89.10 665.6 89.38 664 89.66 663.4 89.94 666.5 90.22 665.6 90.50 663.7 90.78 664.3 91.06 663.7 91.34 666.3 91.62 662.9 91.90 665.6 92.18 666.3 92.46 665.4 92.74 662.2 93.02 667.3 93.30 662.4 93.58 664.9 93.86 662 94.14 659.6 94.42 664.2 94.70 664.3 94.98 663.3 95.26 664.1 95.54 661.8 95.82 661.5 96.10 662.9 96.38 667.9 96.66 665.2 96.94 661.8 97.22 664.4 97.50 661.8 97.78 661.8 98.06 665 98.34 661.5 98.62 658.6 98.90 660.5 99.18 662.9 99.46 662.9 99.74 665.6 100.02 660.7 100.30 664.4 100.58 663.7 100.86 662.3 101.14 664.8 101.42 664 101.70 660.7 101.98 665.5 102.26 659.9 102.54 663.1 102.82 663 103.10 664.1 103.38 661.4 103.66 663.1 103.94 662.9 104.22 665.7 104.50 661.4 104.78 663.6 105.06 662.8 105.34 660.4 105.62 670 105.90 663.4 106.18 660.1 106.46 667.1 106.74 661.2 107.02 664.7 107.30 665.9 107.58 662.4 107.86 663 108.14 662.8 108.42 663.8 108.70 660.4 108.98 661.4 109.26 664 109.54 666.9 109.82 666 110.10 668.6 110.38 666.3 110.66 663.6 110.94 664.6 111.22 660.3 111.50 662.9 111.78 662.8 112.06 665.8 112.34 666.8 112.62 664.1 112.90 664.2 113.18 662.1 113.46 665.4 113.74 666.3 114.02 666.8 114.30 664.2 114.58 670.3 114.86 668.7 115.14 665.9 115.42 665.1 115.70 665.6 115.98 666.7 116.26 666.4 116.54 667.6 116.82 668.3 117.10 669.6 117.38 669.2 117.66 666.7 117.94 667.8 118.22 666.2 118.50 665.8 118.78 671.1 119.06 666.1 119.34 671.3 119.62 666.4 119.90 667.7 120.18 669.4 120.46 667.3 120.74 668.1 121.02 666.8 121.30 666.3 121.58 667 121.86 666 122.14 670.7 122.42 667 122.70 670.9 122.98 661.9 123.26 667.5 123.54 668.6 123.82 666.9 124.10 669.8 124.38 668.9 124.66 667 124.94 668.5 125.22 673.3 125.50 668.2 125.78 668.3 126.06 666.8 126.34 668 126.62 665.2 126.90 667.4 127.18 672.7 127.46 670 127.74 669.1 128.02 670.1 128.30 671.7 128.58 669.1 128.86 672.1 129.14 670.1 129.42 668.3 129.70 671.4 129.98 663.4 130.26 667 130.54 668.6 130.82 666.3 131.10 667.8 131.38 666.9 131.66 666.9 131.94 673.6 132.22 669.5 132.50 668.2 132.78 670.9 133.06 667.9 133.34 670.1 133.62 669.1 133.90 671.6 134.18 665.7 134.46 669.9 134.74 668.7 135.02 666.3 135.30 670.6 135.58 666.8 135.86 671.6 136.14 669.5 136.42 669.8 136.70 668.7 136.98 670.2 137.26 664.9 137.54 668.6 137.82 667.3 138.10 669 138.38 668.4 138.66 669.7 138.94 666.9 139.22 672.1 139.50 673 139.78 668.1 140.06 668.5 140.34 669.1 140.62 670.9 140.90 672.2 141.18 666.2 141.46 667.3 141.74 666.4 142.02 666.3 142.30 665.3 142.58 669.2 142.86 666.3 143.14 671.4 143.42 670.3 143.70 666.5 143.98 666.5 144.26 667.3 144.54 671.2 144.82 666.9 145.10 665.6 145.38 668.4 145.66 669.2 145.94 667.2 146.22 671.6 146.50 669 146.78 669.4 147.06 666.8 147.34 668.4 147.62 668.2 147.90 664.1 148.18 669.1 148.46 665 148.74 668.4 149.02 665.6 149.30 672.4 149.58 669.1 149.86 670.2 150.14 670.3 150.42 665.9 150.70 664 150.98 667.8 151.26 670.1 151.54 668.5 151.82 669.9 152.10 670.1 152.38 665.3 152.66 668.8 152.94 672.1 153.22 667.1 153.50 664.1 153.78 667.7 154.06 667.2 154.34 668.9 154.62 666.3 154.90 668.2 155.18 663.6 155.46 669.7 155.74 671.1 156.02 670.5 156.30 664.8 156.58 668.5 156.86 661.8 157.14 668.4 157.42 667.6 157.70 665.7 157.98 668.4 158.26 668 158.54 669.5 158.82 667.9 159.10 668.1 159.38 663.6 159.66 665.2 159.94 666.5 160.22 668 160.50 667.3 160.78 670.3 161.06 665.2 161.34 666.4 161.62 667.4 161.90 666.2 162.18 667.6 162.46 665.3 162.74 669.4 163.02 665.5 163.30 668.6 163.58 665.9 163.86 669.2 164.14 662.7 164.42 666.8 164.70 664.6 164.98 665.9 165.26 668 165.54 662.6 165.82 662.1 166.10 662.6 166.38 665.3 166.66 660.1 166.94 664.4 167.22 660.9 167.50 661 167.78 662.6 168.06 664.2 168.34 661.5 168.62 661.6 168.90 662.5 169.18 661.7 169.46 655.4 169.74 660.8 170.02 661.9 170.30 664.2 170.58 666.5 170.86 662.7 171.14 660.9 171.42 657.9 171.70 660.5 171.98 662.1 172.26 663 172.54 656.7 172.82 659.3 173.10 660.5 173.38 663.1 173.66 658.1 173.94 655.3 174.22 654.4 174.50 654.9 174.78 653.6 175.06 657.6 175.34 657.9 175.62 656.4 175.90 657.5 176.18 651.9 176.46 654.1 176.74 651.2 177.02 652.1 177.30 655.3 177.58 650.5 177.86 643.7 178.14 648.4 178.42 646.2 178.70 642.7 178.98 644.5 179.26 650 179.54 651.9 179.82 643.5 180.10 648.2 180.38 648.2 180.66 638.9 180.94 642.4 181.22 641.7 181.50 641.9 181.78 634.4 182.06 638.5 182.34 643 182.62 643 182.90 644.4 183.18 634.8 183.46 642.9 183.74 637.1 184.02 627.8 184.30 635.7 184.58 630.1 184.86 632.9 185.14 629.4 185.42 634.2 185.70 629.1 185.98 625.8 186.26 630.3 186.54 626 186.82 621.8 187.10 628.5 187.38 619.6 187.66 617.4 187.94 616.7 188.22 611.1 188.50 614.3 188.78 625 189.06 610.3 189.34 613.7 189.62 607 189.90 608.3 190.18 618 190.46 613.8 190.74 604.9 191.02 606.9 191.30 601.2 191.58 599.9 191.86 597.8 192.14 596.5 192.42 601.7 192.70 601.8 192.98 599.8 193.26 594.8 193.54 586.7 193.82 592.5 194.10 586.2 194.38 595.2 194.66 591.9 194.94 591.7 195.22 583.8 195.50 573.8 195.78 588.8 196.06 588.9 196.34 570.2 196.62 577.9 196.90 582.2 197.18 565.8 197.46 581.5 197.74 565.8 198.02 558.9 198.30 572.6 198.58 563.3 198.86 554.8 199.14 563.2 199.42 542.7 199.70 566.8 199.98 547.5 200.26 553.7 200.54 547.6 200.82 551.9 201.10 553.7 201.38 540.3 201.66 550.2 201.94 541.2 202.22 538.2 202.50 541.7 202.78 536.3 203.06 541.6 203.34 546 203.62 543.4 203.90 546.8 204.18 546.1 204.46 544.3 204.74 543.8 205.02 548.5 205.30 552.4 205.58 553.5 205.86 553.2 206.14 559.2 206.42 554.4 206.70 557.3 206.98 562.2 207.26 569.8 207.54 568.7 207.82 568.5 208.10 575 208.38 578.2 208.66 581.7 208.94 581.8 209.22 584 209.50 588.9 209.78 592.5 210.06 597.9 210.34 602.1 210.62 600.1 210.90 603.8 211.18 608 211.46 611.1 211.74 615.7 212.02 619.1 212.30 622 212.58 627.1 212.86 628.1 213.14 629.6 213.42 631.2 213.70 634.4 213.98 636.7 214.26 638 214.54 643.7 214.82 645.4 215.10 647 215.38 648.8 215.66 650.4 215.94 653.5 216.22 657.9 216.50 654.9 216.78 658.5 217.06 660.3 217.34 660.9 217.62 661.7 217.90 663.9 218.18 663.5 218.46 666.1 218.74 667.9 219.02 667.3 219.30 667.9 219.58 668.9 219.86 669.8 220.14 670.4 220.42 670.4 220.70 669.9 220.98 670.1 221.26 671.2 221.54 671.7 221.82 671.3 222.10 672.3 222.38 672.8 222.66 673.5 222.94 673 223.22 673.7 223.50 673 223.78 673.3 224.06 673.5 224.34 674.2 224.62 674.7 224.90 673.7 225.18 673.8 225.46 674 225.74 673 226.02 673.9 226.30 673.1 226.58 674.3 226.86 674.2 227.14 673.8 227.42 673.3 227.70 674.3 227.98 673.8 228.26 673.7 228.54 673.9 228.82 673 229.10 673.9 229.38 674.1 229.66 673.9 229.94 673.8 230.22 673.4 230.50 674 230.78 673.8 231.06 673.8 231.34 673.5 231.62 674.1 231.90 674.3 232.18 674 232.46 674.2 232.74 674.4 233.02 674.5 233.30 673.9 233.58 673.8 233.86 673.7 234.14 673.9 234.42 674.1 234.70 674.3 234.98 673.7 235.26 674 235.54 673.5 235.82 674.4 236.10 673.8 236.38 674.1 236.66 673.7 236.94 673.8 237.22 673.7 237.50 674.6 237.78 674.1 238.06 673.9 238.34 673.6 238.62 673.8 238.90 674.2 239.18 674.7 239.46 673.5 239.74 673.7 240.02 674 240.30 673.8 240.58 673.5 240.86 674.1 241.14 674.4 241.42 673.5 241.70 674.2 241.98 674.5 242.26 674.5 242.54 674 242.82 674.7 243.10 674.4 243.38 673.9 243.66 674.6 243.94 673.8 244.22 674.5 244.50 673.7 244.78 674.5 245.06 674 245.34 674.7 245.62 674.5 245.90 674.4 246.18 674.3 246.46 674.7 246.74 673.6 247.02 674.5 247.30 674.5 247.58 674.5 247.86 674.6 248.14 674.7 248.42 674.4 248.70 674.6 248.98 674.4 249.26 674.7 249.54 673.7 249.82 674.7 250.10 674.2 250.38 673.6 250.66 674 250.94 674.4 251.22 674.5 251.50 674.4 251.78 674.7 252.06 674.5 252.34 674.5 252.62 673.7 252.90 674.7" stroke="#000" stroke-width="1.5" fill="none" stroke-linejoin="miter"/>
<path d="M171 575H233M171 565v20M233 565v20" stroke="#000" stroke-width="2.6" fill="none"/>
<text x="300.5" y="699.3" font-size="10" fill="#000" stroke="#000" stroke-width="0.25" textLength="8.6" lengthAdjust="spacingAndGlyphs">10</text><text x="309.7" y="693.5" font-size="6.5" fill="#000" stroke="#000" stroke-width="0.2">0</text>
<text x="349.1" y="699.3" font-size="10" fill="#000" stroke="#000" stroke-width="0.25" textLength="8.6" lengthAdjust="spacingAndGlyphs">10</text><text x="358.3" y="693.5" font-size="6.5" fill="#000" stroke="#000" stroke-width="0.2">1</text>
<text x="397.8" y="699.3" font-size="10" fill="#000" stroke="#000" stroke-width="0.25" textLength="8.6" lengthAdjust="spacingAndGlyphs">10</text><text x="406.9" y="693.5" font-size="6.5" fill="#000" stroke="#000" stroke-width="0.2">2</text>
<text x="446.4" y="699.3" font-size="10" fill="#000" stroke="#000" stroke-width="0.25" textLength="8.6" lengthAdjust="spacingAndGlyphs">10</text><text x="455.6" y="693.5" font-size="6.5" fill="#000" stroke="#000" stroke-width="0.2">3</text>
<text x="495" y="699.3" font-size="10" fill="#000" stroke="#000" stroke-width="0.25" textLength="8.6" lengthAdjust="spacingAndGlyphs">10</text><text x="504.2" y="693.5" font-size="6.5" fill="#000" stroke="#000" stroke-width="0.2">4</text>
<text x="300" y="680.7" font-size="10" fill="#000" stroke="#000" stroke-width="0.2" textLength="5" lengthAdjust="spacingAndGlyphs">0</text>
<text x="295" y="639.7" font-size="10" fill="#000" stroke="#000" stroke-width="0.2" textLength="10" lengthAdjust="spacingAndGlyphs">67</text>
<text x="290" y="598.7" font-size="10" fill="#000" stroke="#000" stroke-width="0.2" textLength="15" lengthAdjust="spacingAndGlyphs">134</text>
<text x="290" y="557.7" font-size="10" fill="#000" stroke="#000" stroke-width="0.2" textLength="15" lengthAdjust="spacingAndGlyphs">201</text>
<text x="290" y="516.7" font-size="10" fill="#000" stroke="#000" stroke-width="0.2" textLength="15" lengthAdjust="spacingAndGlyphs">268</text>
<path d="M310 677v3.5M358.6 677v3.5M407.2 677v3.5M455.9 677v3.5M504.5 677v3.5M310 677h-3.5M310 636h-3.5M310 595h-3.5M310 554h-3.5M310 513h-3.5" stroke="#333" stroke-width="1" fill="none"/>
<path d="M324.6 677v2M333.2 677v2M339.3 677v2M344 677v2M347.8 677v2M351.1 677v2M353.9 677v2M356.4 677v2M373.3 677v2M381.8 677v2M387.9 677v2M392.6 677v2M396.5 677v2M399.7 677v2M402.5 677v2M405 677v2M421.9 677v2M430.5 677v2M436.5 677v2M441.2 677v2M445.1 677v2M448.3 677v2M451.2 677v2M453.7 677v2M470.5 677v2M479.1 677v2M485.2 677v2M489.9 677v2M493.7 677v2M497 677v2M499.8 677v2M502.3 677v2M310 672.9h-1.5M310 668.8h-1.5M310 664.7h-1.5M310 660.6h-1.5M310 656.5h-1.5M310 652.4h-1.5M310 648.3h-1.5M310 644.2h-1.5M310 640.1h-1.5M310 631.9h-1.5M310 627.8h-1.5M310 623.7h-1.5M310 619.6h-1.5M310 615.5h-1.5M310 611.4h-1.5M310 607.3h-1.5M310 603.2h-1.5M310 599.1h-1.5M310 590.9h-1.5M310 586.8h-1.5M310 582.7h-1.5M310 578.6h-1.5M310 574.5h-1.5M310 570.4h-1.5M310 566.3h-1.5M310 562.2h-1.5M310 558.1h-1.5M310 549.9h-1.5M310 545.8h-1.5M310 541.7h-1.5M310 537.6h-1.5M310 533.5h-1.5M310 529.4h-1.5M310 525.3h-1.5M310 521.2h-1.5M310 517.1h-1.5" stroke="#999" stroke-width="0.8" fill="none"/>
<rect x="310" y="513" width="194.5" height="164" fill="none" stroke="#222" stroke-width="1.3"/>
<path d="M310.50 669.5 310.78 667.7 311.06 673.4 311.34 667.5 311.62 668 311.90 671 312.18 665.4 312.46 665.8 312.74 667.4 313.02 666 313.30 663.8 313.58 665.8 313.86 665.3 314.14 667.3 314.42 661.8 314.70 663.9 314.98 668.1 315.26 669.6 315.54 661.3 315.82 666.4 316.10 662.2 316.38 662.3 316.66 662.1 316.94 663 317.22 666.3 317.50 665.5 317.78 663.6 318.06 662.4 318.34 663.1 318.62 662.6 318.90 664.8 319.18 660.9 319.46 662.3 319.74 661.9 320.02 661.8 320.30 662.5 320.58 662.2 320.86 665 321.14 661.1 321.42 665.3 321.70 660.1 321.98 659.5 322.26 660.9 322.54 661.4 322.82 661 323.10 663.7 323.38 663.1 323.66 661.1 323.94 658.6 324.22 659.1 324.50 663.2 324.78 659.6 325.06 655.1 325.34 656.7 325.62 656.8 325.90 661.7 326.18 657.8 326.46 664.6 326.74 659.7 327.02 658 327.30 656.1 327.58 660.2 327.86 656.4 328.14 654.5 328.42 658.5 328.70 656.7 328.98 660.2 329.26 656.2 329.54 647.6 329.82 658.6 330.10 650.3 330.38 660.6 330.66 661.4 330.94 654.4 331.22 652 331.50 651.1 331.78 658 332.06 654.5 332.34 653.2 332.62 654.2 332.90 661.3 333.18 655.8 333.46 656.9 333.74 656.9 334.02 657.5 334.30 657.5 334.58 651.8 334.86 653.2 335.14 651.4 335.42 651.4 335.70 657.2 335.98 651.8 336.26 653 336.54 650.9 336.82 651.1 337.10 655.5 337.38 651.3 337.66 651.1 337.94 654.1 338.22 654.1 338.50 655 338.78 652.9 339.06 646.5 339.34 654.3 339.62 653.8 339.90 655.4 340.18 649.2 340.46 660.3 340.74 647.8 341.02 654.2 341.30 651.9 341.58 650.1 341.86 654.4 342.14 650.6 342.42 643.7 342.70 647.6 342.98 652.9 343.26 658.8 343.54 646.3 343.82 651.1 344.10 656 344.38 653.1 344.66 649.8 344.94 646.2 345.22 644.9 345.50 648.3 345.78 649.5 346.06 643.1 346.34 644.9 346.62 651.6 346.90 649.1 347.18 648 347.46 649.2 347.74 647.9 348.02 653.8 348.30 656.3 348.58 657.8 348.86 653.3 349.14 653.5 349.42 655.9 349.70 656.9 349.98 656 350.26 655.3 350.54 649.1 350.82 646 351.10 654.3 351.38 651.1 351.66 651.3 351.94 648.6 352.22 647.3 352.50 656.3 352.78 653.3 353.06 648.3 353.34 653.2 353.62 652.9 353.90 653.7 354.18 659.5 354.46 652.2 354.74 648.3 355.02 652.8 355.30 650.7 355.58 654.8 355.86 653.8 356.14 654.5 356.42 651.7 356.70 655 356.98 652.2 357.26 655.7 357.54 653.3 357.82 650.9 358.10 656.1 358.38 652.5 358.66 659.4 358.94 656.5 359.22 656.7 359.50 655.8 359.78 655.4 360.06 648.5 360.34 659.7 360.62 653.7 360.90 659.2 361.18 654.6 361.46 656.2 361.74 656.2 362.02 653.9 362.30 656.6 362.58 658.7 362.86 656.2 363.14 653.8 363.42 656 363.70 658.6 363.98 661.3 364.26 660.6 364.54 659.1 364.82 655.5 365.10 661.2 365.38 658.8 365.66 658.1 365.94 661.6 366.22 660.9 366.50 660.7 366.78 656.1 367.06 657.8 367.34 654.9 367.62 660.4 367.90 660 368.18 662.7 368.46 660.8 368.74 659.4 369.02 666.3 369.30 657.8 369.58 657.1 369.86 659.3 370.14 662.5 370.42 660.3 370.70 660.2 370.98 658.5 371.26 665.6 371.54 660.1 371.82 659 372.10 661.7 372.38 660 372.66 661.5 372.94 665.7 373.22 661.1 373.50 662.2 373.78 661.4 374.06 662 374.34 664.7 374.62 664 374.90 661.8 375.18 660.3 375.46 662.4 375.74 665 376.02 662.9 376.30 662.6 376.58 658.4 376.86 665.7 377.14 659.4 377.42 660 377.70 662.3 377.98 663.4 378.26 663.5 378.54 661.6 378.82 662.8 379.10 662.1 379.38 659.1 379.66 663.1 379.94 662.1 380.22 664.9 380.50 663.6 380.78 666.4 381.06 665.8 381.34 666.4 381.62 667.2 381.90 666 382.18 663.9 382.46 667.7 382.74 662.2 383.02 664.4 383.30 666.6 383.58 663.7 383.86 666.2 384.14 662.4 384.42 663 384.70 665.6 384.98 666 385.26 667.2 385.54 664 385.82 664.9 386.10 665.7 386.38 665.2 386.66 660.8 386.94 662.6 387.22 667.6 387.50 660.8 387.78 665.5 388.06 662.8 388.34 666.3 388.62 661.8 388.90 663.9 389.18 658.6 389.46 663.6 389.74 666.4 390.02 659.8 390.30 666.6 390.58 661.7 390.86 663.4 391.14 656.5 391.42 666.2 391.70 661.2 391.98 662 392.26 660.1 392.54 660.8 392.82 666.2 393.10 661.9 393.38 665.5 393.66 662.7 393.94 664 394.22 661.8 394.50 664.2 394.78 669.7 395.06 664.7 395.34 664.2 395.62 661.6 395.90 665.4 396.18 666.2 396.46 658.2 396.74 659 397.02 668 397.30 663.5 397.58 662.7 397.86 663.8 398.14 665.1 398.42 664.3 398.70 661.5 398.98 667.5 399.26 662 399.54 659.5 399.82 660.3 400.10 661.4 400.38 660.6 400.66 661.1 400.94 662.4 401.22 652.6 401.50 659.3 401.78 663.9 402.06 662.8 402.34 659.3 402.62 659.4 402.90 664.1 403.18 660.3 403.46 659.4 403.74 665.9 404.02 659.7 404.30 662.6 404.58 660.5 404.86 660.7 405.14 657.8 405.42 658 405.70 663.6 405.98 656.8 406.26 660.6 406.54 656.4 406.82 658.9 407.10 659.3 407.38 654.7 407.66 662.4 407.94 658.5 408.22 662.4 408.50 656.1 408.78 661.2 409.06 665.2 409.34 659 409.62 656.3 409.90 659.5 410.18 658.3 410.46 657.2 410.74 657.3 411.02 655.8 411.30 658.6 411.58 656.1 411.86 654.5 412.14 659.3 412.42 656.1 412.70 664.3 412.98 655.3 413.26 653.5 413.54 653.8 413.82 656.3 414.10 652.7 414.38 650.6 414.66 659.5 414.94 650.1 415.22 658.6 415.50 654 415.78 649.8 416.06 658.3 416.34 652 416.62 649.1 416.90 652.3 417.18 656 417.46 653.6 417.74 653.7 418.02 656.5 418.30 650.9 418.58 651.1 418.86 648.6 419.14 644 419.42 648.1 419.70 653.9 419.98 641.7 420.26 652.2 420.54 648 420.82 643.4 421.10 646.5 421.38 652.3 421.66 643.4 421.94 648 422.22 648.7 422.50 640.4 422.78 645.5 423.06 644.5 423.34 640 423.62 643.8 423.90 639 424.18 637.5 424.46 634.2 424.74 640 425.02 636 425.30 634.8 425.58 631.7 425.86 630.1 426.14 631.8 426.42 637.4 426.70 630.3 426.98 639.2 427.26 633.9 427.54 631.9 427.82 625.1 428.10 638 428.38 622.1 428.66 630 428.94 634.3 429.22 624.9 429.50 621.7 429.78 623.9 430.06 627.3 430.34 628.5 430.62 624.1 430.90 615.2 431.18 616.1 431.46 619.3 431.74 611 432.02 615 432.30 626.2 432.58 608.8 432.86 618.9 433.14 607.2 433.42 609.2 433.70 609.5 433.98 601 434.26 607.2 434.54 613.5 434.82 609.5 435.10 608.3 435.38 599.3 435.66 601.7 435.94 602.6 436.22 604.1 436.50 606.8 436.78 592.8 437.06 606.8 437.34 594.6 437.62 593.8 437.90 587.3 438.18 592.7 438.46 590.7 438.74 583.8 439.02 588.2 439.30 589.4 439.58 585 439.86 590.8 440.14 578.8 440.42 589 440.70 581.2 440.98 583.4 441.26 568.5 441.54 579.4 441.82 576.9 442.10 581.9 442.38 567.4 442.66 582.1 442.94 565.4 443.22 579.5 443.50 573.7 443.78 564 444.06 581.8 444.34 558.9 444.62 564.4 444.90 565.8 445.18 566.7 445.46 563.7 445.74 566.4 446.02 563 446.30 559.8 446.58 553.1 446.86 556.6 447.14 564.6 447.42 550.4 447.70 558.6 447.98 543.7 448.26 553.6 448.54 548.2 448.82 568.1 449.10 556.4 449.38 560.9 449.66 563.9 449.94 564.4 450.22 565.6 450.50 567 450.78 566.5 451.06 568.4 451.34 568.6 451.62 570.9 451.90 569.3 452.18 575.8 452.46 580.4 452.74 578.3 453.02 579.7 453.30 584.6 453.58 589 453.86 591.3 454.14 588.3 454.42 594.8 454.70 595.2 454.98 599.7 455.26 597.5 455.54 606.1 455.82 606.3 456.10 610 456.38 611.9 456.66 613 456.94 618.3 457.22 619 457.50 621 457.78 625.6 458.06 626.7 458.34 628.1 458.62 632.9 458.90 633 459.18 636.1 459.46 639.5 459.74 642.1 460.02 644.7 460.30 646.6 460.58 645.8 460.86 646.1 461.14 650.4 461.42 651.4 461.70 650.7 461.98 653.2 462.26 653.3 462.54 653.4 462.82 657.5 463.10 658.1 463.38 659.2 463.66 662 463.94 663.1 464.22 662 464.50 662.3 464.78 662.4 465.06 664.8 465.34 665.2 465.62 666.5 465.90 667 466.18 667.2 466.46 668.2 466.74 668.1 467.02 670.8 467.30 670.3 467.58 671.8 467.86 671.7 468.14 672.6 468.42 673.1 468.70 672.8 468.98 672.6 469.26 674.5 469.54 673.3 469.82 673.9 470.10 673.7 470.38 673.5 470.66 674.7 470.94 674.4 471.22 674.5 471.50 673.5 471.78 674.8 472.06 675.2 472.34 675.2 472.62 675.1 472.90 675.8 473.18 675.6 473.46 675.9 473.74 676.2 474.02 676.2 474.30 675.6 474.58 676.1 474.86 675.7 475.14 675.3 475.42 676.1 475.70 675.4 475.98 675.9 476.26 675.2 476.54 675.7 476.82 675.9 477.10 676 477.38 675.9 477.66 675.7 477.94 675.7 478.22 676.2 478.50 675.9 478.78 676 479.06 676.2 479.34 675.5 479.62 675.4 479.90 675.7 480.18 675.9 480.46 675.7 480.74 676.1 481.02 676 481.30 675.6 481.58 676.1 481.86 675.6 482.14 676.2 482.42 676.2 482.70 676.2 482.98 676.2 483.26 676 483.54 676.2 483.82 676.1 484.10 675.9 484.38 675.6 484.66 676.2 484.94 676.2 485.22 676 485.50 676 485.78 676 486.06 676.2 486.34 676.2 486.62 675.8 486.90 676 487.18 676 487.46 676.2 487.74 676.2 488.02 676.2 488.30 676.1 488.58 675.8 488.86 676.2 489.14 676.2 489.42 676 489.70 676.2 489.98 676.2 490.26 676.2 490.54 676.2 490.82 676.2 491.10 676.2 491.38 675.9 491.66 676.2 491.94 676.2 492.22 676.2 492.50 675.8 492.78 676 493.06 676.2 493.34 675.6 493.62 676.2 493.90 676.1 494.18 676.1 494.46 676.1 494.74 675.5 495.02 676.2 495.30 676.2 495.58 676.2 495.86 676.2 496.14 676.2 496.42 676.2 496.70 675.5 496.98 676.2 497.26 676.2 497.54 676.2 497.82 676.2 498.10 676.1 498.38 676.1 498.66 676.2 498.94 676.2 499.22 676.2 499.50 676.2 499.78 675.9 500.06 676.2 500.34 676 500.62 675.4 500.90 676.2 501.18 676.2 501.46 676.2 501.74 676.2 502.02 676.2 502.30 676 502.58 676.2 502.86 675.9 503.14 676.1 503.42 676 503.70 676.2 503.98 676.2" stroke="#000" stroke-width="1.5" fill="none" stroke-linejoin="miter"/>
<path d="M421.5 576H483.5M421.5 566v20M483.5 566v20" stroke="#000" stroke-width="2.6" fill="none"/>
<path d="M176 220H348.3" stroke="#111" stroke-width="1.3" fill="none"/>
<path d="M353.3 220l-8.5 -4v8z" fill="#111"/>
<path d="M177 451.7H348.3" stroke="#111" stroke-width="1.3" fill="none"/>
<path d="M353.3 451.7l-8.5 -4v8z" fill="#111"/>
<path d="M177 700.3H348.3" stroke="#111" stroke-width="1.3" fill="none"/>
<path d="M353.3 700.3l-8.5 -4v8z" fill="#111"/>
<path d="M30.4 314V170" stroke="#111" stroke-width="1.3" fill="none"/><path d="M30.4 164l-4.2 8.5h8.4z" fill="#111"/>
<text x="264.7" y="240" font-size="16" font-weight="bold" text-anchor="middle" fill="#111" >F4/80</text>
<text x="263.7" y="472" font-size="16" font-weight="bold" text-anchor="middle" fill="#111" >Gr-1</text>
<text x="265.5" y="721" font-size="17.5" text-anchor="middle" fill="#111" stroke="#111" stroke-width="0.5">Ter119</text>
<text transform="translate(15.6,242.6) rotate(-90)" font-size="16" font-weight="bold" text-anchor="middle" fill="#111">Mac-1</text>
<text transform="translate(28.3,604.7) rotate(-90)" font-size="18.5" text-anchor="middle" fill="#111" stroke="#111" stroke-width="0.65">Counts</text>
<text font-size="23" font-weight="bold" fill="#111" transform="translate(3.2,19.5) scale(1.08,1)">A</text>
<text font-size="21.5" font-weight="bold" fill="#111" transform="translate(3.2,764.3) scale(1.22,1)">B</text>
<text font-size="21.5" font-weight="bold" fill="#111" transform="translate(281.2,764.3) scale(1.1,1)">C</text>
<text x="155" y="17.3" font-size="20" font-weight="bold" text-anchor="middle" fill="#111" letter-spacing="-0.5">wt</text>
<text x="156.5" y="504" font-size="20" font-weight="bold" text-anchor="middle" fill="#111" letter-spacing="-0.5">wt</text>
<text x="392" y="17" font-size="20" font-weight="bold" text-anchor="middle" fill="#111" font-style="italic">-/-</text>
<text x="404.5" y="504" font-size="20" font-weight="bold" text-anchor="middle" fill="#111" font-style="italic">-/-</text>
<path d="M68.8 777.5V940.7H254" stroke="#111" stroke-width="1.5" fill="none"/>
<text x="57" y="945.9" font-size="15" font-weight="bold" text-anchor="end" fill="#111" transform="translate(57 0) scale(0.88 1) translate(-57 0)">0</text>
<text x="57" y="905.1" font-size="15" font-weight="bold" text-anchor="end" fill="#111" transform="translate(57 0) scale(0.88 1) translate(-57 0)">20</text>
<text x="57" y="864.3" font-size="15" font-weight="bold" text-anchor="end" fill="#111" transform="translate(57 0) scale(0.88 1) translate(-57 0)">40</text>
<text x="57" y="823.5" font-size="15" font-weight="bold" text-anchor="end" fill="#111" transform="translate(57 0) scale(0.88 1) translate(-57 0)">60</text>
<text x="57" y="782.7" font-size="15" font-weight="bold" text-anchor="end" fill="#111" transform="translate(57 0) scale(0.88 1) translate(-57 0)">80</text>
<path d="M68.8 940.7h4M68.8 899.9h4M68.8 859.1h4M68.8 818.3h4M68.8 777.5h4" stroke="#111" stroke-width="1.3" fill="none"/>
<rect x="108.5" y="787.7" width="53.5" height="153" fill="#fff" stroke="#111" stroke-width="1.3"/>
<rect x="162" y="816.5" width="53.5" height="124.2" fill="#000" stroke="#000" stroke-width="1"/>
<path d="M132.5 786.8h6.5M189 816.5V808.8M185 808.8h8" stroke="#111" stroke-width="1.2" fill="none"/>
<text x="188" y="812" font-size="30" font-weight="bold" text-anchor="middle" fill="#111" >**</text>
<text x="136.5" y="958" font-size="16.5" text-anchor="middle" fill="#111" stroke="#111" stroke-width="0.45" letter-spacing="0">wt</text>
<text x="193" y="958" font-size="16" text-anchor="middle" fill="#111" font-style="italic" stroke="#111" stroke-width="0.35">-/-</text>
<text transform="translate(30.2,862.2) rotate(-90)" font-size="16" text-anchor="middle" fill="#111" stroke="#111" stroke-width="0.5" letter-spacing="1.2">Ter119<tspan font-size="10" dy="-5">+</tspan><tspan dy="5"> cells (%)</tspan></text>
<path d="M334 779.8V942H518.5" stroke="#111" stroke-width="1.5" fill="none"/>
<text x="319.6" y="947.6" font-size="16" text-anchor="end" fill="#111" stroke="#111" stroke-width="0.25">0</text>
<text x="319.6" y="920.6" font-size="16" text-anchor="end" fill="#111" stroke="#111" stroke-width="0.25">1</text>
<text x="319.6" y="893.5" font-size="16" text-anchor="end" fill="#111" stroke="#111" stroke-width="0.25">2</text>
<text x="319.6" y="866.5" font-size="16" text-anchor="end" fill="#111" stroke="#111" stroke-width="0.25">3</text>
<text x="319.6" y="839.5" font-size="16" text-anchor="end" fill="#111" stroke="#111" stroke-width="0.25">4</text>
<text x="319.6" y="812.4" font-size="16" text-anchor="end" fill="#111" stroke="#111" stroke-width="0.25">5</text>
<text x="319.6" y="785.4" font-size="16" text-anchor="end" fill="#111" stroke="#111" stroke-width="0.25">6</text>
<path d="M334 942h4M334 915h4M334 887.9h4M334 860.9h4M334 833.9h4M334 806.8h4M334 779.8h4" stroke="#111" stroke-width="1.3" fill="none"/>
<rect x="353.7" y="879.6" width="23.8" height="62.4" fill="#fff" stroke="#111" stroke-width="1.2"/>
<rect x="377.5" y="850.4" width="26.7" height="91.6" fill="#000" stroke="#111" stroke-width="1.2"/>
<rect x="444" y="840.2" width="23.7" height="101.8" fill="#fff" stroke="#111" stroke-width="1.2"/>
<rect x="467.7" y="807.6" width="24.2" height="134.4" fill="#000" stroke="#111" stroke-width="1.2"/>
<path d="M365.4 879.6V871.6M361.5 871.6h8M391 850.4V840.2M387 840.2h8M453.3 840.2V825M452 822h4M479 807.6V790.8M475 790.8h8.5" stroke="#111" stroke-width="1.2" fill="none"/>
<text x="391.5" y="844.3" font-size="29" font-weight="bold" text-anchor="middle" fill="#111" >**</text>
<text x="477" y="793.5" font-size="28" font-weight="bold" text-anchor="middle" fill="#111" >*</text>
<rect x="358.6" y="784.8" width="9.8" height="9.8" fill="#fff" stroke="#111" stroke-width="1.3"/>
<rect x="358.6" y="807.6" width="10" height="10" fill="#000"/>
<text x="374.3" y="795" font-size="16" fill="#111" stroke="#111" stroke-width="0.3" letter-spacing="0.7">wt (n=4)</text>
<text x="374.2" y="818" font-size="16" fill="#111" stroke="#111" stroke-width="0.3" letter-spacing="0.15"><tspan font-style="italic">-/-</tspan> (n=4)</text>
<text transform="translate(299,861) rotate(-90)" font-size="16.5" text-anchor="middle" fill="#111" stroke="#111" stroke-width="0.5" letter-spacing="0.72">Percentage (%)</text>
<text x="381.7" y="962" font-size="13.1" font-weight="bold" text-anchor="middle" fill="#111">Mac-1<tspan font-size="8" dy="-4">+</tspan><tspan dy="4"> Gr-1</tspan><tspan font-size="8" dy="-4">+</tspan></text>
<text x="476" y="962" font-size="13.3" font-weight="bold" text-anchor="middle" fill="#111">Mac-1<tspan font-size="8" dy="-4">+</tspan><tspan dy="4"> F4/80</tspan><tspan font-size="8" dy="-4">+</tspan></text>
</svg>
</body></html>
